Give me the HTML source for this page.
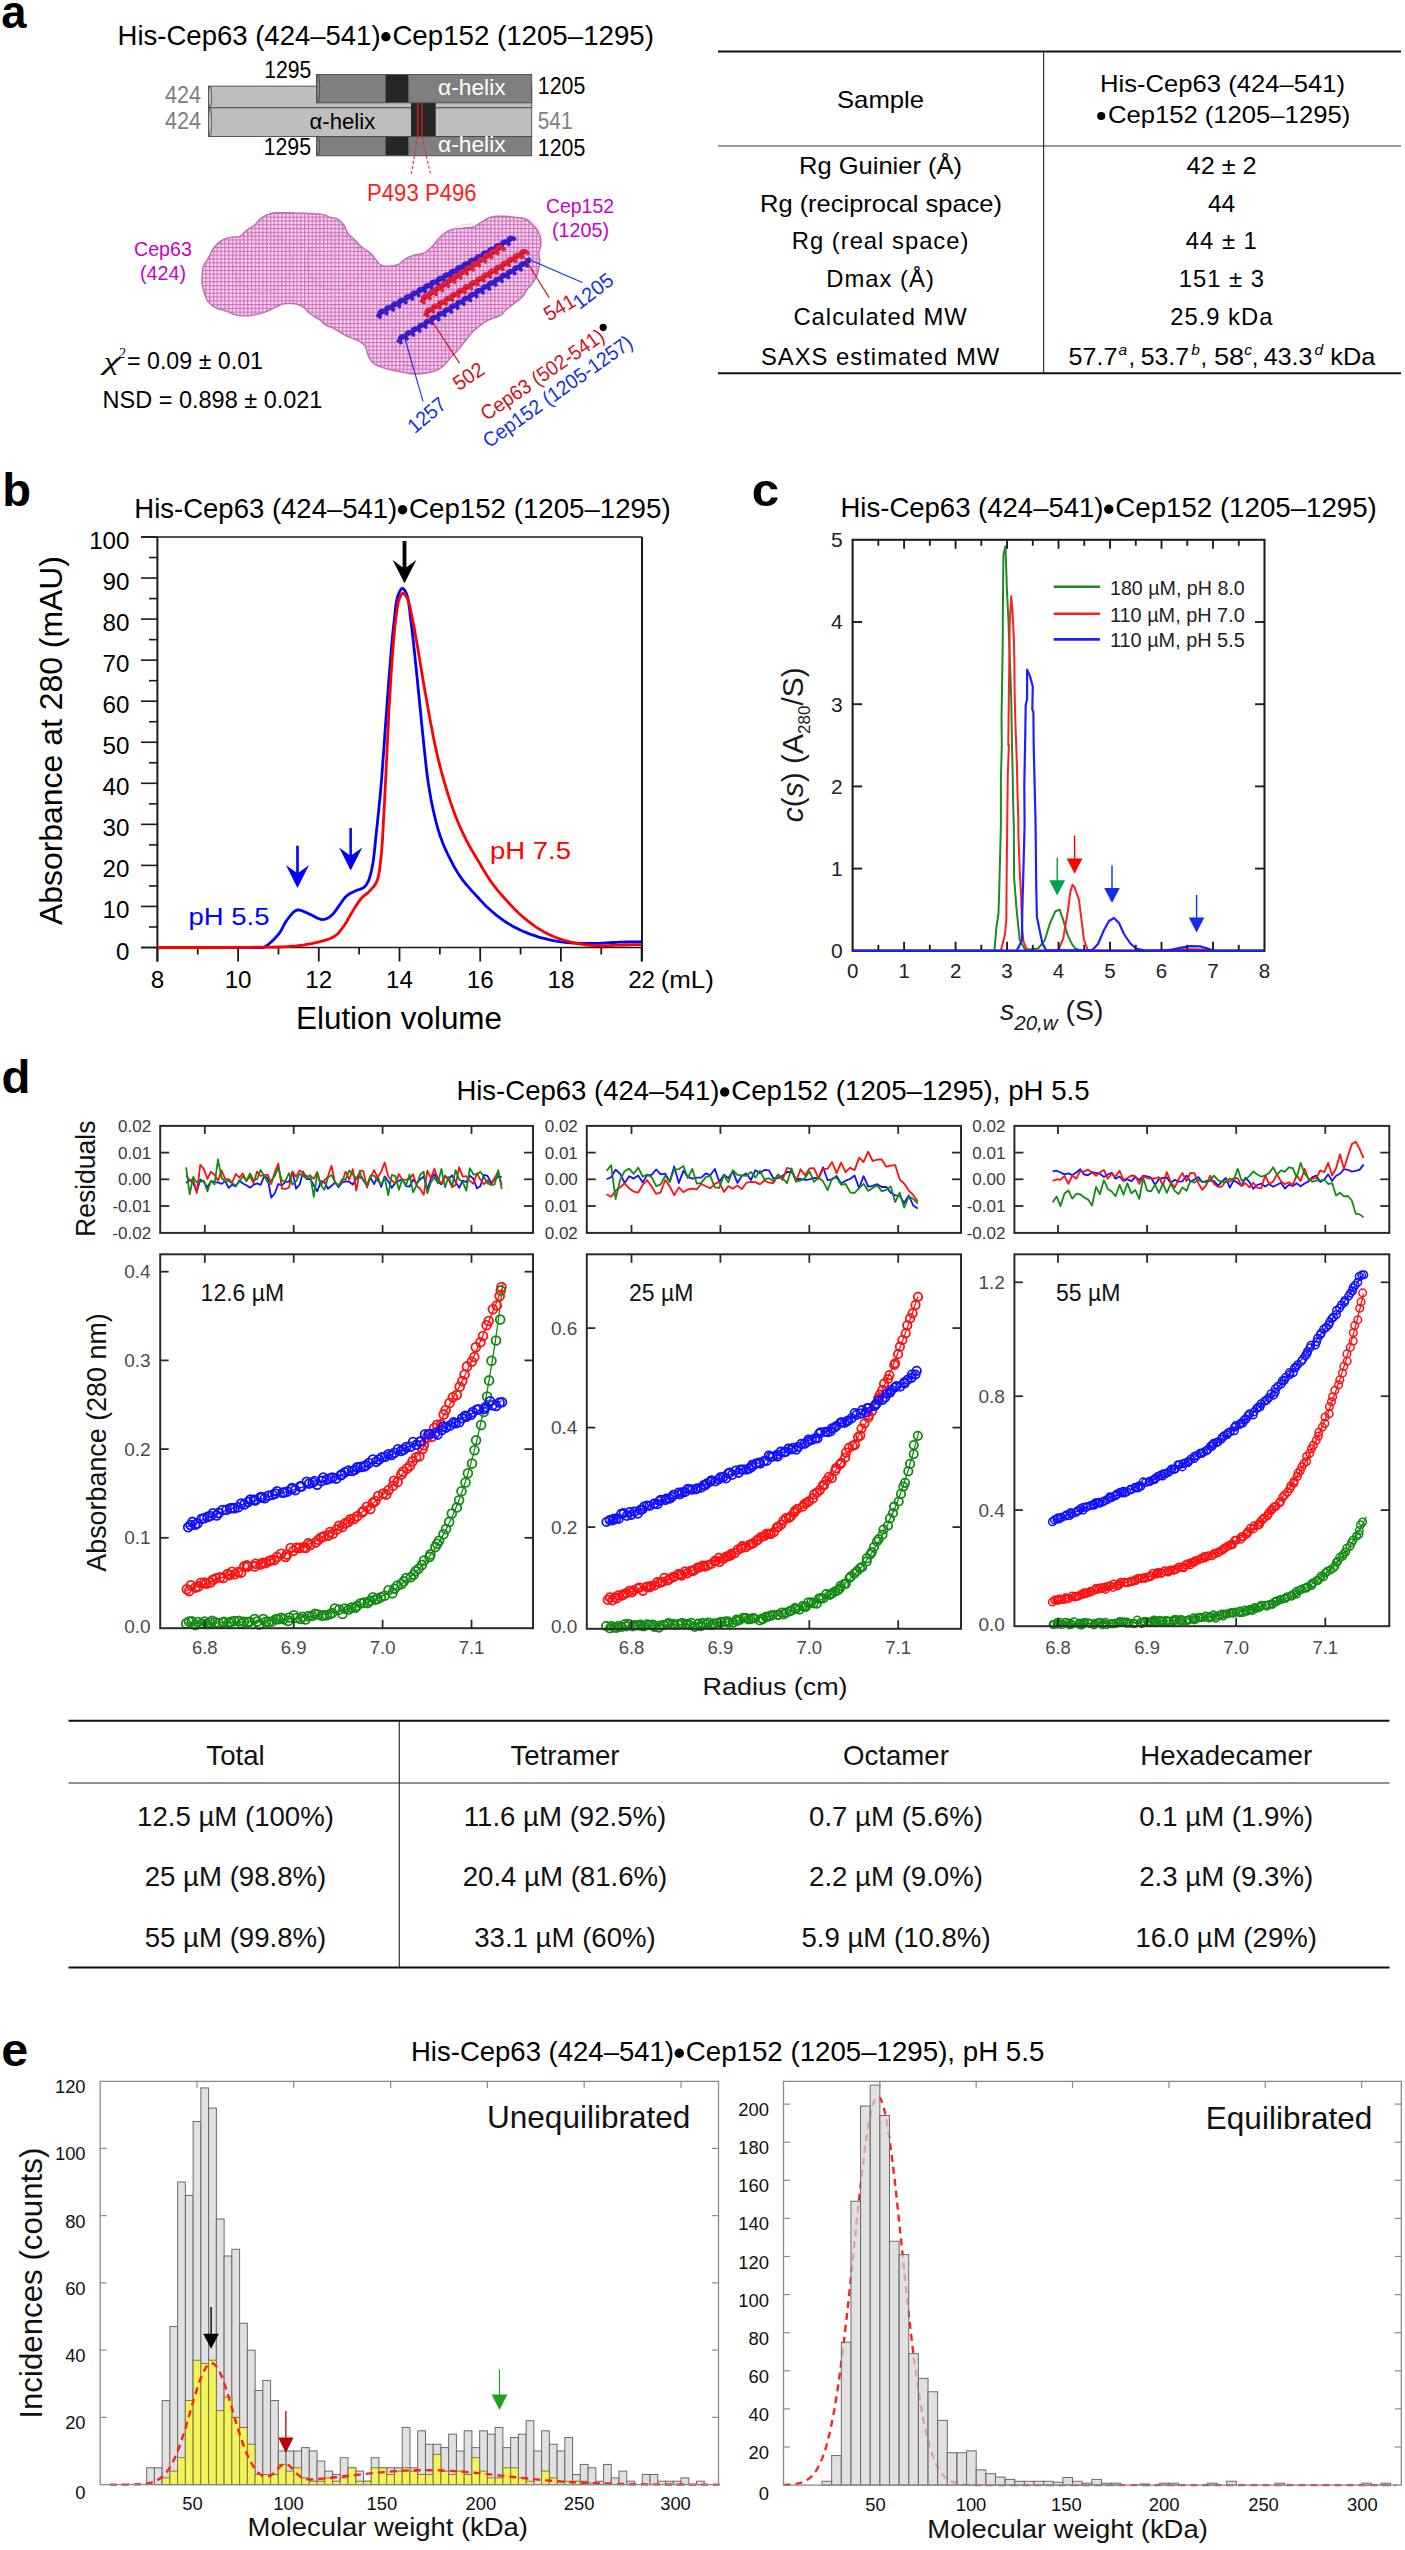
<!DOCTYPE html>
<html><head><meta charset="utf-8"><title>Figure</title>
<style>html,body{margin:0;padding:0;background:#fff;} svg{display:block;} text{font-family:"Liberation Sans",sans-serif;}</style>
</head><body>
<svg width="1405" height="2550" viewBox="0 0 1405 2550">
<rect width="1405" height="2550" fill="#fff"/>
<text x="1.30" y="27.90" font-size="47" font-weight="bold"  textLength="25.2" lengthAdjust="spacingAndGlyphs">a</text>
<text x="117.60" y="44.50" font-size="27.2" textLength="263" lengthAdjust="spacingAndGlyphs">His-Cep63 (424–541)</text>
<circle cx="385.90" cy="36.70" r="4.7" fill="#000" stroke="none" stroke-width="1" />
<text x="392.40" y="44.50" font-size="27.2" textLength="261.5" lengthAdjust="spacingAndGlyphs">Cep152 (1205–1295)</text>
<rect x="208.50" y="86.10" width="323.20" height="21.70" fill="#bebebe" stroke="#4a4a4a" stroke-width="0.9" />
<ellipse cx="210.10" cy="96.95" rx="1.6" ry="10.85" fill="#bebebe" stroke="#4a4a4a" stroke-width="0.8"/>
<rect x="208.50" y="107.80" width="323.20" height="28.70" fill="#bebebe" stroke="#4a4a4a" stroke-width="0.9" />
<ellipse cx="210.10" cy="122.15" rx="1.6" ry="14.35" fill="#bebebe" stroke="#4a4a4a" stroke-width="0.8"/>
<rect x="411.00" y="103.00" width="24.70" height="33.50" fill="#262626" />
<line x1="417.80" y1="103.00" x2="417.80" y2="136.50" stroke="#ff2020" stroke-width="1.1" />
<line x1="422.00" y1="103.00" x2="422.00" y2="136.50" stroke="#ff2020" stroke-width="1.1" />
<rect x="316.50" y="136.50" width="215.20" height="19.30" fill="#7f7f7f" stroke="#4a4a4a" stroke-width="0.9" />
<ellipse cx="318.10" cy="146.15" rx="1.6" ry="9.65" fill="#7f7f7f" stroke="#4a4a4a" stroke-width="0.8"/>
<rect x="385.60" y="137.00" width="22.80" height="18.30" fill="#262626" />
<rect x="316.50" y="74.50" width="215.20" height="28.30" fill="#7f7f7f" stroke="#4a4a4a" stroke-width="0.9" />
<ellipse cx="318.10" cy="88.65" rx="1.6" ry="14.15" fill="#7f7f7f" stroke="#4a4a4a" stroke-width="0.8"/>
<rect x="385.60" y="75.00" width="22.80" height="27.30" fill="#262626" />
<text x="438.00" y="95.00" font-size="22.5" fill="#fff"  textLength="67.6" lengthAdjust="spacingAndGlyphs">α-helix</text>
<text x="438.00" y="151.80" font-size="22.5" fill="#fff"  textLength="67.6" lengthAdjust="spacingAndGlyphs">α-helix</text>
<text x="309.50" y="128.50" font-size="22.5"  textLength="65.7" lengthAdjust="spacingAndGlyphs">α-helix</text>
<line x1="417.80" y1="136.50" x2="411.20" y2="174.60" stroke="#ff2020" stroke-width="1.1" stroke-dasharray="3,2"/>
<line x1="422.00" y1="136.50" x2="430.60" y2="174.60" stroke="#ff2020" stroke-width="1.1" stroke-dasharray="3,2"/>
<text x="264.20" y="77.80" font-size="23.2"  textLength="47.0" lengthAdjust="spacingAndGlyphs">1295</text>
<text x="263.70" y="154.60" font-size="23.2"  textLength="47.3" lengthAdjust="spacingAndGlyphs">1295</text>
<text x="537.80" y="94.30" font-size="23.2"  textLength="47.5" lengthAdjust="spacingAndGlyphs">1205</text>
<text x="537.80" y="156.00" font-size="23.2"  textLength="47.5" lengthAdjust="spacingAndGlyphs">1205</text>
<text x="165.00" y="103.00" font-size="23.2" fill="#808080"  textLength="36.0" lengthAdjust="spacingAndGlyphs">424</text>
<text x="165.00" y="128.70" font-size="23.2" fill="#808080"  textLength="36.0" lengthAdjust="spacingAndGlyphs">424</text>
<text x="537.80" y="129.00" font-size="23.2" fill="#808080"  textLength="34.7" lengthAdjust="spacingAndGlyphs">541</text>
<text x="367.00" y="200.80" font-size="23.2" fill="#ff2020"  textLength="109.6" lengthAdjust="spacingAndGlyphs">P493 P496</text>
<line x1="718.00" y1="51.50" x2="1401.00" y2="51.50" stroke="#111" stroke-width="2.0" />
<line x1="718.00" y1="146.00" x2="1401.00" y2="146.00" stroke="#333" stroke-width="1.2" />
<line x1="718.00" y1="373.30" x2="1401.00" y2="373.30" stroke="#111" stroke-width="2.0" />
<line x1="1043.60" y1="51.50" x2="1043.60" y2="373.30" stroke="#333" stroke-width="1.2" />
<text x="837.00" y="107.50" font-size="23.8"  textLength="87.0" lengthAdjust="spacingAndGlyphs">Sample</text>
<text x="1100.00" y="92.00" font-size="23.8"  textLength="245.0" lengthAdjust="spacingAndGlyphs">His-Cep63 (424–541)</text>
<circle cx="1101.20" cy="116.00" r="4.1" fill="#000" stroke="none" stroke-width="1" />
<text x="1107.90" y="123.00" font-size="23.8"  textLength="242.3" lengthAdjust="spacingAndGlyphs">Cep152 (1205–1295)</text>
<text x="799.00" y="174.20" font-size="23.8"  textLength="163.0" lengthAdjust="spacingAndGlyphs">Rg Guinier (Å)</text>
<text x="1186.60" y="174.20" font-size="23.8"  textLength="70.0" lengthAdjust="spacingAndGlyphs">42 ± 2</text>
<text x="760.00" y="211.80" font-size="23.8"  textLength="242.0" lengthAdjust="spacingAndGlyphs">Rg (reciprocal space)</text>
<text x="1207.90" y="211.80" font-size="23.8"  textLength="27.4" lengthAdjust="spacingAndGlyphs">44</text>
<text x="880.60" y="249.40" font-size="23.8" text-anchor="middle" letter-spacing="1.0">Rg (real space)</text>
<text x="1221.80" y="249.40" font-size="23.8" text-anchor="middle" letter-spacing="1.0">44 ± 1</text>
<text x="880.60" y="287.00" font-size="23.8" text-anchor="middle" letter-spacing="1.0">Dmax (Å)</text>
<text x="1221.80" y="287.00" font-size="23.8" text-anchor="middle" letter-spacing="1.0">151 ± 3</text>
<text x="880.60" y="325.00" font-size="23.8" text-anchor="middle" letter-spacing="1.0">Calculated MW</text>
<text x="1221.80" y="325.00" font-size="23.8" text-anchor="middle" letter-spacing="1.0">25.9 kDa</text>
<text x="880.60" y="364.80" font-size="23.8" text-anchor="middle" letter-spacing="1.0">SAXS estimated MW</text>
<text x="1068.40" y="364.60" font-size="23.8"  textLength="49.0" lengthAdjust="spacingAndGlyphs">57.7</text>
<text x="1128.50" y="364.60" font-size="23.8">,</text>
<text x="1140.70" y="364.60" font-size="23.8"  textLength="48.3" lengthAdjust="spacingAndGlyphs">53.7</text>
<text x="1200.50" y="364.60" font-size="23.8">,</text>
<text x="1214.00" y="364.60" font-size="23.8"  textLength="30.2" lengthAdjust="spacingAndGlyphs">58</text>
<text x="1251.80" y="364.60" font-size="23.8">,</text>
<text x="1263.80" y="364.60" font-size="23.8"  textLength="48.5" lengthAdjust="spacingAndGlyphs">43.3</text>
<text x="1330.30" y="364.60" font-size="23.8"  textLength="44.9" lengthAdjust="spacingAndGlyphs">kDa</text>
<text x="1118.50" y="355.00" font-size="15.5" font-style="italic">a</text>
<text x="1191.20" y="355.00" font-size="15.5" font-style="italic">b</text>
<text x="1244.20" y="355.00" font-size="15.5" font-style="italic">c</text>
<text x="1314.50" y="355.00" font-size="15.5" font-style="italic">d</text>
<defs>
<pattern id="mesh" patternUnits="userSpaceOnUse" width="3.8" height="3.8">
<rect width="3.8" height="3.8" fill="#f8dcf2"/>
<path d="M0,0.7 H3.8 M0.7,0 V3.8" stroke="#d070be" stroke-width="1.2"/>
</pattern>
<radialGradient id="blobshade" cx="0.5" cy="0.5" r="0.6">
<stop offset="0.6" stop-color="#b04aa0" stop-opacity="0"/>
<stop offset="1" stop-color="#b04aa0" stop-opacity="0.25"/>
</radialGradient>
</defs>
<path d="M202.0,276.8 L202.2,274.2 L202.4,271.5 L202.7,268.9 L203.3,266.5 L204.2,264.5 L205.3,262.6 L206.6,260.8 L207.8,258.8 L209.3,256.0 L210.7,253.0 L212.4,250.0 L214.2,247.3 L216.2,245.0 L218.4,242.9 L220.7,241.1 L223.2,239.6 L225.7,238.6 L228.4,237.9 L231.0,237.4 L233.5,237.0 L235.2,236.9 L236.8,236.9 L238.4,236.8 L239.9,236.4 L241.6,235.3 L243.1,233.8 L244.7,232.1 L246.3,230.6 L248.2,229.3 L250.1,228.1 L252.1,226.9 L254.0,225.5 L255.9,223.7 L257.7,221.6 L259.6,219.6 L261.7,217.8 L264.0,216.4 L266.5,215.1 L269.2,214.1 L271.9,213.3 L274.9,212.8 L278.0,212.7 L281.3,212.7 L284.7,212.7 L289.2,212.7 L294.1,212.9 L299.1,213.1 L304.0,213.3 L309.0,213.5 L314.2,213.7 L319.1,214.0 L323.2,214.6 L325.2,215.2 L326.8,215.9 L328.3,216.6 L330.0,217.2 L331.9,217.6 L333.9,218.0 L335.9,218.4 L337.7,219.1 L339.5,220.3 L341.2,221.9 L342.7,223.7 L344.1,225.5 L345.2,227.4 L346.0,229.4 L346.8,231.3 L347.9,233.2 L349.3,234.9 L351.0,236.5 L352.7,238.0 L354.4,239.6 L356.3,241.5 L358.1,243.5 L360.1,245.5 L362.1,247.3 L364.3,249.0 L366.7,250.5 L369.0,252.1 L371.0,253.7 L372.5,255.3 L373.7,256.9 L374.9,258.5 L376.2,260.1 L377.4,261.6 L378.5,263.0 L379.8,264.3 L381.3,265.3 L383.6,265.9 L386.2,266.2 L389.0,266.1 L391.5,265.9 L393.5,265.7 L395.5,265.3 L397.4,264.8 L399.2,264.0 L400.9,262.9 L402.4,261.5 L403.9,260.1 L405.6,258.8 L407.7,257.7 L410.0,256.7 L412.3,255.8 L414.6,255.0 L416.9,254.5 L419.2,254.2 L421.4,253.8 L423.6,253.1 L425.6,252.0 L427.6,250.6 L429.5,249.0 L431.3,247.3 L433.3,245.2 L435.2,242.8 L437.1,240.4 L439.0,238.3 L440.6,236.7 L442.1,235.2 L443.7,233.8 L445.4,232.6 L447.2,231.6 L449.1,230.7 L451.0,230.0 L453.1,229.4 L455.5,228.9 L458.1,228.6 L460.7,228.4 L463.3,228.1 L466.1,227.8 L469.0,227.6 L471.9,227.3 L474.5,226.6 L476.6,225.5 L478.6,224.1 L480.5,222.6 L482.5,221.3 L484.6,220.1 L486.6,218.9 L488.8,217.9 L491.0,217.1 L493.4,216.6 L495.9,216.3 L498.5,216.2 L501.2,216.2 L504.3,216.3 L507.6,216.5 L510.8,216.8 L514.0,217.1 L516.9,217.4 L519.8,217.6 L522.6,218.0 L525.1,218.8 L527.0,219.8 L528.8,221.1 L530.4,222.5 L532.0,223.9 L533.4,225.3 L534.8,226.7 L536.0,228.2 L537.1,229.9 L538.2,231.9 L539.2,234.0 L539.9,236.2 L540.5,238.4 L540.8,240.6 L540.8,242.8 L540.7,245.0 L540.5,247.0 L540.1,248.5 L539.6,250.0 L539.1,251.4 L538.8,252.9 L538.9,254.6 L539.2,256.3 L539.5,258.0 L539.7,259.8 L539.7,261.9 L539.5,264.0 L539.2,266.2 L538.8,268.3 L538.3,270.5 L537.8,272.7 L537.1,274.9 L536.3,276.9 L535.4,278.7 L534.3,280.4 L533.2,282.1 L532.0,283.7 L530.8,285.2 L529.5,286.7 L528.1,288.2 L526.9,289.7 L525.8,291.4 L524.9,293.1 L523.9,294.8 L522.6,296.5 L520.3,298.7 L517.6,300.9 L514.8,303.0 L512.3,304.9 L510.6,306.3 L508.9,307.5 L507.4,308.7 L505.9,310.0 L504.6,311.3 L503.5,312.6 L502.3,313.9 L500.8,315.1 L498.0,316.5 L494.5,317.8 L491.0,319.0 L487.9,320.3 L485.8,321.5 L483.9,322.7 L482.1,324.0 L480.3,325.4 L478.3,326.9 L476.3,328.5 L474.4,330.1 L472.6,331.8 L471.2,333.4 L469.9,335.0 L468.7,336.6 L467.4,338.2 L466.1,339.8 L464.8,341.4 L463.6,343.0 L462.3,344.6 L461.0,346.2 L459.8,347.8 L458.5,349.4 L457.2,351.0 L455.7,352.6 L454.0,354.2 L452.4,355.7 L450.8,357.4 L449.2,359.3 L447.7,361.3 L446.1,363.3 L444.4,365.1 L442.6,366.6 L440.7,368.0 L438.7,369.2 L436.7,370.3 L434.6,371.1 L432.4,371.8 L430.1,372.3 L427.7,372.8 L424.7,373.3 L421.5,373.8 L418.2,374.1 L414.9,374.1 L411.2,373.8 L407.3,373.1 L403.4,372.3 L399.5,371.5 L395.3,370.7 L390.9,369.8 L386.7,368.9 L382.8,367.7 L379.9,366.6 L377.2,365.5 L374.7,364.2 L372.6,362.6 L371.1,360.9 L369.9,359.0 L368.9,357.0 L368.0,355.0 L367.2,352.8 L366.7,350.4 L366.0,348.0 L365.0,346.0 L363.6,344.4 L361.9,343.0 L360.0,341.7 L358.0,340.5 L355.4,339.3 L352.5,338.3 L349.6,337.2 L346.6,336.0 L343.2,334.1 L339.6,331.9 L336.1,329.8 L333.0,328.0 L331.0,327.2 L329.2,326.5 L327.4,325.9 L325.8,325.1 L324.4,324.1 L323.2,322.9 L322.0,321.6 L320.6,320.4 L318.2,318.8 L315.6,317.3 L312.8,315.7 L310.4,314.0 L308.7,312.4 L307.1,310.7 L305.6,309.0 L304.0,307.6 L302.5,306.6 L301.0,305.7 L299.4,305.0 L297.6,304.4 L294.6,303.8 L291.2,303.5 L287.8,303.5 L284.7,303.7 L282.7,304.1 L280.8,304.7 L279.0,305.5 L277.1,306.3 L274.7,307.5 L272.2,308.8 L269.6,310.2 L266.8,311.4 L263.5,312.6 L260.0,313.7 L256.3,314.6 L252.7,315.3 L248.8,315.7 L244.8,315.9 L240.9,315.7 L237.3,315.3 L234.6,314.6 L232.0,313.6 L229.6,312.4 L227.0,311.4 L224.1,310.5 L221.1,309.7 L218.2,308.8 L215.5,307.6 L213.3,306.3 L211.2,304.7 L209.4,303.1 L207.8,301.2 L206.5,299.1 L205.6,296.9 L204.7,294.5 L204.0,292.2 L203.3,289.9 L202.8,287.5 L202.3,285.2 L202.0,283.0 L201.9,281.4 L201.9,279.8 L202.0,278.3 L202.0,276.8 Z" fill="url(#mesh)" stroke="#c06cb2" stroke-width="1.4" />
<circle cx="262" cy="262" r="30" fill="none" stroke="#c065b4" stroke-width="1" opacity="0.3"/>
<circle cx="335" cy="262" r="28" fill="none" stroke="#c065b4" stroke-width="1" opacity="0.3"/>
<circle cx="470" cy="260" r="36" fill="none" stroke="#c065b4" stroke-width="1" opacity="0.3"/>
<circle cx="520" cy="240" r="22" fill="none" stroke="#c065b4" stroke-width="1" opacity="0.3"/>
<circle cx="420" cy="340" r="28" fill="none" stroke="#c065b4" stroke-width="1" opacity="0.3"/>
<line x1="377.30" y1="315.90" x2="512.80" y2="239.10" stroke="#2a14a0" stroke-width="2.4" stroke-linecap="round"/>
<polyline points="378.7,315.1 379.3,315.6 379.8,316.2 380.1,316.6 380.3,317.0 380.3,317.3 380.2,317.3 380.0,317.2 379.8,316.9 379.5,316.4 379.3,315.7 379.1,314.9 379.1,314.1 379.2,313.2 379.4,312.4 379.8,311.7 380.4,311.1 381.0,310.7 381.8,310.5 382.6,310.4 383.5,310.6 384.3,310.9 385.0,311.4 385.6,311.9 386.1,312.4 386.5,312.9 386.7,313.3 386.7,313.6 386.6,313.7 386.5,313.6 386.2,313.3 386.0,312.8 385.8,312.2 385.6,311.4 385.5,310.6 385.6,309.7 385.8,308.9 386.2,308.2 386.7,307.5 387.4,307.1 388.1,306.8 388.9,306.8 389.7,306.9 390.6,307.2 391.3,307.6 392.0,308.1 392.5,308.7 392.9,309.2 393.1,309.6 393.2,309.9 393.1,310.0 392.9,310.0 392.7,309.7 392.5,309.3 392.2,308.7 392.1,307.9 392.0,307.1 392.0,306.3 392.2,305.4 392.5,304.6 393.0,304.0 393.7,303.5 394.4,303.2 395.2,303.1 396.0,303.2 396.8,303.5 397.6,303.9 398.3,304.4 398.8,304.9 399.2,305.4 399.5,305.9 399.6,306.2 399.6,306.4 399.4,306.4 399.2,306.2 399.0,305.7 398.7,305.2 398.5,304.4 398.4,303.6 398.4,302.8 398.6,301.9 398.9,301.1 399.4,300.5 400.0,300.0 400.7,299.6 401.5,299.5 402.3,299.5 403.1,299.8 403.9,300.2 404.6,300.6 405.2,301.2 405.6,301.7 405.9,302.2 406.0,302.5 406.0,302.7 405.9,302.7 405.7,302.6 405.4,302.2 405.2,301.6 405.0,300.9 404.9,300.1 404.9,299.3 405.0,298.4 405.3,297.6 405.7,296.9 406.3,296.4 407.0,296.0 407.8,295.8 408.6,295.9 409.4,296.1 410.2,296.4 410.9,296.9 411.5,297.4 412.0,298.0 412.3,298.4 412.5,298.8 412.5,299.0 412.4,299.1 412.2,299.0 411.9,298.6 411.7,298.1 411.5,297.4 411.3,296.6 411.3,295.8 411.4,294.9 411.6,294.1 412.1,293.4 412.6,292.8 413.3,292.4 414.0,292.2 414.9,292.2 415.7,292.4 416.5,292.7 417.2,293.2 417.9,293.7 418.3,294.2 418.7,294.7 418.9,295.1 418.9,295.4 418.8,295.5 418.6,295.4 418.4,295.1 418.2,294.6 417.9,293.9 417.8,293.2 417.7,292.3 417.8,291.4 418.0,290.6 418.4,289.9 418.9,289.3 419.6,288.8 420.3,288.6 421.2,288.5 422.0,288.7 422.8,289.0 423.5,289.4 424.2,289.9 424.7,290.5 425.1,291.0 425.3,291.4 425.4,291.7 425.3,291.8 425.1,291.7 424.9,291.5 424.6,291.0 424.4,290.4 424.2,289.7 424.2,288.8 424.2,288.0 424.4,287.1 424.8,286.4 425.3,285.7 425.9,285.3 426.6,285.0 427.4,284.9 428.3,285.0 429.1,285.3 429.8,285.7 430.5,286.2 431.1,286.7 431.5,287.2 431.7,287.7 431.8,288.0 431.7,288.1 431.6,288.1 431.4,287.9 431.1,287.5 430.9,286.9 430.7,286.2 430.6,285.3 430.6,284.5 430.8,283.6 431.1,282.8 431.6,282.2 432.2,281.7 432.9,281.4 433.7,281.2 434.5,281.3 435.4,281.6 436.1,281.9 436.8,282.4 437.4,283.0 437.8,283.5 438.1,283.9 438.2,284.3 438.2,284.5 438.1,284.5 437.9,284.3 437.6,283.9 437.4,283.4 437.2,282.7 437.1,281.8 437.1,281.0 437.2,280.1 437.5,279.3 437.9,278.6 438.5,278.1 439.2,277.8 440.0,277.6 440.8,277.6 441.7,277.8 442.4,278.2 443.1,278.7 443.7,279.2 444.2,279.7 444.5,280.2 444.6,280.6 444.7,280.8 444.5,280.9 444.3,280.7 444.1,280.4 443.9,279.8 443.6,279.1 443.5,278.4 443.5,277.5 443.6,276.6 443.9,275.8 444.3,275.1 444.8,274.6 445.5,274.2 446.3,274.0 447.1,274.0 447.9,274.1 448.7,274.5 449.5,274.9 450.1,275.5 450.6,276.0 450.9,276.5 451.1,276.9 451.1,277.1 451.0,277.2 450.8,277.1 450.6,276.8 450.3,276.3 450.1,275.6 450.0,274.9 449.9,274.0 450.0,273.2 450.2,272.3 450.6,271.6 451.2,271.0 451.8,270.6 452.6,270.3 453.4,270.3 454.2,270.5 455.0,270.8 455.8,271.2 456.4,271.7 456.9,272.2 457.3,272.7 457.5,273.2 457.5,273.4 457.5,273.6 457.3,273.5 457.1,273.2 456.8,272.7 456.6,272.1 456.4,271.4 456.3,270.5 456.4,269.7 456.6,268.8 457.0,268.1 457.5,267.4 458.1,267.0 458.9,266.7 459.7,266.6 460.5,266.8 461.3,267.0 462.1,267.5 462.7,268.0 463.3,268.5 463.7,269.0 463.9,269.4 464.0,269.8 463.9,269.9 463.8,269.9 463.6,269.6 463.3,269.2 463.1,268.6 462.9,267.9 462.8,267.0 462.8,266.2 463.0,265.3 463.3,264.6 463.8,263.9 464.4,263.4 465.2,263.1 466.0,263.0 466.8,263.1 467.6,263.3 468.4,263.7 469.1,264.2 469.6,264.7 470.0,265.3 470.3,265.7 470.4,266.1 470.4,266.2 470.3,266.2 470.0,266.0 469.8,265.6 469.5,265.1 469.3,264.4 469.2,263.5 469.2,262.7 469.4,261.8 469.7,261.0 470.2,260.4 470.7,259.8 471.5,259.5 472.2,259.4 473.1,259.4 473.9,259.6 474.7,260.0 475.4,260.5 476.0,261.0 476.4,261.5 476.7,262.0 476.8,262.4 476.8,262.6 476.7,262.6 476.5,262.4 476.3,262.1 476.0,261.5 475.8,260.9 475.7,260.1 475.7,259.2 475.8,258.3 476.1,257.5 476.5,256.8 477.1,256.3 477.7,255.9 478.5,255.7 479.3,255.7 480.2,255.9 481.0,256.3 481.7,256.7 482.3,257.2 482.8,257.8 483.1,258.3 483.3,258.7 483.3,258.9 483.2,259.0 483.0,258.8 482.8,258.5 482.5,258.0 482.3,257.3 482.1,256.6 482.1,255.7 482.2,254.9 482.4,254.0 482.8,253.3 483.4,252.7 484.0,252.3 484.8,252.1 485.6,252.1 486.5,252.2 487.3,252.5 488.0,253.0 488.6,253.5 489.1,254.0 489.5,254.5 489.7,254.9 489.7,255.2 489.7,255.3 489.5,255.2 489.2,254.9 489.0,254.5 488.8,253.8 488.6,253.1 488.5,252.2 488.6,251.4 488.8,250.5 489.2,249.8 489.7,249.2 490.4,248.7 491.1,248.5 491.9,248.4 492.7,248.5 493.6,248.8 494.3,249.2 495.0,249.8 495.5,250.3 495.9,250.8 496.1,251.2 496.2,251.5 496.1,251.7 496.0,251.6 495.7,251.4 495.5,250.9 495.2,250.3 495.1,249.6 495.0,248.7 495.0,247.9 495.2,247.0 495.5,246.3 496.0,245.6 496.7,245.1 497.4,244.8 498.2,244.7 499.0,244.8 499.8,245.1 500.6,245.5 501.3,246.0 501.8,246.5 502.2,247.1 502.5,247.5 502.6,247.8 502.6,248.0 502.4,248.0 502.2,247.8 502.0,247.4 501.7,246.8 501.5,246.1 501.4,245.3 501.4,244.4 501.6,243.5 501.9,242.8 502.4,242.1 503.0,241.6 503.7,241.2 504.5,241.1 505.3,241.2 506.1,241.4 506.9,241.8 507.6,242.3 508.2,242.8 508.6,243.3 508.9,243.8 509.0,244.1 509.0,244.3 508.9,244.4 508.7,244.2 508.4,243.8 508.2,243.3 508.0,242.6 507.9,241.8 507.9,240.9 508.0,240.1 508.3,239.2 508.7,238.6 509.3,238.0 510.0,237.6 510.8,237.5 511.6,237.5 512.4,237.7 513.2,238.0 513.9,238.5 514.5,239.0" fill="none" stroke="#3a1ed2" stroke-width="3.6" stroke-linejoin="round" stroke-linecap="round"/>
<polyline points="378.7,315.1 379.3,315.6 379.8,316.2 380.1,316.6 380.3,317.0 380.3,317.3 380.2,317.3 380.0,317.2 379.8,316.9 379.5,316.4 379.3,315.7 379.1,314.9 379.1,314.1 379.2,313.2 379.4,312.4 379.8,311.7 380.4,311.1 381.0,310.7 381.8,310.5 382.6,310.4 383.5,310.6 384.3,310.9 385.0,311.4 385.6,311.9 386.1,312.4 386.5,312.9 386.7,313.3 386.7,313.6 386.6,313.7 386.5,313.6 386.2,313.3 386.0,312.8 385.8,312.2 385.6,311.4 385.5,310.6 385.6,309.7 385.8,308.9 386.2,308.2 386.7,307.5 387.4,307.1 388.1,306.8 388.9,306.8 389.7,306.9 390.6,307.2 391.3,307.6 392.0,308.1 392.5,308.7 392.9,309.2 393.1,309.6 393.2,309.9 393.1,310.0 392.9,310.0 392.7,309.7 392.5,309.3 392.2,308.7 392.1,307.9 392.0,307.1 392.0,306.3 392.2,305.4 392.5,304.6 393.0,304.0 393.7,303.5 394.4,303.2 395.2,303.1 396.0,303.2 396.8,303.5 397.6,303.9 398.3,304.4 398.8,304.9 399.2,305.4 399.5,305.9 399.6,306.2 399.6,306.4 399.4,306.4 399.2,306.2 399.0,305.7 398.7,305.2 398.5,304.4 398.4,303.6 398.4,302.8 398.6,301.9 398.9,301.1 399.4,300.5 400.0,300.0 400.7,299.6 401.5,299.5 402.3,299.5 403.1,299.8 403.9,300.2 404.6,300.6 405.2,301.2 405.6,301.7 405.9,302.2 406.0,302.5 406.0,302.7 405.9,302.7 405.7,302.6 405.4,302.2 405.2,301.6 405.0,300.9 404.9,300.1 404.9,299.3 405.0,298.4 405.3,297.6 405.7,296.9 406.3,296.4 407.0,296.0 407.8,295.8 408.6,295.9 409.4,296.1 410.2,296.4 410.9,296.9 411.5,297.4 412.0,298.0 412.3,298.4 412.5,298.8 412.5,299.0 412.4,299.1 412.2,299.0 411.9,298.6 411.7,298.1 411.5,297.4 411.3,296.6 411.3,295.8 411.4,294.9 411.6,294.1 412.1,293.4 412.6,292.8 413.3,292.4 414.0,292.2 414.9,292.2 415.7,292.4 416.5,292.7 417.2,293.2 417.9,293.7 418.3,294.2 418.7,294.7 418.9,295.1 418.9,295.4 418.8,295.5 418.6,295.4 418.4,295.1 418.2,294.6 417.9,293.9 417.8,293.2 417.7,292.3 417.8,291.4 418.0,290.6 418.4,289.9 418.9,289.3 419.6,288.8 420.3,288.6 421.2,288.5 422.0,288.7 422.8,289.0 423.5,289.4 424.2,289.9 424.7,290.5 425.1,291.0 425.3,291.4 425.4,291.7 425.3,291.8 425.1,291.7 424.9,291.5 424.6,291.0 424.4,290.4 424.2,289.7 424.2,288.8 424.2,288.0 424.4,287.1 424.8,286.4 425.3,285.7 425.9,285.3 426.6,285.0 427.4,284.9 428.3,285.0 429.1,285.3 429.8,285.7 430.5,286.2 431.1,286.7 431.5,287.2 431.7,287.7 431.8,288.0 431.7,288.1 431.6,288.1 431.4,287.9 431.1,287.5 430.9,286.9 430.7,286.2 430.6,285.3 430.6,284.5 430.8,283.6 431.1,282.8 431.6,282.2 432.2,281.7 432.9,281.4 433.7,281.2 434.5,281.3 435.4,281.6 436.1,281.9 436.8,282.4 437.4,283.0 437.8,283.5 438.1,283.9 438.2,284.3 438.2,284.5 438.1,284.5 437.9,284.3 437.6,283.9 437.4,283.4 437.2,282.7 437.1,281.8 437.1,281.0 437.2,280.1 437.5,279.3 437.9,278.6 438.5,278.1 439.2,277.8 440.0,277.6 440.8,277.6 441.7,277.8 442.4,278.2 443.1,278.7 443.7,279.2 444.2,279.7 444.5,280.2 444.6,280.6 444.7,280.8 444.5,280.9 444.3,280.7 444.1,280.4 443.9,279.8 443.6,279.1 443.5,278.4 443.5,277.5 443.6,276.6 443.9,275.8 444.3,275.1 444.8,274.6 445.5,274.2 446.3,274.0 447.1,274.0 447.9,274.1 448.7,274.5 449.5,274.9 450.1,275.5 450.6,276.0 450.9,276.5 451.1,276.9 451.1,277.1 451.0,277.2 450.8,277.1 450.6,276.8 450.3,276.3 450.1,275.6 450.0,274.9 449.9,274.0 450.0,273.2 450.2,272.3 450.6,271.6 451.2,271.0 451.8,270.6 452.6,270.3 453.4,270.3 454.2,270.5 455.0,270.8 455.8,271.2 456.4,271.7 456.9,272.2 457.3,272.7 457.5,273.2 457.5,273.4 457.5,273.6 457.3,273.5 457.1,273.2 456.8,272.7 456.6,272.1 456.4,271.4 456.3,270.5 456.4,269.7 456.6,268.8 457.0,268.1 457.5,267.4 458.1,267.0 458.9,266.7 459.7,266.6 460.5,266.8 461.3,267.0 462.1,267.5 462.7,268.0 463.3,268.5 463.7,269.0 463.9,269.4 464.0,269.8 463.9,269.9 463.8,269.9 463.6,269.6 463.3,269.2 463.1,268.6 462.9,267.9 462.8,267.0 462.8,266.2 463.0,265.3 463.3,264.6 463.8,263.9 464.4,263.4 465.2,263.1 466.0,263.0 466.8,263.1 467.6,263.3 468.4,263.7 469.1,264.2 469.6,264.7 470.0,265.3 470.3,265.7 470.4,266.1 470.4,266.2 470.3,266.2 470.0,266.0 469.8,265.6 469.5,265.1 469.3,264.4 469.2,263.5 469.2,262.7 469.4,261.8 469.7,261.0 470.2,260.4 470.7,259.8 471.5,259.5 472.2,259.4 473.1,259.4 473.9,259.6 474.7,260.0 475.4,260.5 476.0,261.0 476.4,261.5 476.7,262.0 476.8,262.4 476.8,262.6 476.7,262.6 476.5,262.4 476.3,262.1 476.0,261.5 475.8,260.9 475.7,260.1 475.7,259.2 475.8,258.3 476.1,257.5 476.5,256.8 477.1,256.3 477.7,255.9 478.5,255.7 479.3,255.7 480.2,255.9 481.0,256.3 481.7,256.7 482.3,257.2 482.8,257.8 483.1,258.3 483.3,258.7 483.3,258.9 483.2,259.0 483.0,258.8 482.8,258.5 482.5,258.0 482.3,257.3 482.1,256.6 482.1,255.7 482.2,254.9 482.4,254.0 482.8,253.3 483.4,252.7 484.0,252.3 484.8,252.1 485.6,252.1 486.5,252.2 487.3,252.5 488.0,253.0 488.6,253.5 489.1,254.0 489.5,254.5 489.7,254.9 489.7,255.2 489.7,255.3 489.5,255.2 489.2,254.9 489.0,254.5 488.8,253.8 488.6,253.1 488.5,252.2 488.6,251.4 488.8,250.5 489.2,249.8 489.7,249.2 490.4,248.7 491.1,248.5 491.9,248.4 492.7,248.5 493.6,248.8 494.3,249.2 495.0,249.8 495.5,250.3 495.9,250.8 496.1,251.2 496.2,251.5 496.1,251.7 496.0,251.6 495.7,251.4 495.5,250.9 495.2,250.3 495.1,249.6 495.0,248.7 495.0,247.9 495.2,247.0 495.5,246.3 496.0,245.6 496.7,245.1 497.4,244.8 498.2,244.7 499.0,244.8 499.8,245.1 500.6,245.5 501.3,246.0 501.8,246.5 502.2,247.1 502.5,247.5 502.6,247.8 502.6,248.0 502.4,248.0 502.2,247.8 502.0,247.4 501.7,246.8 501.5,246.1 501.4,245.3 501.4,244.4 501.6,243.5 501.9,242.8 502.4,242.1 503.0,241.6 503.7,241.2 504.5,241.1 505.3,241.2 506.1,241.4 506.9,241.8 507.6,242.3 508.2,242.8 508.6,243.3 508.9,243.8 509.0,244.1 509.0,244.3 508.9,244.4 508.7,244.2 508.4,243.8 508.2,243.3 508.0,242.6 507.9,241.8 507.9,240.9 508.0,240.1 508.3,239.2 508.7,238.6 509.3,238.0 510.0,237.6 510.8,237.5 511.6,237.5 512.4,237.7 513.2,238.0 513.9,238.5 514.5,239.0" fill="none" stroke="#2a14a0" stroke-width="1.0" stroke-linejoin="round" stroke-dasharray="2.5,4.9" opacity="0.6"/>
<line x1="420.80" y1="301.40" x2="503.10" y2="246.90" stroke="#b01028" stroke-width="2.4" stroke-linecap="round"/>
<polyline points="422.1,300.5 422.8,301.0 423.3,301.5 423.6,302.0 423.8,302.3 423.9,302.6 423.8,302.6 423.6,302.5 423.3,302.2 423.0,301.7 422.8,301.1 422.6,300.3 422.5,299.5 422.5,298.6 422.7,297.8 423.0,297.0 423.5,296.4 424.2,295.9 424.9,295.7 425.7,295.6 426.6,295.7 427.4,296.0 428.2,296.3 428.8,296.8 429.4,297.3 429.7,297.8 430.0,298.2 430.0,298.4 430.0,298.6 429.8,298.5 429.5,298.2 429.3,297.8 429.0,297.1 428.8,296.4 428.6,295.6 428.7,294.7 428.8,293.8 429.1,293.1 429.6,292.4 430.2,291.9 430.9,291.6 431.7,291.5 432.6,291.6 433.4,291.8 434.2,292.2 434.9,292.6 435.4,293.1 435.9,293.6 436.1,294.0 436.2,294.3 436.2,294.5 436.0,294.4 435.8,294.2 435.5,293.8 435.2,293.2 435.0,292.5 434.8,291.6 434.8,290.8 434.9,289.9 435.2,289.1 435.7,288.4 436.3,287.9 437.0,287.6 437.8,287.4 438.6,287.5 439.4,287.7 440.2,288.0 440.9,288.5 441.5,289.0 442.0,289.4 442.2,289.9 442.4,290.2 442.4,290.4 442.2,290.4 442.0,290.2 441.7,289.8 441.4,289.2 441.2,288.5 441.0,287.7 441.0,286.8 441.1,286.0 441.3,285.2 441.7,284.5 442.3,283.9 443.0,283.5 443.8,283.4 444.6,283.4 445.4,283.5 446.3,283.9 447.0,284.3 447.6,284.8 448.1,285.3 448.4,285.7 448.5,286.1 448.5,286.3 448.4,286.3 448.2,286.1 447.9,285.8 447.6,285.2 447.4,284.6 447.2,283.8 447.1,282.9 447.2,282.1 447.4,281.2 447.8,280.5 448.4,279.9 449.0,279.5 449.8,279.3 450.6,279.3 451.5,279.4 452.3,279.7 453.0,280.1 453.7,280.6 454.2,281.1 454.5,281.5 454.7,281.9 454.7,282.1 454.6,282.2 454.4,282.1 454.2,281.8 453.9,281.3 453.6,280.6 453.4,279.9 453.3,279.0 453.4,278.1 453.6,277.3 453.9,276.6 454.4,275.9 455.1,275.5 455.8,275.2 456.6,275.2 457.5,275.3 458.3,275.5 459.1,275.9 459.7,276.4 460.2,276.9 460.6,277.4 460.8,277.8 460.9,278.0 460.8,278.1 460.6,278.0 460.4,277.8 460.1,277.3 459.8,276.7 459.6,275.9 459.5,275.1 459.5,274.2 459.7,273.4 460.0,272.6 460.5,272.0 461.1,271.5 461.8,271.2 462.6,271.1 463.5,271.2 464.3,271.4 465.1,271.8 465.8,272.2 466.3,272.7 466.7,273.2 467.0,273.6 467.1,273.9 467.0,274.0 466.8,274.0 466.6,273.7 466.3,273.3 466.0,272.7 465.8,272.0 465.7,271.2 465.7,270.3 465.8,269.4 466.1,268.7 466.5,268.0 467.1,267.5 467.9,267.1 468.7,267.0 469.5,267.0 470.3,267.3 471.1,267.6 471.8,268.1 472.4,268.5 472.8,269.0 473.1,269.5 473.2,269.8 473.2,269.9 473.1,269.9 472.8,269.7 472.5,269.3 472.3,268.8 472.0,268.0 471.9,267.2 471.8,266.4 471.9,265.5 472.2,264.7 472.6,264.0 473.2,263.5 473.9,263.1 474.7,262.9 475.5,262.9 476.3,263.1 477.1,263.4 477.9,263.9 478.5,264.4 478.9,264.9 479.2,265.3 479.4,265.6 479.4,265.8 479.3,265.9 479.0,265.7 478.8,265.3 478.5,264.8 478.2,264.1 478.1,263.3 478.0,262.5 478.1,261.6 478.3,260.8 478.7,260.1 479.2,259.5 479.9,259.1 480.7,258.9 481.5,258.8 482.3,259.0 483.2,259.3 483.9,259.7 484.5,260.2 485.0,260.7 485.4,261.1 485.5,261.5 485.6,261.7 485.5,261.8 485.3,261.6 485.0,261.3 484.7,260.8 484.4,260.2 484.2,259.4 484.2,258.5 484.2,257.7 484.4,256.8 484.8,256.1 485.3,255.5 485.9,255.0 486.7,254.8 487.5,254.7 488.4,254.9 489.2,255.1 489.9,255.5 490.6,256.0 491.1,256.5 491.5,257.0 491.7,257.4 491.7,257.6 491.7,257.7 491.5,257.6 491.2,257.3 490.9,256.8 490.7,256.2 490.4,255.5 490.3,254.6 490.4,253.7 490.5,252.9 490.9,252.1 491.4,251.5 492.0,251.0 492.7,250.7 493.5,250.6 494.4,250.7 495.2,251.0 496.0,251.4 496.6,251.8 497.2,252.3 497.6,252.8 497.8,253.2 497.9,253.5 497.9,253.6 497.7,253.6 497.4,253.3 497.1,252.9 496.9,252.3 496.7,251.5 496.5,250.7 496.5,249.8 496.7,249.0 497.0,248.2 497.4,247.5 498.0,247.0 498.7,246.7 499.5,246.6 500.4,246.6 501.2,246.8 502.0,247.2 502.7,247.6 503.3,248.1 503.7,248.6 504.0,249.0 504.1,249.4 504.0,249.5 503.9,249.5 503.7,249.3" fill="none" stroke="#e32038" stroke-width="3.6" stroke-linejoin="round" stroke-linecap="round"/>
<polyline points="422.1,300.5 422.8,301.0 423.3,301.5 423.6,302.0 423.8,302.3 423.9,302.6 423.8,302.6 423.6,302.5 423.3,302.2 423.0,301.7 422.8,301.1 422.6,300.3 422.5,299.5 422.5,298.6 422.7,297.8 423.0,297.0 423.5,296.4 424.2,295.9 424.9,295.7 425.7,295.6 426.6,295.7 427.4,296.0 428.2,296.3 428.8,296.8 429.4,297.3 429.7,297.8 430.0,298.2 430.0,298.4 430.0,298.6 429.8,298.5 429.5,298.2 429.3,297.8 429.0,297.1 428.8,296.4 428.6,295.6 428.7,294.7 428.8,293.8 429.1,293.1 429.6,292.4 430.2,291.9 430.9,291.6 431.7,291.5 432.6,291.6 433.4,291.8 434.2,292.2 434.9,292.6 435.4,293.1 435.9,293.6 436.1,294.0 436.2,294.3 436.2,294.5 436.0,294.4 435.8,294.2 435.5,293.8 435.2,293.2 435.0,292.5 434.8,291.6 434.8,290.8 434.9,289.9 435.2,289.1 435.7,288.4 436.3,287.9 437.0,287.6 437.8,287.4 438.6,287.5 439.4,287.7 440.2,288.0 440.9,288.5 441.5,289.0 442.0,289.4 442.2,289.9 442.4,290.2 442.4,290.4 442.2,290.4 442.0,290.2 441.7,289.8 441.4,289.2 441.2,288.5 441.0,287.7 441.0,286.8 441.1,286.0 441.3,285.2 441.7,284.5 442.3,283.9 443.0,283.5 443.8,283.4 444.6,283.4 445.4,283.5 446.3,283.9 447.0,284.3 447.6,284.8 448.1,285.3 448.4,285.7 448.5,286.1 448.5,286.3 448.4,286.3 448.2,286.1 447.9,285.8 447.6,285.2 447.4,284.6 447.2,283.8 447.1,282.9 447.2,282.1 447.4,281.2 447.8,280.5 448.4,279.9 449.0,279.5 449.8,279.3 450.6,279.3 451.5,279.4 452.3,279.7 453.0,280.1 453.7,280.6 454.2,281.1 454.5,281.5 454.7,281.9 454.7,282.1 454.6,282.2 454.4,282.1 454.2,281.8 453.9,281.3 453.6,280.6 453.4,279.9 453.3,279.0 453.4,278.1 453.6,277.3 453.9,276.6 454.4,275.9 455.1,275.5 455.8,275.2 456.6,275.2 457.5,275.3 458.3,275.5 459.1,275.9 459.7,276.4 460.2,276.9 460.6,277.4 460.8,277.8 460.9,278.0 460.8,278.1 460.6,278.0 460.4,277.8 460.1,277.3 459.8,276.7 459.6,275.9 459.5,275.1 459.5,274.2 459.7,273.4 460.0,272.6 460.5,272.0 461.1,271.5 461.8,271.2 462.6,271.1 463.5,271.2 464.3,271.4 465.1,271.8 465.8,272.2 466.3,272.7 466.7,273.2 467.0,273.6 467.1,273.9 467.0,274.0 466.8,274.0 466.6,273.7 466.3,273.3 466.0,272.7 465.8,272.0 465.7,271.2 465.7,270.3 465.8,269.4 466.1,268.7 466.5,268.0 467.1,267.5 467.9,267.1 468.7,267.0 469.5,267.0 470.3,267.3 471.1,267.6 471.8,268.1 472.4,268.5 472.8,269.0 473.1,269.5 473.2,269.8 473.2,269.9 473.1,269.9 472.8,269.7 472.5,269.3 472.3,268.8 472.0,268.0 471.9,267.2 471.8,266.4 471.9,265.5 472.2,264.7 472.6,264.0 473.2,263.5 473.9,263.1 474.7,262.9 475.5,262.9 476.3,263.1 477.1,263.4 477.9,263.9 478.5,264.4 478.9,264.9 479.2,265.3 479.4,265.6 479.4,265.8 479.3,265.9 479.0,265.7 478.8,265.3 478.5,264.8 478.2,264.1 478.1,263.3 478.0,262.5 478.1,261.6 478.3,260.8 478.7,260.1 479.2,259.5 479.9,259.1 480.7,258.9 481.5,258.8 482.3,259.0 483.2,259.3 483.9,259.7 484.5,260.2 485.0,260.7 485.4,261.1 485.5,261.5 485.6,261.7 485.5,261.8 485.3,261.6 485.0,261.3 484.7,260.8 484.4,260.2 484.2,259.4 484.2,258.5 484.2,257.7 484.4,256.8 484.8,256.1 485.3,255.5 485.9,255.0 486.7,254.8 487.5,254.7 488.4,254.9 489.2,255.1 489.9,255.5 490.6,256.0 491.1,256.5 491.5,257.0 491.7,257.4 491.7,257.6 491.7,257.7 491.5,257.6 491.2,257.3 490.9,256.8 490.7,256.2 490.4,255.5 490.3,254.6 490.4,253.7 490.5,252.9 490.9,252.1 491.4,251.5 492.0,251.0 492.7,250.7 493.5,250.6 494.4,250.7 495.2,251.0 496.0,251.4 496.6,251.8 497.2,252.3 497.6,252.8 497.8,253.2 497.9,253.5 497.9,253.6 497.7,253.6 497.4,253.3 497.1,252.9 496.9,252.3 496.7,251.5 496.5,250.7 496.5,249.8 496.7,249.0 497.0,248.2 497.4,247.5 498.0,247.0 498.7,246.7 499.5,246.6 500.4,246.6 501.2,246.8 502.0,247.2 502.7,247.6 503.3,248.1 503.7,248.6 504.0,249.0 504.1,249.4 504.0,249.5 503.9,249.5 503.7,249.3" fill="none" stroke="#b01028" stroke-width="1.0" stroke-linejoin="round" stroke-dasharray="2.5,4.9" opacity="0.6"/>
<line x1="397.80" y1="341.30" x2="529.70" y2="261.50" stroke="#2a14a0" stroke-width="2.4" stroke-linecap="round"/>
<polyline points="399.2,340.5 399.8,341.0 400.3,341.5 400.6,342.0 400.8,342.4 400.8,342.6 400.7,342.7 400.5,342.5 400.3,342.2 400.0,341.7 399.8,341.1 399.6,340.3 399.5,339.4 399.6,338.6 399.8,337.7 400.2,337.0 400.7,336.4 401.4,336.0 402.2,335.7 403.0,335.7 403.8,335.8 404.6,336.1 405.4,336.6 406.0,337.1 406.5,337.6 406.9,338.1 407.1,338.5 407.2,338.7 407.1,338.8 406.9,338.7 406.7,338.5 406.4,338.0 406.1,337.4 406.0,336.6 405.9,335.8 405.9,334.9 406.1,334.1 406.5,333.3 407.0,332.7 407.6,332.2 408.4,331.9 409.2,331.9 410.0,332.0 410.8,332.2 411.6,332.6 412.2,333.1 412.8,333.7 413.2,334.1 413.4,334.6 413.5,334.9 413.4,335.0 413.3,334.9 413.0,334.7 412.8,334.3 412.5,333.7 412.3,332.9 412.2,332.1 412.2,331.2 412.4,330.4 412.7,329.6 413.2,328.9 413.8,328.5 414.5,328.1 415.3,328.0 416.2,328.1 417.0,328.4 417.8,328.7 418.5,329.2 419.0,329.7 419.4,330.2 419.7,330.7 419.8,331.0 419.8,331.2 419.6,331.1 419.4,330.9 419.1,330.5 418.9,329.9 418.7,329.2 418.6,328.4 418.6,327.5 418.7,326.7 419.0,325.9 419.4,325.2 420.0,324.7 420.7,324.4 421.5,324.2 422.4,324.2 423.2,324.5 424.0,324.8 424.7,325.3 425.3,325.8 425.7,326.3 426.0,326.8 426.1,327.1 426.1,327.3 426.0,327.3 425.8,327.1 425.5,326.8 425.3,326.2 425.0,325.5 424.9,324.7 424.9,323.9 425.0,323.0 425.3,322.2 425.7,321.5 426.3,320.9 426.9,320.6 427.7,320.4 428.6,320.4 429.4,320.6 430.2,320.9 430.9,321.4 431.5,321.9 432.0,322.4 432.3,322.9 432.5,323.2 432.5,323.5 432.4,323.5 432.2,323.4 431.9,323.0 431.6,322.5 431.4,321.8 431.3,321.0 431.2,320.2 431.3,319.3 431.5,318.5 431.9,317.8 432.5,317.2 433.1,316.8 433.9,316.6 434.7,316.5 435.6,316.7 436.4,317.0 437.1,317.5 437.7,318.0 438.2,318.5 438.6,319.0 438.8,319.3 438.8,319.6 438.7,319.7 438.5,319.6 438.3,319.3 438.0,318.8 437.8,318.1 437.6,317.4 437.5,316.5 437.6,315.6 437.8,314.8 438.2,314.1 438.7,313.5 439.4,313.0 440.1,312.8 440.9,312.7 441.8,312.8 442.6,313.1 443.3,313.5 444.0,314.0 444.5,314.6 444.9,315.1 445.1,315.5 445.1,315.7 445.1,315.8 444.9,315.8 444.7,315.5 444.4,315.0 444.1,314.4 444.0,313.7 443.9,312.8 443.9,312.0 444.1,311.1 444.4,310.4 444.9,309.7 445.6,309.3 446.3,309.0 447.1,308.9 447.9,309.0 448.8,309.2 449.5,309.6 450.2,310.1 450.7,310.6 451.1,311.1 451.4,311.6 451.5,311.9 451.4,312.0 451.3,312.0 451.0,311.7 450.8,311.3 450.5,310.7 450.3,310.0 450.2,309.2 450.2,308.3 450.4,307.4 450.7,306.7 451.2,306.0 451.8,305.5 452.5,305.2 453.3,305.0 454.1,305.1 455.0,305.3 455.7,305.7 456.4,306.2 457.0,306.7 457.4,307.2 457.7,307.7 457.8,308.0 457.8,308.2 457.6,308.2 457.4,308.0 457.2,307.6 456.9,307.0 456.7,306.3 456.6,305.5 456.5,304.6 456.7,303.8 457.0,303.0 457.4,302.3 458.0,301.7 458.7,301.4 459.5,301.2 460.3,301.3 461.1,301.5 461.9,301.8 462.6,302.3 463.2,302.8 463.7,303.3 464.0,303.8 464.1,304.1 464.1,304.3 464.0,304.3 463.8,304.2 463.5,303.8 463.3,303.3 463.0,302.6 462.9,301.8 462.9,300.9 463.0,300.1 463.2,299.3 463.6,298.6 464.2,298.0 464.9,297.6 465.7,297.4 466.5,297.4 467.3,297.6 468.1,297.9 468.9,298.4 469.5,298.9 469.9,299.4 470.3,299.9 470.4,300.2 470.5,300.5 470.4,300.5 470.2,300.4 469.9,300.1 469.6,299.6 469.4,298.9 469.2,298.1 469.2,297.3 469.3,296.4 469.5,295.6 469.9,294.8 470.4,294.2 471.1,293.8 471.9,293.6 472.7,293.6 473.5,293.7 474.3,294.0 475.1,294.4 475.7,294.9 476.2,295.5 476.6,296.0 476.8,296.3 476.8,296.6 476.7,296.7 476.5,296.6 476.3,296.3 476.0,295.8 475.8,295.2 475.6,294.4 475.5,293.6 475.6,292.7 475.8,291.9 476.1,291.1 476.7,290.5 477.3,290.1 478.0,289.8 478.9,289.7 479.7,289.8 480.5,290.1 481.3,290.5 481.9,291.0 482.5,291.5 482.8,292.0 483.1,292.5 483.1,292.7 483.1,292.9 482.9,292.8 482.7,292.5 482.4,292.1 482.1,291.5 482.0,290.7 481.9,289.9 481.9,289.0 482.1,288.2 482.4,287.4 482.9,286.8 483.5,286.3 484.2,286.0 485.0,285.9 485.9,286.0 486.7,286.2 487.5,286.6 488.2,287.1 488.7,287.6 489.1,288.1 489.4,288.6 489.5,288.9 489.4,289.0 489.3,289.0 489.0,288.8 488.8,288.4 488.5,287.8 488.3,287.0 488.2,286.2 488.2,285.4 488.4,284.5 488.7,283.7 489.1,283.0 489.7,282.5 490.4,282.2 491.2,282.1 492.1,282.1 492.9,282.3 493.7,282.7 494.4,283.2 494.9,283.7 495.4,284.2 495.7,284.7 495.8,285.0 495.8,285.2 495.6,285.2 495.4,285.0 495.2,284.6 494.9,284.1 494.7,283.3 494.5,282.5 494.5,281.7 494.6,280.8 494.9,280.0 495.4,279.3 495.9,278.8 496.6,278.4 497.4,278.2 498.2,278.3 499.1,278.5 499.9,278.8 500.6,279.3 501.2,279.8 501.6,280.3 502.0,280.8 502.1,281.1 502.1,281.3 502.0,281.4 501.8,281.2 501.5,280.9 501.3,280.3 501.0,279.6 500.9,278.9 500.9,278.0 500.9,277.1 501.2,276.3 501.6,275.6 502.2,275.0 502.8,274.6 503.6,274.4 504.4,274.4 505.3,274.6 506.1,274.9 506.8,275.3 507.4,275.9 507.9,276.4 508.2,276.8 508.4,277.2 508.5,277.5 508.4,277.5 508.2,277.4 507.9,277.1 507.6,276.6 507.4,275.9 507.2,275.2 507.2,274.3 507.3,273.5 507.5,272.6 507.9,271.9 508.4,271.3 509.0,270.9 509.8,270.6 510.6,270.6 511.4,270.7 512.3,271.0 513.0,271.4 513.7,271.9 514.2,272.5 514.5,272.9 514.7,273.3 514.8,273.6 514.7,273.7 514.5,273.6 514.3,273.3 514.0,272.9 513.8,272.2 513.6,271.5 513.5,270.6 513.6,269.8 513.8,268.9 514.1,268.2 514.6,267.6 515.2,267.1 516.0,266.8 516.8,266.7 517.6,266.8 518.5,267.1 519.2,267.5 519.9,268.0 520.4,268.5 520.8,269.0 521.0,269.4 521.1,269.7 521.1,269.9 520.9,269.8 520.7,269.6 520.4,269.1 520.2,268.5 520.0,267.8 519.9,267.0 519.9,266.1 520.0,265.3 520.4,264.5 520.8,263.8 521.5,263.3 522.2,263.0 523.0,262.9 523.8,263.0 524.6,263.2 525.4,263.6 526.1,264.1 526.7,264.6 527.1,265.1 527.3,265.6 527.4,265.9 527.4,266.0 527.3,266.0 527.0,265.8 526.8,265.4 526.5,264.8 526.3,264.1 526.2,263.3 526.2,262.4 526.3,261.6 526.6,260.8 527.1,260.1 527.7,259.6 528.4,259.2 529.2,259.1" fill="none" stroke="#3a1ed2" stroke-width="3.6" stroke-linejoin="round" stroke-linecap="round"/>
<polyline points="399.2,340.5 399.8,341.0 400.3,341.5 400.6,342.0 400.8,342.4 400.8,342.6 400.7,342.7 400.5,342.5 400.3,342.2 400.0,341.7 399.8,341.1 399.6,340.3 399.5,339.4 399.6,338.6 399.8,337.7 400.2,337.0 400.7,336.4 401.4,336.0 402.2,335.7 403.0,335.7 403.8,335.8 404.6,336.1 405.4,336.6 406.0,337.1 406.5,337.6 406.9,338.1 407.1,338.5 407.2,338.7 407.1,338.8 406.9,338.7 406.7,338.5 406.4,338.0 406.1,337.4 406.0,336.6 405.9,335.8 405.9,334.9 406.1,334.1 406.5,333.3 407.0,332.7 407.6,332.2 408.4,331.9 409.2,331.9 410.0,332.0 410.8,332.2 411.6,332.6 412.2,333.1 412.8,333.7 413.2,334.1 413.4,334.6 413.5,334.9 413.4,335.0 413.3,334.9 413.0,334.7 412.8,334.3 412.5,333.7 412.3,332.9 412.2,332.1 412.2,331.2 412.4,330.4 412.7,329.6 413.2,328.9 413.8,328.5 414.5,328.1 415.3,328.0 416.2,328.1 417.0,328.4 417.8,328.7 418.5,329.2 419.0,329.7 419.4,330.2 419.7,330.7 419.8,331.0 419.8,331.2 419.6,331.1 419.4,330.9 419.1,330.5 418.9,329.9 418.7,329.2 418.6,328.4 418.6,327.5 418.7,326.7 419.0,325.9 419.4,325.2 420.0,324.7 420.7,324.4 421.5,324.2 422.4,324.2 423.2,324.5 424.0,324.8 424.7,325.3 425.3,325.8 425.7,326.3 426.0,326.8 426.1,327.1 426.1,327.3 426.0,327.3 425.8,327.1 425.5,326.8 425.3,326.2 425.0,325.5 424.9,324.7 424.9,323.9 425.0,323.0 425.3,322.2 425.7,321.5 426.3,320.9 426.9,320.6 427.7,320.4 428.6,320.4 429.4,320.6 430.2,320.9 430.9,321.4 431.5,321.9 432.0,322.4 432.3,322.9 432.5,323.2 432.5,323.5 432.4,323.5 432.2,323.4 431.9,323.0 431.6,322.5 431.4,321.8 431.3,321.0 431.2,320.2 431.3,319.3 431.5,318.5 431.9,317.8 432.5,317.2 433.1,316.8 433.9,316.6 434.7,316.5 435.6,316.7 436.4,317.0 437.1,317.5 437.7,318.0 438.2,318.5 438.6,319.0 438.8,319.3 438.8,319.6 438.7,319.7 438.5,319.6 438.3,319.3 438.0,318.8 437.8,318.1 437.6,317.4 437.5,316.5 437.6,315.6 437.8,314.8 438.2,314.1 438.7,313.5 439.4,313.0 440.1,312.8 440.9,312.7 441.8,312.8 442.6,313.1 443.3,313.5 444.0,314.0 444.5,314.6 444.9,315.1 445.1,315.5 445.1,315.7 445.1,315.8 444.9,315.8 444.7,315.5 444.4,315.0 444.1,314.4 444.0,313.7 443.9,312.8 443.9,312.0 444.1,311.1 444.4,310.4 444.9,309.7 445.6,309.3 446.3,309.0 447.1,308.9 447.9,309.0 448.8,309.2 449.5,309.6 450.2,310.1 450.7,310.6 451.1,311.1 451.4,311.6 451.5,311.9 451.4,312.0 451.3,312.0 451.0,311.7 450.8,311.3 450.5,310.7 450.3,310.0 450.2,309.2 450.2,308.3 450.4,307.4 450.7,306.7 451.2,306.0 451.8,305.5 452.5,305.2 453.3,305.0 454.1,305.1 455.0,305.3 455.7,305.7 456.4,306.2 457.0,306.7 457.4,307.2 457.7,307.7 457.8,308.0 457.8,308.2 457.6,308.2 457.4,308.0 457.2,307.6 456.9,307.0 456.7,306.3 456.6,305.5 456.5,304.6 456.7,303.8 457.0,303.0 457.4,302.3 458.0,301.7 458.7,301.4 459.5,301.2 460.3,301.3 461.1,301.5 461.9,301.8 462.6,302.3 463.2,302.8 463.7,303.3 464.0,303.8 464.1,304.1 464.1,304.3 464.0,304.3 463.8,304.2 463.5,303.8 463.3,303.3 463.0,302.6 462.9,301.8 462.9,300.9 463.0,300.1 463.2,299.3 463.6,298.6 464.2,298.0 464.9,297.6 465.7,297.4 466.5,297.4 467.3,297.6 468.1,297.9 468.9,298.4 469.5,298.9 469.9,299.4 470.3,299.9 470.4,300.2 470.5,300.5 470.4,300.5 470.2,300.4 469.9,300.1 469.6,299.6 469.4,298.9 469.2,298.1 469.2,297.3 469.3,296.4 469.5,295.6 469.9,294.8 470.4,294.2 471.1,293.8 471.9,293.6 472.7,293.6 473.5,293.7 474.3,294.0 475.1,294.4 475.7,294.9 476.2,295.5 476.6,296.0 476.8,296.3 476.8,296.6 476.7,296.7 476.5,296.6 476.3,296.3 476.0,295.8 475.8,295.2 475.6,294.4 475.5,293.6 475.6,292.7 475.8,291.9 476.1,291.1 476.7,290.5 477.3,290.1 478.0,289.8 478.9,289.7 479.7,289.8 480.5,290.1 481.3,290.5 481.9,291.0 482.5,291.5 482.8,292.0 483.1,292.5 483.1,292.7 483.1,292.9 482.9,292.8 482.7,292.5 482.4,292.1 482.1,291.5 482.0,290.7 481.9,289.9 481.9,289.0 482.1,288.2 482.4,287.4 482.9,286.8 483.5,286.3 484.2,286.0 485.0,285.9 485.9,286.0 486.7,286.2 487.5,286.6 488.2,287.1 488.7,287.6 489.1,288.1 489.4,288.6 489.5,288.9 489.4,289.0 489.3,289.0 489.0,288.8 488.8,288.4 488.5,287.8 488.3,287.0 488.2,286.2 488.2,285.4 488.4,284.5 488.7,283.7 489.1,283.0 489.7,282.5 490.4,282.2 491.2,282.1 492.1,282.1 492.9,282.3 493.7,282.7 494.4,283.2 494.9,283.7 495.4,284.2 495.7,284.7 495.8,285.0 495.8,285.2 495.6,285.2 495.4,285.0 495.2,284.6 494.9,284.1 494.7,283.3 494.5,282.5 494.5,281.7 494.6,280.8 494.9,280.0 495.4,279.3 495.9,278.8 496.6,278.4 497.4,278.2 498.2,278.3 499.1,278.5 499.9,278.8 500.6,279.3 501.2,279.8 501.6,280.3 502.0,280.8 502.1,281.1 502.1,281.3 502.0,281.4 501.8,281.2 501.5,280.9 501.3,280.3 501.0,279.6 500.9,278.9 500.9,278.0 500.9,277.1 501.2,276.3 501.6,275.6 502.2,275.0 502.8,274.6 503.6,274.4 504.4,274.4 505.3,274.6 506.1,274.9 506.8,275.3 507.4,275.9 507.9,276.4 508.2,276.8 508.4,277.2 508.5,277.5 508.4,277.5 508.2,277.4 507.9,277.1 507.6,276.6 507.4,275.9 507.2,275.2 507.2,274.3 507.3,273.5 507.5,272.6 507.9,271.9 508.4,271.3 509.0,270.9 509.8,270.6 510.6,270.6 511.4,270.7 512.3,271.0 513.0,271.4 513.7,271.9 514.2,272.5 514.5,272.9 514.7,273.3 514.8,273.6 514.7,273.7 514.5,273.6 514.3,273.3 514.0,272.9 513.8,272.2 513.6,271.5 513.5,270.6 513.6,269.8 513.8,268.9 514.1,268.2 514.6,267.6 515.2,267.1 516.0,266.8 516.8,266.7 517.6,266.8 518.5,267.1 519.2,267.5 519.9,268.0 520.4,268.5 520.8,269.0 521.0,269.4 521.1,269.7 521.1,269.9 520.9,269.8 520.7,269.6 520.4,269.1 520.2,268.5 520.0,267.8 519.9,267.0 519.9,266.1 520.0,265.3 520.4,264.5 520.8,263.8 521.5,263.3 522.2,263.0 523.0,262.9 523.8,263.0 524.6,263.2 525.4,263.6 526.1,264.1 526.7,264.6 527.1,265.1 527.3,265.6 527.4,265.9 527.4,266.0 527.3,266.0 527.0,265.8 526.8,265.4 526.5,264.8 526.3,264.1 526.2,263.3 526.2,262.4 526.3,261.6 526.6,260.8 527.1,260.1 527.7,259.6 528.4,259.2 529.2,259.1" fill="none" stroke="#2a14a0" stroke-width="1.0" stroke-linejoin="round" stroke-dasharray="2.5,4.9" opacity="0.6"/>
<line x1="424.40" y1="314.70" x2="526.10" y2="251.80" stroke="#b01028" stroke-width="2.4" stroke-linecap="round"/>
<polyline points="425.8,313.9 426.4,314.4 426.9,314.9 427.2,315.3 427.4,315.7 427.4,316.0 427.3,316.0 427.1,315.9 426.9,315.6 426.6,315.1 426.4,314.4 426.2,313.7 426.1,312.8 426.2,311.9 426.4,311.1 426.8,310.4 427.3,309.8 428.0,309.3 428.7,309.1 429.5,309.0 430.4,309.2 431.2,309.5 431.9,309.9 432.6,310.4 433.1,310.9 433.5,311.4 433.7,311.8 433.7,312.0 433.7,312.1 433.5,312.0 433.2,311.8 432.9,311.3 432.7,310.7 432.5,309.9 432.4,309.1 432.5,308.2 432.7,307.3 433.0,306.6 433.5,306.0 434.2,305.5 434.9,305.2 435.7,305.1 436.5,305.3 437.4,305.5 438.1,305.9 438.8,306.4 439.3,306.9 439.7,307.4 439.9,307.8 440.0,308.1 440.0,308.2 439.8,308.2 439.6,307.9 439.3,307.5 439.0,306.9 438.8,306.1 438.7,305.3 438.7,304.4 438.9,303.6 439.2,302.8 439.7,302.2 440.3,301.7 441.1,301.4 441.9,301.3 442.7,301.3 443.5,301.6 444.3,302.0 445.0,302.4 445.6,303.0 446.0,303.5 446.2,303.9 446.3,304.2 446.3,304.3 446.1,304.3 445.9,304.1 445.6,303.7 445.4,303.1 445.1,302.4 445.0,301.5 445.0,300.7 445.2,299.8 445.5,299.0 445.9,298.4 446.5,297.8 447.2,297.5 448.0,297.4 448.9,297.4 449.7,297.6 450.5,298.0 451.2,298.5 451.8,299.0 452.2,299.5 452.5,299.9 452.6,300.3 452.6,300.4 452.4,300.4 452.2,300.2 452.0,299.9 451.7,299.3 451.5,298.6 451.3,297.8 451.3,296.9 451.4,296.0 451.7,295.3 452.1,294.6 452.7,294.0 453.4,293.7 454.2,293.5 455.0,293.5 455.9,293.7 456.7,294.1 457.4,294.5 458.0,295.0 458.4,295.5 458.7,296.0 458.9,296.3 458.9,296.5 458.8,296.6 458.6,296.4 458.3,296.0 458.0,295.5 457.8,294.8 457.6,294.0 457.6,293.1 457.7,292.3 458.0,291.5 458.4,290.8 458.9,290.2 459.6,289.8 460.4,289.6 461.2,289.6 462.0,289.8 462.8,290.1 463.6,290.5 464.2,291.0 464.7,291.6 465.0,292.0 465.2,292.4 465.2,292.6 465.1,292.7 464.9,292.5 464.6,292.2 464.4,291.7 464.1,291.0 463.9,290.2 463.9,289.4 464.0,288.5 464.2,287.7 464.6,287.0 465.1,286.4 465.8,286.0 466.5,285.7 467.4,285.7 468.2,285.8 469.0,286.1 469.8,286.6 470.4,287.1 470.9,287.6 471.3,288.1 471.4,288.4 471.5,288.7 471.4,288.8 471.2,288.7 471.0,288.4 470.7,287.9 470.4,287.2 470.3,286.5 470.2,285.6 470.2,284.8 470.4,283.9 470.8,283.2 471.3,282.6 472.0,282.1 472.7,281.9 473.5,281.8 474.4,281.9 475.2,282.2 475.9,282.6 476.6,283.1 477.1,283.6 477.5,284.1 477.7,284.5 477.8,284.8 477.7,284.9 477.5,284.8 477.3,284.5 477.0,284.1 476.8,283.5 476.6,282.7 476.5,281.9 476.5,281.0 476.7,280.2 477.0,279.4 477.5,278.8 478.2,278.3 478.9,278.0 479.7,277.9 480.5,278.0 481.4,278.3 482.1,278.6 482.8,279.1 483.3,279.6 483.7,280.1 484.0,280.6 484.1,280.9 484.0,281.0 483.9,280.9 483.6,280.7 483.4,280.3 483.1,279.7 482.9,278.9 482.8,278.1 482.8,277.2 482.9,276.4 483.3,275.6 483.7,275.0 484.3,274.5 485.1,274.1 485.9,274.0 486.7,274.1 487.5,274.3 488.3,274.7 489.0,275.2 489.6,275.7 490.0,276.2 490.3,276.6 490.4,276.9 490.3,277.1 490.2,277.1 490.0,276.9 489.7,276.5 489.4,275.9 489.2,275.2 489.1,274.4 489.1,273.5 489.2,272.6 489.5,271.8 489.9,271.2 490.5,270.6 491.2,270.3 492.0,270.1 492.9,270.2 493.7,270.4 494.5,270.7 495.2,271.2 495.8,271.7 496.2,272.2 496.5,272.7 496.7,273.0 496.6,273.2 496.5,273.2 496.3,273.0 496.0,272.6 495.8,272.1 495.5,271.4 495.4,270.6 495.4,269.7 495.5,268.9 495.7,268.1 496.2,267.4 496.7,266.8 497.4,266.4 498.2,266.2 499.0,266.2 499.9,266.4 500.7,266.8 501.4,267.2 502.0,267.7 502.5,268.2 502.8,268.7 502.9,269.1 502.9,269.3 502.8,269.3 502.6,269.2 502.4,268.8 502.1,268.3 501.9,267.6 501.7,266.8 501.7,266.0 501.7,265.1 502.0,264.3 502.4,263.6 502.9,263.0 503.6,262.6 504.4,262.4 505.2,262.3 506.0,262.5 506.8,262.8 507.6,263.3 508.2,263.8 508.7,264.3 509.0,264.7 509.2,265.1 509.2,265.4 509.2,265.4 509.0,265.3 508.7,265.0 508.4,264.5 508.2,263.8 508.0,263.1 507.9,262.2 508.0,261.3 508.2,260.5 508.6,259.8 509.1,259.2 509.8,258.7 510.5,258.5 511.4,258.4 512.2,258.6 513.0,258.9 513.8,259.3 514.4,259.8 514.9,260.3 515.3,260.8 515.5,261.2 515.5,261.4 515.5,261.5 515.3,261.4 515.0,261.2 514.8,260.7 514.5,260.1 514.3,259.3 514.2,258.5 514.3,257.6 514.5,256.7 514.8,256.0 515.3,255.4 516.0,254.9 516.7,254.6 517.5,254.5 518.4,254.7 519.2,254.9 519.9,255.3 520.6,255.8 521.1,256.3 521.5,256.8 521.8,257.2 521.8,257.5 521.8,257.6 521.6,257.6 521.4,257.3 521.1,256.9 520.8,256.3 520.6,255.5 520.5,254.7 520.6,253.8 520.7,253.0 521.1,252.2 521.5,251.6 522.2,251.1 522.9,250.8 523.7,250.7 524.5,250.7 525.3,251.0 526.1,251.4 526.8,251.8 527.4,252.4 527.8,252.9 528.0,253.3" fill="none" stroke="#e32038" stroke-width="3.6" stroke-linejoin="round" stroke-linecap="round"/>
<polyline points="425.8,313.9 426.4,314.4 426.9,314.9 427.2,315.3 427.4,315.7 427.4,316.0 427.3,316.0 427.1,315.9 426.9,315.6 426.6,315.1 426.4,314.4 426.2,313.7 426.1,312.8 426.2,311.9 426.4,311.1 426.8,310.4 427.3,309.8 428.0,309.3 428.7,309.1 429.5,309.0 430.4,309.2 431.2,309.5 431.9,309.9 432.6,310.4 433.1,310.9 433.5,311.4 433.7,311.8 433.7,312.0 433.7,312.1 433.5,312.0 433.2,311.8 432.9,311.3 432.7,310.7 432.5,309.9 432.4,309.1 432.5,308.2 432.7,307.3 433.0,306.6 433.5,306.0 434.2,305.5 434.9,305.2 435.7,305.1 436.5,305.3 437.4,305.5 438.1,305.9 438.8,306.4 439.3,306.9 439.7,307.4 439.9,307.8 440.0,308.1 440.0,308.2 439.8,308.2 439.6,307.9 439.3,307.5 439.0,306.9 438.8,306.1 438.7,305.3 438.7,304.4 438.9,303.6 439.2,302.8 439.7,302.2 440.3,301.7 441.1,301.4 441.9,301.3 442.7,301.3 443.5,301.6 444.3,302.0 445.0,302.4 445.6,303.0 446.0,303.5 446.2,303.9 446.3,304.2 446.3,304.3 446.1,304.3 445.9,304.1 445.6,303.7 445.4,303.1 445.1,302.4 445.0,301.5 445.0,300.7 445.2,299.8 445.5,299.0 445.9,298.4 446.5,297.8 447.2,297.5 448.0,297.4 448.9,297.4 449.7,297.6 450.5,298.0 451.2,298.5 451.8,299.0 452.2,299.5 452.5,299.9 452.6,300.3 452.6,300.4 452.4,300.4 452.2,300.2 452.0,299.9 451.7,299.3 451.5,298.6 451.3,297.8 451.3,296.9 451.4,296.0 451.7,295.3 452.1,294.6 452.7,294.0 453.4,293.7 454.2,293.5 455.0,293.5 455.9,293.7 456.7,294.1 457.4,294.5 458.0,295.0 458.4,295.5 458.7,296.0 458.9,296.3 458.9,296.5 458.8,296.6 458.6,296.4 458.3,296.0 458.0,295.5 457.8,294.8 457.6,294.0 457.6,293.1 457.7,292.3 458.0,291.5 458.4,290.8 458.9,290.2 459.6,289.8 460.4,289.6 461.2,289.6 462.0,289.8 462.8,290.1 463.6,290.5 464.2,291.0 464.7,291.6 465.0,292.0 465.2,292.4 465.2,292.6 465.1,292.7 464.9,292.5 464.6,292.2 464.4,291.7 464.1,291.0 463.9,290.2 463.9,289.4 464.0,288.5 464.2,287.7 464.6,287.0 465.1,286.4 465.8,286.0 466.5,285.7 467.4,285.7 468.2,285.8 469.0,286.1 469.8,286.6 470.4,287.1 470.9,287.6 471.3,288.1 471.4,288.4 471.5,288.7 471.4,288.8 471.2,288.7 471.0,288.4 470.7,287.9 470.4,287.2 470.3,286.5 470.2,285.6 470.2,284.8 470.4,283.9 470.8,283.2 471.3,282.6 472.0,282.1 472.7,281.9 473.5,281.8 474.4,281.9 475.2,282.2 475.9,282.6 476.6,283.1 477.1,283.6 477.5,284.1 477.7,284.5 477.8,284.8 477.7,284.9 477.5,284.8 477.3,284.5 477.0,284.1 476.8,283.5 476.6,282.7 476.5,281.9 476.5,281.0 476.7,280.2 477.0,279.4 477.5,278.8 478.2,278.3 478.9,278.0 479.7,277.9 480.5,278.0 481.4,278.3 482.1,278.6 482.8,279.1 483.3,279.6 483.7,280.1 484.0,280.6 484.1,280.9 484.0,281.0 483.9,280.9 483.6,280.7 483.4,280.3 483.1,279.7 482.9,278.9 482.8,278.1 482.8,277.2 482.9,276.4 483.3,275.6 483.7,275.0 484.3,274.5 485.1,274.1 485.9,274.0 486.7,274.1 487.5,274.3 488.3,274.7 489.0,275.2 489.6,275.7 490.0,276.2 490.3,276.6 490.4,276.9 490.3,277.1 490.2,277.1 490.0,276.9 489.7,276.5 489.4,275.9 489.2,275.2 489.1,274.4 489.1,273.5 489.2,272.6 489.5,271.8 489.9,271.2 490.5,270.6 491.2,270.3 492.0,270.1 492.9,270.2 493.7,270.4 494.5,270.7 495.2,271.2 495.8,271.7 496.2,272.2 496.5,272.7 496.7,273.0 496.6,273.2 496.5,273.2 496.3,273.0 496.0,272.6 495.8,272.1 495.5,271.4 495.4,270.6 495.4,269.7 495.5,268.9 495.7,268.1 496.2,267.4 496.7,266.8 497.4,266.4 498.2,266.2 499.0,266.2 499.9,266.4 500.7,266.8 501.4,267.2 502.0,267.7 502.5,268.2 502.8,268.7 502.9,269.1 502.9,269.3 502.8,269.3 502.6,269.2 502.4,268.8 502.1,268.3 501.9,267.6 501.7,266.8 501.7,266.0 501.7,265.1 502.0,264.3 502.4,263.6 502.9,263.0 503.6,262.6 504.4,262.4 505.2,262.3 506.0,262.5 506.8,262.8 507.6,263.3 508.2,263.8 508.7,264.3 509.0,264.7 509.2,265.1 509.2,265.4 509.2,265.4 509.0,265.3 508.7,265.0 508.4,264.5 508.2,263.8 508.0,263.1 507.9,262.2 508.0,261.3 508.2,260.5 508.6,259.8 509.1,259.2 509.8,258.7 510.5,258.5 511.4,258.4 512.2,258.6 513.0,258.9 513.8,259.3 514.4,259.8 514.9,260.3 515.3,260.8 515.5,261.2 515.5,261.4 515.5,261.5 515.3,261.4 515.0,261.2 514.8,260.7 514.5,260.1 514.3,259.3 514.2,258.5 514.3,257.6 514.5,256.7 514.8,256.0 515.3,255.4 516.0,254.9 516.7,254.6 517.5,254.5 518.4,254.7 519.2,254.9 519.9,255.3 520.6,255.8 521.1,256.3 521.5,256.8 521.8,257.2 521.8,257.5 521.8,257.6 521.6,257.6 521.4,257.3 521.1,256.9 520.8,256.3 520.6,255.5 520.5,254.7 520.6,253.8 520.7,253.0 521.1,252.2 521.5,251.6 522.2,251.1 522.9,250.8 523.7,250.7 524.5,250.7 525.3,251.0 526.1,251.4 526.8,251.8 527.4,252.4 527.8,252.9 528.0,253.3" fill="none" stroke="#b01028" stroke-width="1.0" stroke-linejoin="round" stroke-dasharray="2.5,4.9" opacity="0.6"/>
<text x="134.00" y="256.40" font-size="19.8" fill="#c800c8"  textLength="57.8" lengthAdjust="spacingAndGlyphs">Cep63</text>
<text x="140.00" y="279.90" font-size="19.8" fill="#c800c8"  textLength="46.0" lengthAdjust="spacingAndGlyphs">(424)</text>
<text x="546.00" y="213.00" font-size="19.8" fill="#c800c8"  textLength="68.0" lengthAdjust="spacingAndGlyphs">Cep152</text>
<text x="552.00" y="237.00" font-size="19.8" fill="#c800c8"  textLength="57.0" lengthAdjust="spacingAndGlyphs">(1205)</text>
<line x1="403.60" y1="334.00" x2="423.10" y2="401.70" stroke="#1430e8" stroke-width="1.1" />
<line x1="426.70" y1="312.70" x2="459.60" y2="363.40" stroke="#d0101c" stroke-width="1.1" />
<line x1="522.00" y1="254.00" x2="549.10" y2="297.60" stroke="#d0101c" stroke-width="1.1" />
<line x1="528.00" y1="259.00" x2="582.40" y2="282.50" stroke="#1430e8" stroke-width="1.1" />
<text x="426.70" y="422.05" font-size="20.5" text-anchor="middle" fill="#1430e8" textLength="43" lengthAdjust="spacingAndGlyphs" transform="rotate(-40 426.70 415.00)">1257</text>
<text x="468.50" y="383.25" font-size="20.5" text-anchor="middle" fill="#d0101c" textLength="33" lengthAdjust="spacingAndGlyphs" transform="rotate(-33.7 468.50 376.20)">502</text>
<text x="559.60" y="314.55" font-size="20.5" text-anchor="middle" fill="#d0101c" textLength="33" lengthAdjust="spacingAndGlyphs" transform="rotate(-30 559.60 307.50)">541</text>
<text x="593.00" y="298.05" font-size="20.5" text-anchor="middle" fill="#1430e8" textLength="45" lengthAdjust="spacingAndGlyphs" transform="rotate(-37.5 593.00 291.00)">1205</text>
<text x="542.30" y="381.65" font-size="20.5" text-anchor="middle" fill="#d0101c" textLength="145" lengthAdjust="spacingAndGlyphs" transform="rotate(-34.4 542.30 374.60)">Cep63 (502-541)</text>
<text x="557.50" y="398.45" font-size="20.5" text-anchor="middle" fill="#1430e8" textLength="178" lengthAdjust="spacingAndGlyphs" transform="rotate(-35.3 557.50 391.40)">Cep152 (1205-1257)</text>
<circle cx="603.20" cy="327.30" r="3.6" fill="#000" stroke="none" stroke-width="1" />
<text x="103.30" y="369.50" font-size="26" font-style="italic" style="font-family:Liberation Serif"  textLength="16.5" lengthAdjust="spacingAndGlyphs">χ</text>
<text x="118.60" y="357.50" font-size="14" font-style="italic" style="font-family:Liberation Serif">2</text>
<text x="127.00" y="368.70" font-size="23.5"  textLength="136.0" lengthAdjust="spacingAndGlyphs">= 0.09 ± 0.01</text>
<text x="102.60" y="408.00" font-size="23.5"  textLength="219.8" lengthAdjust="spacingAndGlyphs">NSD = 0.898 ± 0.021</text>
<text x="2.20" y="505.90" font-size="47" font-weight="bold"  textLength="28.8" lengthAdjust="spacingAndGlyphs">b</text>
<text x="134.30" y="517.60" font-size="27.2" textLength="263" lengthAdjust="spacingAndGlyphs">His-Cep63 (424–541)</text>
<circle cx="402.60" cy="509.80" r="4.7" fill="#000" stroke="none" stroke-width="1" />
<text x="409.10" y="517.60" font-size="27.2" textLength="261.5" lengthAdjust="spacingAndGlyphs">Cep152 (1205–1295)</text>
<line x1="157.40" y1="537.00" x2="157.40" y2="961.50" stroke="#1a1a1a" stroke-width="2" />
<line x1="141.00" y1="537.00" x2="642.00" y2="537.00" stroke="#1a1a1a" stroke-width="1.6" />
<line x1="642.00" y1="537.00" x2="642.00" y2="961.50" stroke="#1a1a1a" stroke-width="2" />
<line x1="141.00" y1="947.50" x2="642.00" y2="947.50" stroke="#1a1a1a" stroke-width="1.6" />
<line x1="141.00" y1="947.50" x2="157.40" y2="947.50" stroke="#1a1a1a" stroke-width="1.6" />
<text x="129.50" y="959.50" font-size="24.2" text-anchor="end">0</text>
<line x1="149.00" y1="926.98" x2="157.40" y2="926.98" stroke="#1a1a1a" stroke-width="1.6" />
<line x1="141.00" y1="906.45" x2="157.40" y2="906.45" stroke="#1a1a1a" stroke-width="1.6" />
<text x="129.50" y="918.45" font-size="24.2" text-anchor="end">10</text>
<line x1="149.00" y1="885.92" x2="157.40" y2="885.92" stroke="#1a1a1a" stroke-width="1.6" />
<line x1="141.00" y1="865.40" x2="157.40" y2="865.40" stroke="#1a1a1a" stroke-width="1.6" />
<text x="129.50" y="877.40" font-size="24.2" text-anchor="end">20</text>
<line x1="149.00" y1="844.88" x2="157.40" y2="844.88" stroke="#1a1a1a" stroke-width="1.6" />
<line x1="141.00" y1="824.35" x2="157.40" y2="824.35" stroke="#1a1a1a" stroke-width="1.6" />
<text x="129.50" y="836.35" font-size="24.2" text-anchor="end">30</text>
<line x1="149.00" y1="803.83" x2="157.40" y2="803.83" stroke="#1a1a1a" stroke-width="1.6" />
<line x1="141.00" y1="783.30" x2="157.40" y2="783.30" stroke="#1a1a1a" stroke-width="1.6" />
<text x="129.50" y="795.30" font-size="24.2" text-anchor="end">40</text>
<line x1="149.00" y1="762.77" x2="157.40" y2="762.77" stroke="#1a1a1a" stroke-width="1.6" />
<line x1="141.00" y1="742.25" x2="157.40" y2="742.25" stroke="#1a1a1a" stroke-width="1.6" />
<text x="129.50" y="754.25" font-size="24.2" text-anchor="end">50</text>
<line x1="149.00" y1="721.72" x2="157.40" y2="721.72" stroke="#1a1a1a" stroke-width="1.6" />
<line x1="141.00" y1="701.20" x2="157.40" y2="701.20" stroke="#1a1a1a" stroke-width="1.6" />
<text x="129.50" y="713.20" font-size="24.2" text-anchor="end">60</text>
<line x1="149.00" y1="680.67" x2="157.40" y2="680.67" stroke="#1a1a1a" stroke-width="1.6" />
<line x1="141.00" y1="660.15" x2="157.40" y2="660.15" stroke="#1a1a1a" stroke-width="1.6" />
<text x="129.50" y="672.15" font-size="24.2" text-anchor="end">70</text>
<line x1="149.00" y1="639.62" x2="157.40" y2="639.62" stroke="#1a1a1a" stroke-width="1.6" />
<line x1="141.00" y1="619.10" x2="157.40" y2="619.10" stroke="#1a1a1a" stroke-width="1.6" />
<text x="129.50" y="631.10" font-size="24.2" text-anchor="end">80</text>
<line x1="149.00" y1="598.58" x2="157.40" y2="598.58" stroke="#1a1a1a" stroke-width="1.6" />
<line x1="141.00" y1="578.05" x2="157.40" y2="578.05" stroke="#1a1a1a" stroke-width="1.6" />
<text x="129.50" y="590.05" font-size="24.2" text-anchor="end">90</text>
<line x1="149.00" y1="557.52" x2="157.40" y2="557.52" stroke="#1a1a1a" stroke-width="1.6" />
<line x1="141.00" y1="537.00" x2="157.40" y2="537.00" stroke="#1a1a1a" stroke-width="1.6" />
<text x="129.50" y="549.00" font-size="24.2" text-anchor="end">100</text>
<line x1="157.40" y1="947.50" x2="157.40" y2="961.50" stroke="#1a1a1a" stroke-width="1.8" />
<line x1="197.75" y1="947.50" x2="197.75" y2="954.50" stroke="#1a1a1a" stroke-width="1.8" />
<line x1="238.10" y1="947.50" x2="238.10" y2="961.50" stroke="#1a1a1a" stroke-width="1.8" />
<line x1="278.45" y1="947.50" x2="278.45" y2="954.50" stroke="#1a1a1a" stroke-width="1.8" />
<line x1="318.80" y1="947.50" x2="318.80" y2="961.50" stroke="#1a1a1a" stroke-width="1.8" />
<line x1="359.15" y1="947.50" x2="359.15" y2="954.50" stroke="#1a1a1a" stroke-width="1.8" />
<line x1="399.50" y1="947.50" x2="399.50" y2="961.50" stroke="#1a1a1a" stroke-width="1.8" />
<line x1="439.85" y1="947.50" x2="439.85" y2="954.50" stroke="#1a1a1a" stroke-width="1.8" />
<line x1="480.20" y1="947.50" x2="480.20" y2="961.50" stroke="#1a1a1a" stroke-width="1.8" />
<line x1="520.55" y1="947.50" x2="520.55" y2="954.50" stroke="#1a1a1a" stroke-width="1.8" />
<line x1="560.90" y1="947.50" x2="560.90" y2="961.50" stroke="#1a1a1a" stroke-width="1.8" />
<line x1="601.25" y1="947.50" x2="601.25" y2="954.50" stroke="#1a1a1a" stroke-width="1.8" />
<line x1="641.60" y1="947.50" x2="641.60" y2="961.50" stroke="#1a1a1a" stroke-width="1.8" />
<text x="157.40" y="988.00" font-size="24.2" text-anchor="middle">8</text>
<text x="238.10" y="988.00" font-size="24.2" text-anchor="middle">10</text>
<text x="318.80" y="988.00" font-size="24.2" text-anchor="middle">12</text>
<text x="399.50" y="988.00" font-size="24.2" text-anchor="middle">14</text>
<text x="480.20" y="988.00" font-size="24.2" text-anchor="middle">16</text>
<text x="560.90" y="988.00" font-size="24.2" text-anchor="middle">18</text>
<text x="641.60" y="988.00" font-size="24.2" text-anchor="middle">22</text>
<text x="660.70" y="988.00" font-size="24.6"  textLength="53.2" lengthAdjust="spacingAndGlyphs">(mL)</text>
<text x="296.00" y="1029.00" font-size="31"  textLength="206.0" lengthAdjust="spacingAndGlyphs">Elution volume</text>
<text x="62.30" y="925.00" font-size="31.5" transform="rotate(-90 62.30 925.00)"  textLength="369.0" lengthAdjust="spacingAndGlyphs">Absorbance at 280 (mAU)</text>
<polyline points="157.4,947.5 170.8,947.5 185.4,947.6 200.5,947.6 215.3,947.7 229.2,947.7 241.4,947.7 251.2,947.6 258.0,947.5 259.1,947.5 260.0,947.5 260.8,947.6 261.5,947.6 262.1,947.6 262.7,947.6 263.4,947.4 264.2,947.1 265.8,946.3 267.6,945.0 269.5,943.5 271.4,941.8 273.3,940.0 275.2,938.0 276.9,936.1 278.5,934.3 279.8,932.6 280.9,930.8 281.9,928.9 282.9,927.1 283.8,925.2 284.8,923.4 285.9,921.6 287.0,920.0 288.1,918.5 289.3,917.0 290.5,915.4 291.8,914.0 293.0,912.6 294.3,911.5 295.7,910.6 297.0,910.1 298.2,909.9 299.3,910.0 300.5,910.3 301.7,910.7 303.0,911.2 304.3,911.8 305.6,912.4 306.9,912.9 308.7,913.7 310.7,914.6 312.8,915.7 314.8,916.8 316.9,917.9 318.9,918.7 320.8,919.3 322.6,919.5 323.8,919.4 324.9,919.2 325.9,918.9 327.0,918.5 328.0,918.0 329.0,917.3 330.0,916.6 331.1,915.8 333.0,914.0 334.9,911.7 336.9,908.9 339.0,905.9 341.0,903.0 343.0,900.1 344.9,897.7 346.8,895.8 347.9,894.9 349.0,894.2 350.0,893.5 351.1,893.0 352.1,892.5 353.2,892.0 354.2,891.5 355.3,891.0 356.4,890.5 357.5,890.1 358.7,889.7 359.8,889.3 361.0,888.9 362.0,888.4 363.0,887.9 363.9,887.3 364.6,886.7 365.2,886.1 365.7,885.5 366.3,884.8 366.7,884.1 367.2,883.3 367.6,882.5 368.1,881.6 368.8,880.1 369.4,878.4 369.9,876.6 370.5,874.7 371.0,872.7 371.5,870.5 371.9,868.3 372.4,865.9 373.1,862.1 373.7,857.8 374.2,853.3 374.7,848.6 375.2,843.7 375.7,838.7 376.2,833.8 376.7,828.9 377.3,823.8 377.8,818.6 378.4,813.4 378.9,808.1 379.4,802.8 380.0,797.4 380.5,791.9 381.0,786.2 381.6,779.5 382.1,772.6 382.6,765.5 383.1,758.3 383.7,751.0 384.2,743.7 384.7,736.5 385.2,729.3 385.7,722.1 386.3,714.9 386.8,707.7 387.3,700.5 387.9,693.3 388.4,686.2 388.9,679.2 389.5,672.3 390.0,666.0 390.5,659.6 391.0,653.3 391.5,647.1 392.1,641.0 392.6,635.1 393.2,629.4 393.8,624.0 394.3,619.9 394.7,615.9 395.1,611.9 395.5,608.0 396.0,604.4 396.6,601.0 397.2,598.1 398.0,595.5 398.5,594.2 399.0,593.0 399.5,591.8 400.0,590.7 400.6,589.8 401.2,589.1 401.7,588.6 402.3,588.4 402.8,588.5 403.4,588.9 404.0,589.4 404.5,590.2 405.1,591.0 405.6,592.0 406.1,593.0 406.6,594.1 407.4,596.4 408.1,599.3 408.6,602.5 409.1,606.0 409.6,609.7 410.0,613.6 410.4,617.4 410.9,621.1 411.5,625.4 412.0,629.9 412.5,634.4 413.1,639.1 413.6,643.8 414.1,648.5 414.6,653.3 415.1,658.1 415.6,663.3 416.2,668.6 416.7,673.9 417.3,679.3 417.8,684.7 418.3,690.1 418.9,695.4 419.4,700.8 419.9,706.2 420.5,711.5 421.0,716.9 421.5,722.3 422.1,727.7 422.6,733.0 423.2,738.3 423.7,743.5 424.2,748.3 424.7,753.0 425.2,757.7 425.7,762.4 426.2,767.0 426.7,771.5 427.3,776.0 427.9,780.5 428.5,784.6 429.2,788.6 429.8,792.6 430.5,796.5 431.2,800.4 432.0,804.3 432.8,808.1 433.6,811.8 434.4,815.2 435.2,818.5 436.0,821.8 436.9,825.1 437.8,828.3 438.7,831.4 439.7,834.5 440.7,837.5 441.7,840.1 442.6,842.7 443.7,845.2 444.7,847.7 445.8,850.1 446.9,852.5 448.1,855.0 449.3,857.4 450.6,859.9 451.9,862.4 453.2,865.0 454.6,867.5 456.0,869.9 457.5,872.4 459.0,874.9 460.7,877.3 462.6,879.9 464.6,882.5 466.8,885.1 469.0,887.6 471.2,890.2 473.5,892.6 475.7,895.0 477.8,897.3 479.6,899.2 481.3,901.1 483.0,902.9 484.7,904.7 486.4,906.4 488.2,908.1 490.1,909.8 492.0,911.5 494.3,913.4 496.6,915.3 499.0,917.1 501.5,919.0 504.0,920.8 506.6,922.5 509.3,924.1 511.9,925.7 514.6,927.2 517.3,928.6 520.1,929.9 522.9,931.2 525.8,932.4 528.7,933.6 531.7,934.7 534.7,935.7 538.1,936.8 541.5,937.8 545.1,938.7 548.7,939.6 552.3,940.4 556.0,941.1 559.6,941.7 563.2,942.2 566.7,942.6 570.3,942.9 573.8,943.1 577.4,943.3 580.9,943.4 584.5,943.4 588.0,943.4 591.6,943.4 595.2,943.4 598.8,943.3 602.5,943.1 606.1,942.9 609.7,942.7 613.3,942.5 616.7,942.3 620.1,942.2 622.9,942.1 625.7,942.0 628.3,942.0 631.0,941.9 633.6,941.9 636.2,941.8 638.8,941.8 641.5,941.7" fill="none" stroke="#0000ff" stroke-width="2.8" stroke-linejoin="round" />
<polyline points="157.4,947.5 169.2,947.5 181.4,947.5 193.7,947.5 205.9,947.5 217.9,947.5 229.3,947.5 240.1,947.4 250.0,947.3 256.2,947.2 262.0,947.2 267.6,947.2 272.9,947.1 278.1,947.0 283.0,946.9 287.9,946.6 292.7,946.2 296.6,945.8 300.5,945.3 304.3,944.8 308.0,944.2 311.5,943.6 314.9,942.9 318.2,942.2 321.2,941.4 323.3,940.8 325.3,940.2 327.2,939.6 329.0,939.0 330.7,938.3 332.3,937.5 333.9,936.7 335.4,935.7 336.7,934.7 337.9,933.6 339.0,932.4 340.0,931.1 341.0,929.8 342.0,928.5 343.0,927.1 344.0,925.7 345.1,924.1 346.2,922.4 347.3,920.6 348.3,918.7 349.3,916.9 350.4,915.1 351.4,913.3 352.5,911.5 353.5,909.8 354.6,908.1 355.6,906.5 356.6,904.8 357.7,903.2 358.8,901.6 359.9,900.1 361.0,898.7 362.0,897.6 363.1,896.6 364.2,895.7 365.3,894.8 366.4,893.9 367.5,893.0 368.6,892.0 369.6,891.0 370.6,889.9 371.6,888.9 372.5,887.9 373.5,886.8 374.4,885.6 375.2,884.4 376.0,883.1 376.7,881.6 377.6,879.2 378.3,876.6 378.9,873.8 379.4,870.7 379.8,867.5 380.2,864.2 380.6,860.8 381.0,857.4 381.5,852.7 381.9,847.7 382.3,842.6 382.6,837.2 382.9,831.7 383.2,826.1 383.5,820.4 383.8,814.7 384.2,808.0 384.6,801.1 384.9,794.0 385.3,786.8 385.6,779.5 386.0,772.2 386.3,765.0 386.7,757.8 387.0,750.7 387.4,743.5 387.7,736.3 388.1,729.1 388.4,722.0 388.7,714.8 389.1,707.8 389.5,700.8 389.9,694.2 390.3,687.6 390.7,681.0 391.1,674.5 391.5,668.1 392.0,661.7 392.4,655.6 392.9,649.6 393.3,644.6 393.7,639.5 394.2,634.5 394.6,629.6 395.1,624.9 395.6,620.5 396.1,616.3 396.6,612.6 396.9,610.4 397.2,608.4 397.5,606.4 397.8,604.5 398.2,602.8 398.6,601.2 399.0,599.7 399.5,598.3 399.9,597.4 400.2,596.6 400.7,595.7 401.1,594.9 401.5,594.3 402.0,593.7 402.4,593.3 402.9,593.2 403.4,593.3 403.9,593.6 404.5,594.1 405.1,594.8 405.6,595.6 406.2,596.5 406.7,597.4 407.2,598.3 408.0,600.1 408.7,602.2 409.4,604.6 410.0,607.1 410.6,609.8 411.1,612.6 411.7,615.5 412.3,618.3 413.0,621.9 413.8,625.6 414.5,629.5 415.2,633.4 415.9,637.4 416.6,641.5 417.3,645.6 418.0,649.6 418.7,653.8 419.4,658.0 420.1,662.2 420.8,666.4 421.5,670.7 422.2,675.0 422.9,679.3 423.7,683.7 424.5,688.6 425.4,693.5 426.3,698.6 427.2,703.7 428.1,708.7 429.0,713.8 429.9,718.7 430.8,723.6 431.7,728.0 432.5,732.4 433.3,736.7 434.2,741.0 435.1,745.2 436.0,749.4 436.9,753.6 437.9,757.8 438.9,761.8 439.9,765.8 440.9,769.8 442.0,773.8 443.1,777.7 444.2,781.6 445.3,785.4 446.4,789.1 447.4,792.4 448.4,795.7 449.5,798.9 450.5,802.1 451.6,805.3 452.7,808.4 453.8,811.5 455.0,814.7 456.3,817.9 457.6,821.2 459.0,824.5 460.5,827.8 461.9,831.0 463.4,834.2 464.9,837.3 466.4,840.3 467.8,842.9 469.1,845.5 470.5,848.0 471.9,850.4 473.4,852.9 474.8,855.3 476.3,857.8 477.8,860.3 479.5,863.1 481.2,866.0 482.9,868.9 484.7,871.8 486.5,874.7 488.3,877.6 490.1,880.4 492.0,883.0 493.7,885.3 495.4,887.5 497.1,889.7 498.9,891.8 500.7,893.9 502.5,896.0 504.3,898.0 506.2,900.1 508.2,902.3 510.2,904.5 512.3,906.7 514.4,908.9 516.6,911.0 518.8,913.2 521.0,915.2 523.3,917.2 525.6,919.2 528.1,921.1 530.5,923.0 533.0,924.8 535.5,926.6 538.1,928.3 540.6,929.9 543.2,931.4 545.6,932.7 548.0,934.0 550.4,935.1 552.9,936.2 555.3,937.2 557.9,938.2 560.5,939.1 563.2,940.0 566.5,940.9 569.9,941.8 573.4,942.6 577.0,943.4 580.7,944.0 584.3,944.6 588.0,945.0 591.6,945.4 595.2,945.6 598.8,945.7 602.4,945.7 606.1,945.6 609.7,945.5 613.3,945.3 616.7,945.2 620.1,945.1 622.9,945.0 625.7,945.0 628.3,944.9 631.0,944.8 633.6,944.7 636.2,944.7 638.8,944.6 641.5,944.5" fill="none" stroke="#ff0000" stroke-width="2.8" stroke-linejoin="round" />
<polygon points="402.6,541.0 406.4,541.0 406.4,567.3 416.4,559.9 404.5,583.2 392.6,559.9 402.6,567.3" fill="#000" stroke="none" stroke-width="1" />
<polygon points="296.2,845.7 298.8,845.7 298.8,872.6 309.1,865.1 297.5,888.1 285.9,865.1 296.2,872.6" fill="#0000ff" stroke="none" stroke-width="1" />
<polygon points="349.4,828.0 351.9,828.0 351.9,854.9 362.3,847.4 350.7,870.4 339.1,847.4 349.4,854.9" fill="#0000ff" stroke="none" stroke-width="1" />
<text x="188.50" y="925.00" font-size="24.5" fill="#0000ff"  textLength="81.0" lengthAdjust="spacingAndGlyphs">pH 5.5</text>
<text x="490.00" y="858.70" font-size="24.5" fill="#ff0000"  textLength="81.0" lengthAdjust="spacingAndGlyphs">pH 7.5</text>
<text x="751.80" y="506.00" font-size="47" font-weight="bold"  textLength="27.4" lengthAdjust="spacingAndGlyphs">c</text>
<text x="840.50" y="517.00" font-size="27.2" textLength="263" lengthAdjust="spacingAndGlyphs">His-Cep63 (424–541)</text>
<circle cx="1108.80" cy="509.20" r="4.7" fill="#000" stroke="none" stroke-width="1" />
<text x="1115.30" y="517.00" font-size="27.2" textLength="261.5" lengthAdjust="spacingAndGlyphs">Cep152 (1205–1295)</text>
<polyline points="852.6,950.8 994.0,950.8 994.6,948.9 996.4,927.5 998.5,913.3 999.2,890.5 1000.9,825.0 1000.9,779.0 1001.8,745.0 1001.5,719.0 1002.4,665.0 1002.7,644.6 1002.9,604.7 1003.4,555.0 1005.4,546.5 1006.1,565.0 1006.9,589.8 1008.4,619.7 1008.9,634.6 1011.2,696.0 1011.8,733.0 1012.0,745.0 1012.6,770.0 1013.2,805.0 1013.8,825.0 1014.1,877.7 1016.3,906.2 1018.4,927.5 1019.8,940.3 1024.8,948.9 1030.0,949.5 1038.0,948.5 1044.8,940.3 1049.7,924.0 1055.4,911.2 1059.7,909.7 1063.3,920.4 1067.5,934.6 1071.8,943.9 1075.0,948.2 1080.0,950.5 1264.5,950.8" fill="none" stroke="#1f8a1f" stroke-width="2.0" stroke-linejoin="round" />
<polyline points="852.6,950.8 1000.5,950.8 1001.3,948.9 1004.9,934.6 1006.3,920.4 1006.7,872.7 1007.2,825.0 1007.8,775.0 1008.9,745.0 1008.3,745.1 1008.6,718.0 1009.2,670.0 1009.7,624.6 1011.2,596.3 1012.7,614.7 1013.9,639.6 1014.4,664.5 1014.6,690.0 1015.2,716.0 1016.0,740.0 1016.9,765.0 1017.5,793.0 1018.3,818.0 1018.4,835.0 1019.8,872.7 1021.3,899.0 1021.6,913.3 1022.2,930.0 1023.4,941.0 1027.0,950.3 1040.0,951.0 1058.0,950.5 1059.0,948.9 1063.3,938.2 1067.5,913.3 1070.4,891.9 1072.5,884.8 1074.5,887.0 1079.0,900.0 1084.0,940.0 1088.0,950.5 1150.0,951.0 1170.0,949.8 1190.0,949.2 1205.0,949.6 1215.0,951.0 1264.5,950.8" fill="none" stroke="#ff1f1f" stroke-width="2.0" stroke-linejoin="round" />
<polyline points="852.6,950.8 1016.5,950.8 1017.7,948.9 1022.0,940.3 1022.3,909.7 1023.4,870.6 1024.6,825.0 1024.3,785.0 1025.1,745.0 1025.7,705.0 1027.1,699.0 1027.1,669.6 1030.0,676.4 1032.8,686.6 1032.3,709.4 1033.4,711.7 1033.7,745.0 1034.5,780.0 1035.4,815.0 1035.7,835.0 1036.2,884.8 1036.9,916.8 1039.8,931.1 1042.6,943.9 1046.2,950.3 1092.0,950.3 1098.0,944.0 1104.0,930.0 1109.0,921.0 1114.0,918.0 1119.0,923.0 1124.0,934.0 1130.0,943.0 1136.0,948.5 1145.0,950.5 1168.0,950.5 1180.0,947.8 1190.0,946.2 1200.0,946.4 1207.0,948.2 1213.0,950.5 1264.5,950.8" fill="none" stroke="#1f1fff" stroke-width="2.2" stroke-linejoin="round" />
<rect x="852.60" y="539.80" width="411.90" height="411.00" fill="none" stroke="#1e1e1e" stroke-width="2.1" />
<line x1="878.34" y1="539.80" x2="878.34" y2="545.80" stroke="#1e1e1e" stroke-width="1.9" />
<line x1="878.34" y1="950.80" x2="878.34" y2="944.80" stroke="#1e1e1e" stroke-width="1.9" />
<line x1="904.09" y1="539.80" x2="904.09" y2="548.80" stroke="#1e1e1e" stroke-width="1.9" />
<line x1="904.09" y1="950.80" x2="904.09" y2="941.80" stroke="#1e1e1e" stroke-width="1.9" />
<line x1="929.83" y1="539.80" x2="929.83" y2="545.80" stroke="#1e1e1e" stroke-width="1.9" />
<line x1="929.83" y1="950.80" x2="929.83" y2="944.80" stroke="#1e1e1e" stroke-width="1.9" />
<line x1="955.58" y1="539.80" x2="955.58" y2="548.80" stroke="#1e1e1e" stroke-width="1.9" />
<line x1="955.58" y1="950.80" x2="955.58" y2="941.80" stroke="#1e1e1e" stroke-width="1.9" />
<line x1="981.32" y1="539.80" x2="981.32" y2="545.80" stroke="#1e1e1e" stroke-width="1.9" />
<line x1="981.32" y1="950.80" x2="981.32" y2="944.80" stroke="#1e1e1e" stroke-width="1.9" />
<line x1="1007.06" y1="539.80" x2="1007.06" y2="548.80" stroke="#1e1e1e" stroke-width="1.9" />
<line x1="1007.06" y1="950.80" x2="1007.06" y2="941.80" stroke="#1e1e1e" stroke-width="1.9" />
<line x1="1032.81" y1="539.80" x2="1032.81" y2="545.80" stroke="#1e1e1e" stroke-width="1.9" />
<line x1="1032.81" y1="950.80" x2="1032.81" y2="944.80" stroke="#1e1e1e" stroke-width="1.9" />
<line x1="1058.55" y1="539.80" x2="1058.55" y2="548.80" stroke="#1e1e1e" stroke-width="1.9" />
<line x1="1058.55" y1="950.80" x2="1058.55" y2="941.80" stroke="#1e1e1e" stroke-width="1.9" />
<line x1="1084.29" y1="539.80" x2="1084.29" y2="545.80" stroke="#1e1e1e" stroke-width="1.9" />
<line x1="1084.29" y1="950.80" x2="1084.29" y2="944.80" stroke="#1e1e1e" stroke-width="1.9" />
<line x1="1110.04" y1="539.80" x2="1110.04" y2="548.80" stroke="#1e1e1e" stroke-width="1.9" />
<line x1="1110.04" y1="950.80" x2="1110.04" y2="941.80" stroke="#1e1e1e" stroke-width="1.9" />
<line x1="1135.78" y1="539.80" x2="1135.78" y2="545.80" stroke="#1e1e1e" stroke-width="1.9" />
<line x1="1135.78" y1="950.80" x2="1135.78" y2="944.80" stroke="#1e1e1e" stroke-width="1.9" />
<line x1="1161.53" y1="539.80" x2="1161.53" y2="548.80" stroke="#1e1e1e" stroke-width="1.9" />
<line x1="1161.53" y1="950.80" x2="1161.53" y2="941.80" stroke="#1e1e1e" stroke-width="1.9" />
<line x1="1187.27" y1="539.80" x2="1187.27" y2="545.80" stroke="#1e1e1e" stroke-width="1.9" />
<line x1="1187.27" y1="950.80" x2="1187.27" y2="944.80" stroke="#1e1e1e" stroke-width="1.9" />
<line x1="1213.01" y1="539.80" x2="1213.01" y2="548.80" stroke="#1e1e1e" stroke-width="1.9" />
<line x1="1213.01" y1="950.80" x2="1213.01" y2="941.80" stroke="#1e1e1e" stroke-width="1.9" />
<line x1="1238.76" y1="539.80" x2="1238.76" y2="545.80" stroke="#1e1e1e" stroke-width="1.9" />
<line x1="1238.76" y1="950.80" x2="1238.76" y2="944.80" stroke="#1e1e1e" stroke-width="1.9" />
<line x1="852.60" y1="868.60" x2="862.10" y2="868.60" stroke="#1e1e1e" stroke-width="1.9" />
<line x1="1264.50" y1="868.60" x2="1255.00" y2="868.60" stroke="#1e1e1e" stroke-width="1.9" />
<line x1="852.60" y1="786.40" x2="862.10" y2="786.40" stroke="#1e1e1e" stroke-width="1.9" />
<line x1="1264.50" y1="786.40" x2="1255.00" y2="786.40" stroke="#1e1e1e" stroke-width="1.9" />
<line x1="852.60" y1="704.20" x2="862.10" y2="704.20" stroke="#1e1e1e" stroke-width="1.9" />
<line x1="1264.50" y1="704.20" x2="1255.00" y2="704.20" stroke="#1e1e1e" stroke-width="1.9" />
<line x1="852.60" y1="622.00" x2="862.10" y2="622.00" stroke="#1e1e1e" stroke-width="1.9" />
<line x1="1264.50" y1="622.00" x2="1255.00" y2="622.00" stroke="#1e1e1e" stroke-width="1.9" />
<line x1="852.60" y1="950.80" x2="1264.50" y2="950.80" stroke="#1f1fff" stroke-width="2.0" />
<text x="842.60" y="958.20" font-size="21" text-anchor="end" fill="#222">0</text>
<text x="842.60" y="876.00" font-size="21" text-anchor="end" fill="#222">1</text>
<text x="842.60" y="793.80" font-size="21" text-anchor="end" fill="#222">2</text>
<text x="842.60" y="711.60" font-size="21" text-anchor="end" fill="#222">3</text>
<text x="842.60" y="629.40" font-size="21" text-anchor="end" fill="#222">4</text>
<text x="842.60" y="547.20" font-size="21" text-anchor="end" fill="#222">5</text>
<text x="852.60" y="978.30" font-size="20.5" text-anchor="middle" fill="#222">0</text>
<text x="904.09" y="978.30" font-size="20.5" text-anchor="middle" fill="#222">1</text>
<text x="955.58" y="978.30" font-size="20.5" text-anchor="middle" fill="#222">2</text>
<text x="1007.06" y="978.30" font-size="20.5" text-anchor="middle" fill="#222">3</text>
<text x="1058.55" y="978.30" font-size="20.5" text-anchor="middle" fill="#222">4</text>
<text x="1110.04" y="978.30" font-size="20.5" text-anchor="middle" fill="#222">5</text>
<text x="1161.53" y="978.30" font-size="20.5" text-anchor="middle" fill="#222">6</text>
<text x="1213.01" y="978.30" font-size="20.5" text-anchor="middle" fill="#222">7</text>
<text x="1264.50" y="978.30" font-size="20.5" text-anchor="middle" fill="#222">8</text>
<line x1="1053.70" y1="586.80" x2="1100.00" y2="586.80" stroke="#1f8a1f" stroke-width="2.6" />
<text x="1110.00" y="594.80" font-size="20.5" fill="#222"  textLength="134.7" lengthAdjust="spacingAndGlyphs">180 µM, pH 8.0</text>
<line x1="1053.70" y1="613.70" x2="1100.00" y2="613.70" stroke="#ff1f1f" stroke-width="2.6" />
<text x="1110.00" y="621.70" font-size="20.5" fill="#222"  textLength="134.7" lengthAdjust="spacingAndGlyphs">110 µM, pH 7.0</text>
<line x1="1053.70" y1="639.40" x2="1100.00" y2="639.40" stroke="#1f1fff" stroke-width="2.6" />
<text x="1110.00" y="647.40" font-size="20.5" fill="#222"  textLength="134.7" lengthAdjust="spacingAndGlyphs">110 µM, pH 5.5</text>
<polygon points="1056.5,857.8 1057.9,857.8 1057.9,880.2 1065.1,880.2 1057.2,895.5 1049.3,880.2 1056.5,880.2" fill="#00a050" stroke="none" stroke-width="1" />
<polygon points="1073.9,835.6 1075.3,835.6 1075.3,858.5 1082.5,858.5 1074.6,873.8 1066.7,858.5 1073.9,858.5" fill="#ff0000" stroke="none" stroke-width="1" />
<polygon points="1111.3,865.6 1112.7,865.6 1112.7,888.0 1119.8,888.0 1112.0,903.0 1104.2,888.0 1111.3,888.0" fill="#1030e8" stroke="none" stroke-width="1" />
<polygon points="1195.9,895.0 1197.3,895.0 1197.3,917.4 1204.4,917.4 1196.6,932.4 1188.8,917.4 1195.9,917.4" fill="#1030e8" stroke="none" stroke-width="1" />
<text x="1000" y="1020.2" font-size="28.5" fill="#1a1a1a"><tspan font-style="italic">s</tspan><tspan font-size="20.5" font-style="italic" dy="9.5">20,w</tspan><tspan dy="-9.5"> (S)</tspan></text>
<text x="802.6" y="822.2" font-size="30" fill="#1a1a1a" transform="rotate(-90 802.6 822.2)"><tspan font-style="italic">c</tspan>(<tspan font-style="italic">s</tspan>) (A<tspan font-size="17" dy="7">280</tspan><tspan dy="-7">/S)</tspan></text>
<text x="1.40" y="1092.60" font-size="47" font-weight="bold"  textLength="29.0" lengthAdjust="spacingAndGlyphs">d</text>
<text x="456.40" y="1099.80" font-size="27.2" textLength="263" lengthAdjust="spacingAndGlyphs">His-Cep63 (424–541)</text>
<circle cx="724.70" cy="1092.00" r="4.7" fill="#000" stroke="none" stroke-width="1" />
<text x="731.20" y="1099.80" font-size="27.2" textLength="358.5" lengthAdjust="spacingAndGlyphs">Cep152 (1205–1295), pH 5.5</text>
<polyline points="186.1,1623.0 187.7,1623.0 189.3,1623.0 190.9,1623.0 192.5,1623.0 194.1,1623.0 195.6,1623.0 197.2,1623.0 198.8,1623.0 200.4,1623.0 202.0,1623.0 203.6,1623.0 205.2,1623.0 206.7,1622.9 208.3,1622.9 209.9,1622.9 211.5,1622.9 213.1,1622.9 214.7,1622.8 216.3,1622.8 217.8,1622.8 219.4,1622.8 221.0,1622.7 222.6,1622.7 224.2,1622.7 225.8,1622.6 227.4,1622.6 229.0,1622.5 230.5,1622.5 232.1,1622.4 233.7,1622.4 235.3,1622.3 236.9,1622.3 238.5,1622.2 240.1,1622.2 241.6,1622.1 243.2,1622.0 244.8,1622.0 246.4,1621.9 248.0,1621.8 249.6,1621.8 251.2,1621.7 252.7,1621.6 254.3,1621.5 255.9,1621.4 257.5,1621.4 259.1,1621.3 260.7,1621.2 262.3,1621.1 263.8,1621.0 265.4,1620.9 267.0,1620.8 268.6,1620.7 270.2,1620.5 271.8,1620.4 273.4,1620.3 274.9,1620.2 276.5,1620.1 278.1,1619.9 279.7,1619.8 281.3,1619.7 282.9,1619.5 284.5,1619.4 286.0,1619.2 287.6,1619.1 289.2,1618.9 290.8,1618.8 292.4,1618.6 294.0,1618.4 295.6,1618.3 297.1,1618.1 298.7,1617.9 300.3,1617.7 301.9,1617.5 303.5,1617.3 305.1,1617.1 306.7,1616.9 308.2,1616.7 309.8,1616.5 311.4,1616.2 313.0,1616.0 314.6,1615.8 316.2,1615.5 317.8,1615.3 319.3,1615.0 320.9,1614.7 322.5,1614.5 324.1,1614.2 325.7,1613.9 327.3,1613.6 328.9,1613.3 330.4,1613.0 332.0,1612.7 333.6,1612.3 335.2,1612.0 336.8,1611.6 338.4,1611.3 340.0,1610.9 341.5,1610.5 343.1,1610.2 344.7,1609.8 346.3,1609.3 347.9,1608.9 349.5,1608.5 351.1,1608.0 352.7,1607.6 354.2,1607.1 355.8,1606.6 357.4,1606.1 359.0,1605.6 360.6,1605.1 362.2,1604.5 363.8,1604.0 365.3,1603.4 366.9,1602.8 368.5,1602.2 370.1,1601.6 371.7,1600.9 373.3,1600.3 374.9,1599.6 376.4,1598.9 378.0,1598.1 379.6,1597.4 381.2,1596.6 382.8,1595.8 384.4,1595.0 386.0,1594.1 387.5,1593.3 389.1,1592.4 390.7,1591.4 392.3,1590.5 393.9,1589.5 395.5,1588.5 397.1,1587.4 398.6,1586.3 400.2,1585.2 401.8,1584.0 403.4,1582.8 405.0,1581.6 406.6,1580.3 408.2,1579.0 409.7,1577.6 411.3,1576.2 412.9,1574.8 414.5,1573.3 416.1,1571.7 417.7,1570.1 419.3,1568.4 420.8,1566.7 422.4,1564.9 424.0,1563.1 425.6,1561.2 427.2,1559.2 428.8,1557.2 430.4,1555.0 431.9,1552.8 433.5,1550.6 435.1,1548.2 436.7,1545.8 438.3,1543.2 439.9,1540.6 441.5,1537.9 443.0,1535.1 444.6,1532.1 446.2,1529.1 447.8,1525.9 449.4,1522.7 451.0,1519.3 452.6,1515.7 454.1,1512.1 455.7,1508.3 457.3,1504.3 458.9,1500.2 460.5,1495.9 462.1,1491.5 463.7,1486.8 465.3,1482.0 466.8,1477.0 468.4,1471.8 470.0,1466.4 471.6,1460.7 473.2,1454.8 474.8,1448.7 476.4,1442.3 477.9,1435.7 479.5,1428.8 481.1,1421.5 482.7,1414.0 484.3,1406.1 485.9,1397.9 487.5,1389.4 489.0,1380.5 490.6,1371.1 492.2,1361.4 493.8,1351.2 495.4,1340.6 497.0,1329.5 498.6,1317.9 500.1,1305.8 501.7,1293.1 501.7,1293.1 502.1,1290.3 502.4,1287.6 502.7,1284.8 503.1,1281.9" fill="none" stroke="#138a13" stroke-width="1.3" stroke-linejoin="round" />
<g fill="none" stroke="#138a13" stroke-width="1.8"><circle cx="186.1" cy="1623.4" r="4.4"/><circle cx="189.0" cy="1621.5" r="4.4"/><circle cx="191.9" cy="1621.4" r="4.4"/><circle cx="195.4" cy="1625.1" r="4.4"/><circle cx="198.0" cy="1622.0" r="4.4"/><circle cx="201.8" cy="1623.6" r="4.4"/><circle cx="204.6" cy="1621.5" r="4.4"/><circle cx="207.6" cy="1624.0" r="4.4"/><circle cx="209.6" cy="1622.2" r="4.4"/><circle cx="212.2" cy="1620.8" r="4.4"/><circle cx="215.3" cy="1622.4" r="4.4"/><circle cx="218.8" cy="1623.2" r="4.4"/><circle cx="223.0" cy="1622.4" r="4.4"/><circle cx="223.9" cy="1621.8" r="4.4"/><circle cx="229.0" cy="1622.7" r="4.4"/><circle cx="230.9" cy="1621.7" r="4.4"/><circle cx="234.4" cy="1621.1" r="4.4"/><circle cx="239.1" cy="1620.9" r="4.4"/><circle cx="241.3" cy="1623.5" r="4.4"/><circle cx="243.9" cy="1621.8" r="4.4"/><circle cx="247.5" cy="1622.0" r="4.4"/><circle cx="249.5" cy="1621.8" r="4.4"/><circle cx="254.6" cy="1619.1" r="4.4"/><circle cx="257.3" cy="1621.6" r="4.4"/><circle cx="259.2" cy="1624.4" r="4.4"/><circle cx="263.3" cy="1619.1" r="4.4"/><circle cx="265.9" cy="1621.8" r="4.4"/><circle cx="268.7" cy="1621.7" r="4.4"/><circle cx="271.9" cy="1621.5" r="4.4"/><circle cx="276.1" cy="1619.1" r="4.4"/><circle cx="278.2" cy="1619.2" r="4.4"/><circle cx="281.2" cy="1617.8" r="4.4"/><circle cx="283.7" cy="1619.1" r="4.4"/><circle cx="288.0" cy="1621.0" r="4.4"/><circle cx="289.2" cy="1617.5" r="4.4"/><circle cx="293.9" cy="1615.3" r="4.4"/><circle cx="296.1" cy="1618.0" r="4.4"/><circle cx="300.5" cy="1618.9" r="4.4"/><circle cx="302.3" cy="1616.8" r="4.4"/><circle cx="305.4" cy="1619.5" r="4.4"/><circle cx="308.3" cy="1616.1" r="4.4"/><circle cx="312.0" cy="1616.0" r="4.4"/><circle cx="314.7" cy="1613.9" r="4.4"/><circle cx="317.9" cy="1614.5" r="4.4"/><circle cx="321.9" cy="1615.8" r="4.4"/><circle cx="324.0" cy="1615.3" r="4.4"/><circle cx="326.8" cy="1615.3" r="4.4"/><circle cx="330.1" cy="1614.0" r="4.4"/><circle cx="332.2" cy="1613.0" r="4.4"/><circle cx="334.9" cy="1608.5" r="4.4"/><circle cx="339.1" cy="1609.6" r="4.4"/><circle cx="342.5" cy="1613.9" r="4.4"/><circle cx="344.8" cy="1608.6" r="4.4"/><circle cx="348.7" cy="1609.5" r="4.4"/><circle cx="351.4" cy="1607.6" r="4.4"/><circle cx="355.2" cy="1607.8" r="4.4"/><circle cx="356.9" cy="1605.9" r="4.4"/><circle cx="360.8" cy="1603.3" r="4.4"/><circle cx="364.1" cy="1602.6" r="4.4"/><circle cx="367.7" cy="1603.1" r="4.4"/><circle cx="370.0" cy="1600.7" r="4.4"/><circle cx="372.9" cy="1597.2" r="4.4"/><circle cx="375.2" cy="1599.6" r="4.4"/><circle cx="377.5" cy="1598.9" r="4.4"/><circle cx="380.8" cy="1597.3" r="4.4"/><circle cx="384.6" cy="1595.7" r="4.4"/><circle cx="388.5" cy="1590.3" r="4.4"/><circle cx="392.4" cy="1593.3" r="4.4"/><circle cx="394.4" cy="1588.7" r="4.4"/><circle cx="397.4" cy="1585.5" r="4.4"/><circle cx="401.5" cy="1584.1" r="4.4"/><circle cx="403.6" cy="1581.4" r="4.4"/><circle cx="406.2" cy="1578.1" r="4.4"/><circle cx="410.8" cy="1577.3" r="4.4"/><circle cx="413.6" cy="1574.8" r="4.4"/><circle cx="415.4" cy="1571.3" r="4.4"/><circle cx="418.5" cy="1568.7" r="4.4"/><circle cx="421.8" cy="1564.9" r="4.4"/><circle cx="424.0" cy="1560.5" r="4.4"/><circle cx="429.5" cy="1556.9" r="4.4"/><circle cx="430.4" cy="1554.4" r="4.4"/><circle cx="435.4" cy="1547.1" r="4.4"/><circle cx="437.2" cy="1543.7" r="4.4"/><circle cx="439.0" cy="1540.8" r="4.4"/><circle cx="443.5" cy="1534.3" r="4.4"/><circle cx="446.0" cy="1529.1" r="4.4"/><circle cx="449.2" cy="1521.9" r="4.4"/><circle cx="451.8" cy="1513.5" r="4.4"/><circle cx="456.8" cy="1507.4" r="4.4"/><circle cx="459.1" cy="1500.3" r="4.4"/><circle cx="461.5" cy="1491.2" r="4.4"/><circle cx="465.5" cy="1482.4" r="4.4"/><circle cx="467.9" cy="1473.2" r="4.4"/><circle cx="472.0" cy="1463.6" r="4.4"/><circle cx="474.5" cy="1450.2" r="4.4"/><circle cx="476.1" cy="1440.3" r="4.4"/><circle cx="481.1" cy="1425.1" r="4.4"/><circle cx="483.8" cy="1412.1" r="4.4"/><circle cx="487.1" cy="1396.5" r="4.4"/><circle cx="489.1" cy="1380.4" r="4.4"/><circle cx="491.5" cy="1360.7" r="4.4"/><circle cx="496.0" cy="1340.5" r="4.4"/><circle cx="500.2" cy="1319.5" r="4.4"/><circle cx="500.8" cy="1290.4" r="4.4"/></g>
<polyline points="186.1,1590.9 187.7,1590.3 189.3,1589.7 190.9,1589.1 192.5,1588.5 194.1,1588.0 195.6,1587.4 197.2,1586.8 198.8,1586.2 200.4,1585.6 202.0,1585.0 203.6,1584.4 205.2,1583.9 206.7,1583.3 208.3,1582.7 209.9,1582.1 211.5,1581.5 213.1,1581.0 214.7,1580.4 216.3,1579.8 217.8,1579.2 219.4,1578.7 221.0,1578.1 222.6,1577.5 224.2,1576.9 225.8,1576.4 227.4,1575.8 229.0,1575.2 230.5,1574.7 232.1,1574.1 233.7,1573.5 235.3,1572.9 236.9,1572.4 238.5,1571.8 240.1,1571.2 241.6,1570.7 243.2,1570.1 244.8,1569.5 246.4,1568.9 248.0,1568.4 249.6,1567.8 251.2,1567.2 252.7,1566.6 254.3,1566.1 255.9,1565.5 257.5,1564.9 259.1,1564.3 260.7,1563.7 262.3,1563.1 263.8,1562.5 265.4,1562.0 267.0,1561.4 268.6,1560.8 270.2,1560.2 271.8,1559.5 273.4,1558.9 274.9,1558.3 276.5,1557.7 278.1,1557.1 279.7,1556.5 281.3,1555.8 282.9,1555.2 284.5,1554.6 286.0,1553.9 287.6,1553.3 289.2,1552.6 290.8,1551.9 292.4,1551.3 294.0,1550.6 295.6,1549.9 297.1,1549.2 298.7,1548.5 300.3,1547.8 301.9,1547.1 303.5,1546.4 305.1,1545.7 306.7,1544.9 308.2,1544.2 309.8,1543.5 311.4,1542.7 313.0,1541.9 314.6,1541.2 316.2,1540.4 317.8,1539.6 319.3,1538.8 320.9,1537.9 322.5,1537.1 324.1,1536.3 325.7,1535.4 327.3,1534.6 328.9,1533.7 330.4,1532.8 332.0,1531.9 333.6,1531.0 335.2,1530.1 336.8,1529.1 338.4,1528.2 340.0,1527.2 341.5,1526.2 343.1,1525.2 344.7,1524.2 346.3,1523.2 347.9,1522.1 349.5,1521.1 351.1,1520.0 352.7,1518.9 354.2,1517.8 355.8,1516.7 357.4,1515.5 359.0,1514.4 360.6,1513.2 362.2,1512.0 363.8,1510.8 365.3,1509.5 366.9,1508.3 368.5,1507.0 370.1,1505.7 371.7,1504.4 373.3,1503.0 374.9,1501.7 376.4,1500.3 378.0,1498.9 379.6,1497.5 381.2,1496.0 382.8,1494.5 384.4,1493.0 386.0,1491.5 387.5,1489.9 389.1,1488.4 390.7,1486.8 392.3,1485.1 393.9,1483.5 395.5,1481.8 397.1,1480.1 398.6,1478.3 400.2,1476.5 401.8,1474.7 403.4,1472.9 405.0,1471.1 406.6,1469.2 408.2,1467.3 409.7,1465.3 411.3,1463.3 412.9,1461.3 414.5,1459.3 416.1,1457.2 417.7,1455.1 419.3,1452.9 420.8,1450.7 422.4,1448.5 424.0,1446.3 425.6,1444.0 427.2,1441.7 428.8,1439.3 430.4,1436.9 431.9,1434.5 433.5,1432.0 435.1,1429.5 436.7,1427.0 438.3,1424.4 439.9,1421.8 441.5,1419.1 443.0,1416.4 444.6,1413.7 446.2,1410.9 447.8,1408.1 449.4,1405.3 451.0,1402.4 452.6,1399.4 454.1,1396.5 455.7,1393.4 457.3,1390.4 458.9,1387.3 460.5,1384.1 462.1,1381.0 463.7,1377.7 465.3,1374.5 466.8,1371.2 468.4,1367.8 470.0,1364.5 471.6,1361.0 473.2,1357.6 474.8,1354.1 476.4,1350.5 477.9,1346.9 479.5,1343.3 481.1,1339.7 482.7,1336.0 484.3,1332.2 485.9,1328.5 487.5,1324.6 489.0,1320.8 490.6,1316.9 492.2,1313.0 493.8,1309.1 495.4,1305.1 497.0,1301.1 498.6,1297.0 500.1,1292.9 501.7,1288.8" fill="none" stroke="#ff1010" stroke-width="1.3" stroke-linejoin="round" />
<g fill="none" stroke="#ff1010" stroke-width="1.8"><circle cx="186.8" cy="1589.3" r="4.4"/><circle cx="189.2" cy="1591.1" r="4.4"/><circle cx="190.9" cy="1585.2" r="4.4"/><circle cx="195.5" cy="1587.6" r="4.4"/><circle cx="198.2" cy="1586.4" r="4.4"/><circle cx="200.8" cy="1582.8" r="4.4"/><circle cx="204.4" cy="1582.5" r="4.4"/><circle cx="206.3" cy="1583.8" r="4.4"/><circle cx="210.6" cy="1582.5" r="4.4"/><circle cx="212.9" cy="1579.7" r="4.4"/><circle cx="216.0" cy="1578.2" r="4.4"/><circle cx="220.0" cy="1577.3" r="4.4"/><circle cx="223.2" cy="1577.9" r="4.4"/><circle cx="227.6" cy="1574.1" r="4.4"/><circle cx="229.7" cy="1575.1" r="4.4"/><circle cx="232.1" cy="1571.8" r="4.4"/><circle cx="234.8" cy="1574.2" r="4.4"/><circle cx="238.2" cy="1572.0" r="4.4"/><circle cx="241.1" cy="1572.6" r="4.4"/><circle cx="244.3" cy="1566.2" r="4.4"/><circle cx="246.9" cy="1565.4" r="4.4"/><circle cx="247.9" cy="1566.6" r="4.4"/><circle cx="254.6" cy="1566.4" r="4.4"/><circle cx="255.7" cy="1563.7" r="4.4"/><circle cx="260.6" cy="1564.4" r="4.4"/><circle cx="262.8" cy="1562.9" r="4.4"/><circle cx="265.8" cy="1563.1" r="4.4"/><circle cx="269.3" cy="1561.0" r="4.4"/><circle cx="271.1" cy="1560.3" r="4.4"/><circle cx="274.4" cy="1560.1" r="4.4"/><circle cx="277.0" cy="1556.9" r="4.4"/><circle cx="281.1" cy="1553.8" r="4.4"/><circle cx="285.6" cy="1557.0" r="4.4"/><circle cx="286.9" cy="1554.6" r="4.4"/><circle cx="290.6" cy="1548.0" r="4.4"/><circle cx="293.6" cy="1550.8" r="4.4"/><circle cx="296.5" cy="1547.8" r="4.4"/><circle cx="299.3" cy="1547.9" r="4.4"/><circle cx="303.5" cy="1547.4" r="4.4"/><circle cx="305.6" cy="1547.9" r="4.4"/><circle cx="308.2" cy="1543.4" r="4.4"/><circle cx="310.3" cy="1545.0" r="4.4"/><circle cx="315.6" cy="1542.5" r="4.4"/><circle cx="318.4" cy="1539.7" r="4.4"/><circle cx="321.1" cy="1537.5" r="4.4"/><circle cx="323.8" cy="1536.4" r="4.4"/><circle cx="328.3" cy="1535.6" r="4.4"/><circle cx="330.1" cy="1532.0" r="4.4"/><circle cx="332.7" cy="1533.8" r="4.4"/><circle cx="336.7" cy="1529.5" r="4.4"/><circle cx="339.1" cy="1525.8" r="4.4"/><circle cx="342.3" cy="1527.1" r="4.4"/><circle cx="345.1" cy="1523.4" r="4.4"/><circle cx="348.3" cy="1521.9" r="4.4"/><circle cx="350.3" cy="1519.3" r="4.4"/><circle cx="354.0" cy="1518.9" r="4.4"/><circle cx="357.1" cy="1516.2" r="4.4"/><circle cx="362.0" cy="1512.5" r="4.4"/><circle cx="363.4" cy="1511.0" r="4.4"/><circle cx="366.9" cy="1506.7" r="4.4"/><circle cx="370.3" cy="1509.0" r="4.4"/><circle cx="372.8" cy="1502.9" r="4.4"/><circle cx="375.3" cy="1501.1" r="4.4"/><circle cx="378.2" cy="1496.1" r="4.4"/><circle cx="383.3" cy="1493.6" r="4.4"/><circle cx="386.2" cy="1494.6" r="4.4"/><circle cx="388.6" cy="1490.0" r="4.4"/><circle cx="393.0" cy="1485.7" r="4.4"/><circle cx="394.0" cy="1480.7" r="4.4"/><circle cx="397.6" cy="1481.9" r="4.4"/><circle cx="401.4" cy="1474.6" r="4.4"/><circle cx="403.0" cy="1471.8" r="4.4"/><circle cx="407.0" cy="1468.6" r="4.4"/><circle cx="410.0" cy="1465.7" r="4.4"/><circle cx="412.6" cy="1461.3" r="4.4"/><circle cx="416.1" cy="1457.2" r="4.4"/><circle cx="419.4" cy="1456.3" r="4.4"/><circle cx="422.5" cy="1449.1" r="4.4"/><circle cx="423.8" cy="1445.3" r="4.4"/><circle cx="426.6" cy="1437.9" r="4.4"/><circle cx="431.9" cy="1436.7" r="4.4"/><circle cx="434.2" cy="1428.1" r="4.4"/><circle cx="437.1" cy="1424.8" r="4.4"/><circle cx="441.0" cy="1424.4" r="4.4"/><circle cx="443.7" cy="1414.4" r="4.4"/><circle cx="445.6" cy="1410.2" r="4.4"/><circle cx="449.5" cy="1403.0" r="4.4"/><circle cx="452.8" cy="1397.3" r="4.4"/><circle cx="456.7" cy="1395.1" r="4.4"/><circle cx="459.7" cy="1386.7" r="4.4"/><circle cx="462.3" cy="1381.1" r="4.4"/><circle cx="464.6" cy="1374.5" r="4.4"/><circle cx="467.0" cy="1366.4" r="4.4"/><circle cx="471.7" cy="1361.8" r="4.4"/><circle cx="474.3" cy="1357.0" r="4.4"/><circle cx="475.8" cy="1347.3" r="4.4"/><circle cx="480.4" cy="1342.2" r="4.4"/><circle cx="483.0" cy="1336.1" r="4.4"/><circle cx="486.6" cy="1325.2" r="4.4"/><circle cx="488.7" cy="1321.0" r="4.4"/><circle cx="492.9" cy="1309.2" r="4.4"/><circle cx="496.7" cy="1305.5" r="4.4"/><circle cx="499.7" cy="1296.1" r="4.4"/><circle cx="501.5" cy="1287.0" r="4.4"/></g>
<polyline points="186.1,1527.5 187.7,1526.7 189.3,1526.0 190.9,1525.2 192.5,1524.4 194.1,1523.7 195.6,1523.0 197.2,1522.3 198.8,1521.5 200.4,1520.8 202.0,1520.1 203.6,1519.4 205.2,1518.8 206.7,1518.1 208.3,1517.4 209.9,1516.8 211.5,1516.1 213.1,1515.5 214.7,1514.9 216.3,1514.2 217.8,1513.6 219.4,1513.0 221.0,1512.4 222.6,1511.8 224.2,1511.2 225.8,1510.6 227.4,1510.1 229.0,1509.5 230.5,1508.9 232.1,1508.4 233.7,1507.8 235.3,1507.3 236.9,1506.7 238.5,1506.2 240.1,1505.7 241.6,1505.2 243.2,1504.6 244.8,1504.1 246.4,1503.6 248.0,1503.1 249.6,1502.6 251.2,1502.1 252.7,1501.6 254.3,1501.1 255.9,1500.7 257.5,1500.2 259.1,1499.7 260.7,1499.2 262.3,1498.8 263.8,1498.3 265.4,1497.8 267.0,1497.4 268.6,1496.9 270.2,1496.4 271.8,1496.0 273.4,1495.5 274.9,1495.0 276.5,1494.6 278.1,1494.1 279.7,1493.7 281.3,1493.2 282.9,1492.8 284.5,1492.3 286.0,1491.9 287.6,1491.4 289.2,1491.0 290.8,1490.5 292.4,1490.0 294.0,1489.6 295.6,1489.1 297.1,1488.7 298.7,1488.2 300.3,1487.7 301.9,1487.3 303.5,1486.8 305.1,1486.4 306.7,1485.9 308.2,1485.4 309.8,1484.9 311.4,1484.5 313.0,1484.0 314.6,1483.5 316.2,1483.0 317.8,1482.5 319.3,1482.0 320.9,1481.5 322.5,1481.1 324.1,1480.6 325.7,1480.0 327.3,1479.5 328.9,1479.0 330.4,1478.5 332.0,1478.0 333.6,1477.5 335.2,1476.9 336.8,1476.4 338.4,1475.9 340.0,1475.3 341.5,1474.8 343.1,1474.2 344.7,1473.7 346.3,1473.1 347.9,1472.5 349.5,1472.0 351.1,1471.4 352.7,1470.8 354.2,1470.2 355.8,1469.6 357.4,1469.0 359.0,1468.4 360.6,1467.8 362.2,1467.2 363.8,1466.6 365.3,1465.9 366.9,1465.3 368.5,1464.7 370.1,1464.0 371.7,1463.4 373.3,1462.7 374.9,1462.1 376.4,1461.4 378.0,1460.7 379.6,1460.0 381.2,1459.4 382.8,1458.7 384.4,1458.0 386.0,1457.3 387.5,1456.6 389.1,1455.8 390.7,1455.1 392.3,1454.4 393.9,1453.7 395.5,1452.9 397.1,1452.2 398.6,1451.4 400.2,1450.7 401.8,1449.9 403.4,1449.2 405.0,1448.4 406.6,1447.6 408.2,1446.8 409.7,1446.1 411.3,1445.3 412.9,1444.5 414.5,1443.7 416.1,1442.9 417.7,1442.1 419.3,1441.3 420.8,1440.5 422.4,1439.6 424.0,1438.8 425.6,1438.0 427.2,1437.2 428.8,1436.3 430.4,1435.5 431.9,1434.7 433.5,1433.8 435.1,1433.0 436.7,1432.2 438.3,1431.3 439.9,1430.5 441.5,1429.6 443.0,1428.8 444.6,1427.9 446.2,1427.1 447.8,1426.3 449.4,1425.4 451.0,1424.6 452.6,1423.7 454.1,1422.9 455.7,1422.1 457.3,1421.2 458.9,1420.4 460.5,1419.6 462.1,1418.7 463.7,1417.9 465.3,1417.1 466.8,1416.3 468.4,1415.5 470.0,1414.7 471.6,1413.9 473.2,1413.1 474.8,1412.4 476.4,1411.6 477.9,1410.8 479.5,1410.1 481.1,1409.3 482.7,1408.6 484.3,1407.9 485.9,1407.2 487.5,1406.5 489.0,1405.8 490.6,1405.1 492.2,1404.5 493.8,1403.9 495.4,1403.2 497.0,1402.6 498.6,1402.0 500.1,1401.5 501.7,1400.9" fill="none" stroke="#1010ff" stroke-width="1.3" stroke-linejoin="round" />
<g fill="none" stroke="#1010ff" stroke-width="1.8"><circle cx="188.2" cy="1527.2" r="4.4"/><circle cx="190.5" cy="1525.0" r="4.4"/><circle cx="192.4" cy="1521.9" r="4.4"/><circle cx="195.0" cy="1524.7" r="4.4"/><circle cx="197.4" cy="1523.4" r="4.4"/><circle cx="201.7" cy="1518.7" r="4.4"/><circle cx="204.1" cy="1518.3" r="4.4"/><circle cx="207.5" cy="1516.9" r="4.4"/><circle cx="210.0" cy="1516.0" r="4.4"/><circle cx="212.9" cy="1513.2" r="4.4"/><circle cx="216.7" cy="1515.4" r="4.4"/><circle cx="218.6" cy="1512.9" r="4.4"/><circle cx="222.4" cy="1510.1" r="4.4"/><circle cx="226.6" cy="1509.7" r="4.4"/><circle cx="230.2" cy="1508.2" r="4.4"/><circle cx="232.4" cy="1508.0" r="4.4"/><circle cx="234.6" cy="1508.3" r="4.4"/><circle cx="238.1" cy="1507.3" r="4.4"/><circle cx="241.2" cy="1503.5" r="4.4"/><circle cx="244.3" cy="1504.4" r="4.4"/><circle cx="248.2" cy="1501.9" r="4.4"/><circle cx="250.4" cy="1499.6" r="4.4"/><circle cx="254.1" cy="1499.7" r="4.4"/><circle cx="255.2" cy="1500.4" r="4.4"/><circle cx="260.6" cy="1497.1" r="4.4"/><circle cx="261.9" cy="1497.4" r="4.4"/><circle cx="264.9" cy="1498.3" r="4.4"/><circle cx="268.2" cy="1495.7" r="4.4"/><circle cx="272.4" cy="1494.7" r="4.4"/><circle cx="275.3" cy="1493.5" r="4.4"/><circle cx="277.1" cy="1491.2" r="4.4"/><circle cx="282.6" cy="1492.8" r="4.4"/><circle cx="284.4" cy="1492.3" r="4.4"/><circle cx="287.4" cy="1491.6" r="4.4"/><circle cx="291.8" cy="1489.0" r="4.4"/><circle cx="292.1" cy="1488.1" r="4.4"/><circle cx="295.4" cy="1490.1" r="4.4"/><circle cx="300.2" cy="1486.4" r="4.4"/><circle cx="301.5" cy="1486.5" r="4.4"/><circle cx="306.7" cy="1481.7" r="4.4"/><circle cx="309.1" cy="1483.6" r="4.4"/><circle cx="312.6" cy="1482.6" r="4.4"/><circle cx="314.6" cy="1481.0" r="4.4"/><circle cx="317.1" cy="1484.7" r="4.4"/><circle cx="321.6" cy="1480.9" r="4.4"/><circle cx="323.3" cy="1477.6" r="4.4"/><circle cx="326.8" cy="1479.6" r="4.4"/><circle cx="330.1" cy="1478.5" r="4.4"/><circle cx="332.3" cy="1477.5" r="4.4"/><circle cx="336.2" cy="1478.6" r="4.4"/><circle cx="340.8" cy="1475.3" r="4.4"/><circle cx="341.8" cy="1474.4" r="4.4"/><circle cx="345.0" cy="1472.2" r="4.4"/><circle cx="348.5" cy="1470.6" r="4.4"/><circle cx="352.1" cy="1471.0" r="4.4"/><circle cx="354.9" cy="1469.8" r="4.4"/><circle cx="357.1" cy="1467.4" r="4.4"/><circle cx="360.6" cy="1466.9" r="4.4"/><circle cx="364.0" cy="1466.5" r="4.4"/><circle cx="365.8" cy="1465.4" r="4.4"/><circle cx="368.9" cy="1463.1" r="4.4"/><circle cx="372.8" cy="1459.5" r="4.4"/><circle cx="376.2" cy="1461.8" r="4.4"/><circle cx="379.0" cy="1459.6" r="4.4"/><circle cx="381.9" cy="1457.3" r="4.4"/><circle cx="385.1" cy="1456.7" r="4.4"/><circle cx="388.4" cy="1454.3" r="4.4"/><circle cx="391.6" cy="1455.0" r="4.4"/><circle cx="394.4" cy="1452.7" r="4.4"/><circle cx="398.0" cy="1449.3" r="4.4"/><circle cx="401.0" cy="1450.9" r="4.4"/><circle cx="403.9" cy="1449.6" r="4.4"/><circle cx="406.2" cy="1447.1" r="4.4"/><circle cx="410.3" cy="1446.7" r="4.4"/><circle cx="413.0" cy="1442.1" r="4.4"/><circle cx="416.4" cy="1444.8" r="4.4"/><circle cx="419.8" cy="1441.8" r="4.4"/><circle cx="420.8" cy="1441.3" r="4.4"/><circle cx="425.0" cy="1434.2" r="4.4"/><circle cx="428.5" cy="1434.3" r="4.4"/><circle cx="430.2" cy="1434.0" r="4.4"/><circle cx="435.3" cy="1432.8" r="4.4"/><circle cx="437.6" cy="1434.6" r="4.4"/><circle cx="441.7" cy="1430.0" r="4.4"/><circle cx="443.3" cy="1426.5" r="4.4"/><circle cx="446.0" cy="1427.6" r="4.4"/><circle cx="450.0" cy="1425.5" r="4.4"/><circle cx="453.5" cy="1422.4" r="4.4"/><circle cx="455.7" cy="1423.2" r="4.4"/><circle cx="459.3" cy="1422.2" r="4.4"/><circle cx="462.2" cy="1418.3" r="4.4"/><circle cx="465.2" cy="1415.7" r="4.4"/><circle cx="466.7" cy="1416.6" r="4.4"/><circle cx="471.0" cy="1414.7" r="4.4"/><circle cx="472.8" cy="1412.1" r="4.4"/><circle cx="476.7" cy="1409.8" r="4.4"/><circle cx="478.5" cy="1409.2" r="4.4"/><circle cx="484.1" cy="1408.9" r="4.4"/><circle cx="485.9" cy="1406.9" r="4.4"/><circle cx="490.1" cy="1401.2" r="4.4"/><circle cx="492.4" cy="1405.2" r="4.4"/><circle cx="496.1" cy="1405.9" r="4.4"/><circle cx="499.6" cy="1402.5" r="4.4"/><circle cx="502.0" cy="1402.2" r="4.4"/></g>
<rect x="160.20" y="1254.30" width="372.80" height="373.90" fill="none" stroke="#2a2a2a" stroke-width="2.0" />
<text x="150.70" y="1633.10" font-size="19" text-anchor="end" fill="#4a4a4a">0.0</text>
<line x1="160.20" y1="1537.80" x2="168.70" y2="1537.80" stroke="#2a2a2a" stroke-width="1.8" />
<line x1="533.00" y1="1537.80" x2="524.50" y2="1537.80" stroke="#2a2a2a" stroke-width="1.8" />
<text x="150.70" y="1544.40" font-size="19" text-anchor="end" fill="#4a4a4a">0.1</text>
<line x1="160.20" y1="1449.10" x2="168.70" y2="1449.10" stroke="#2a2a2a" stroke-width="1.8" />
<line x1="533.00" y1="1449.10" x2="524.50" y2="1449.10" stroke="#2a2a2a" stroke-width="1.8" />
<text x="150.70" y="1455.70" font-size="19" text-anchor="end" fill="#4a4a4a">0.2</text>
<line x1="160.20" y1="1360.40" x2="168.70" y2="1360.40" stroke="#2a2a2a" stroke-width="1.8" />
<line x1="533.00" y1="1360.40" x2="524.50" y2="1360.40" stroke="#2a2a2a" stroke-width="1.8" />
<text x="150.70" y="1367.00" font-size="19" text-anchor="end" fill="#4a4a4a">0.3</text>
<line x1="160.20" y1="1271.70" x2="168.70" y2="1271.70" stroke="#2a2a2a" stroke-width="1.8" />
<line x1="533.00" y1="1271.70" x2="524.50" y2="1271.70" stroke="#2a2a2a" stroke-width="1.8" />
<text x="150.70" y="1278.30" font-size="19" text-anchor="end" fill="#4a4a4a">0.4</text>
<line x1="204.80" y1="1254.30" x2="204.80" y2="1262.80" stroke="#2a2a2a" stroke-width="1.8" />
<line x1="204.80" y1="1628.20" x2="204.80" y2="1619.70" stroke="#2a2a2a" stroke-width="1.8" />
<text x="204.80" y="1654.30" font-size="18.5" text-anchor="middle" fill="#4a4a4a">6.8</text>
<line x1="293.70" y1="1254.30" x2="293.70" y2="1262.80" stroke="#2a2a2a" stroke-width="1.8" />
<line x1="293.70" y1="1628.20" x2="293.70" y2="1619.70" stroke="#2a2a2a" stroke-width="1.8" />
<text x="293.70" y="1654.30" font-size="18.5" text-anchor="middle" fill="#4a4a4a">6.9</text>
<line x1="382.60" y1="1254.30" x2="382.60" y2="1262.80" stroke="#2a2a2a" stroke-width="1.8" />
<line x1="382.60" y1="1628.20" x2="382.60" y2="1619.70" stroke="#2a2a2a" stroke-width="1.8" />
<text x="382.60" y="1654.30" font-size="18.5" text-anchor="middle" fill="#4a4a4a">7.0</text>
<line x1="471.50" y1="1254.30" x2="471.50" y2="1262.80" stroke="#2a2a2a" stroke-width="1.8" />
<line x1="471.50" y1="1628.20" x2="471.50" y2="1619.70" stroke="#2a2a2a" stroke-width="1.8" />
<text x="471.50" y="1654.30" font-size="18.5" text-anchor="middle" fill="#4a4a4a">7.1</text>
<text x="200.60" y="1300.50" font-size="23" fill="#111">12.6 µM</text>
<rect x="160.20" y="1125.90" width="372.80" height="107.00" fill="none" stroke="#2a2a2a" stroke-width="2.0" />
<line x1="160.20" y1="1206.00" x2="169.20" y2="1206.00" stroke="#2a2a2a" stroke-width="1.8" />
<line x1="533.00" y1="1206.00" x2="524.00" y2="1206.00" stroke="#2a2a2a" stroke-width="1.8" />
<line x1="160.20" y1="1179.30" x2="169.20" y2="1179.30" stroke="#2a2a2a" stroke-width="1.8" />
<line x1="533.00" y1="1179.30" x2="524.00" y2="1179.30" stroke="#2a2a2a" stroke-width="1.8" />
<line x1="160.20" y1="1152.60" x2="169.20" y2="1152.60" stroke="#2a2a2a" stroke-width="1.8" />
<line x1="533.00" y1="1152.60" x2="524.00" y2="1152.60" stroke="#2a2a2a" stroke-width="1.8" />
<line x1="204.80" y1="1125.90" x2="204.80" y2="1133.90" stroke="#2a2a2a" stroke-width="1.8" />
<line x1="204.80" y1="1232.90" x2="204.80" y2="1224.90" stroke="#2a2a2a" stroke-width="1.8" />
<line x1="293.70" y1="1125.90" x2="293.70" y2="1133.90" stroke="#2a2a2a" stroke-width="1.8" />
<line x1="293.70" y1="1232.90" x2="293.70" y2="1224.90" stroke="#2a2a2a" stroke-width="1.8" />
<line x1="382.60" y1="1125.90" x2="382.60" y2="1133.90" stroke="#2a2a2a" stroke-width="1.8" />
<line x1="382.60" y1="1232.90" x2="382.60" y2="1224.90" stroke="#2a2a2a" stroke-width="1.8" />
<line x1="471.50" y1="1125.90" x2="471.50" y2="1133.90" stroke="#2a2a2a" stroke-width="1.8" />
<line x1="471.50" y1="1232.90" x2="471.50" y2="1224.90" stroke="#2a2a2a" stroke-width="1.8" />
<polyline points="606.6,1626.1 608.2,1626.1 609.7,1626.1 611.3,1626.1 612.9,1626.0 614.4,1626.0 616.0,1626.0 617.6,1626.0 619.1,1626.0 620.7,1626.0 622.2,1625.9 623.8,1625.9 625.4,1625.9 626.9,1625.9 628.5,1625.9 630.1,1625.8 631.6,1625.8 633.2,1625.8 634.8,1625.8 636.3,1625.7 637.9,1625.7 639.4,1625.7 641.0,1625.6 642.6,1625.6 644.1,1625.6 645.7,1625.5 647.3,1625.5 648.8,1625.5 650.4,1625.4 652.0,1625.4 653.5,1625.4 655.1,1625.3 656.6,1625.3 658.2,1625.3 659.8,1625.2 661.3,1625.2 662.9,1625.1 664.5,1625.1 666.0,1625.0 667.6,1625.0 669.2,1624.9 670.7,1624.9 672.3,1624.8 673.8,1624.8 675.4,1624.7 677.0,1624.7 678.5,1624.6 680.1,1624.6 681.7,1624.5 683.2,1624.4 684.8,1624.4 686.3,1624.3 687.9,1624.2 689.5,1624.2 691.0,1624.1 692.6,1624.0 694.2,1624.0 695.7,1623.9 697.3,1623.8 698.9,1623.7 700.4,1623.6 702.0,1623.6 703.5,1623.5 705.1,1623.4 706.7,1623.3 708.2,1623.2 709.8,1623.1 711.4,1623.0 712.9,1622.9 714.5,1622.8 716.1,1622.7 717.6,1622.5 719.2,1622.4 720.7,1622.3 722.3,1622.2 723.9,1622.1 725.4,1621.9 727.0,1621.8 728.6,1621.7 730.1,1621.5 731.7,1621.4 733.3,1621.2 734.8,1621.1 736.4,1620.9 737.9,1620.8 739.5,1620.6 741.1,1620.4 742.6,1620.2 744.2,1620.1 745.8,1619.9 747.3,1619.7 748.9,1619.5 750.5,1619.3 752.0,1619.1 753.6,1618.9 755.1,1618.6 756.7,1618.4 758.3,1618.2 759.8,1617.9 761.4,1617.7 763.0,1617.4 764.5,1617.2 766.1,1616.9 767.7,1616.6 769.2,1616.3 770.8,1616.0 772.3,1615.7 773.9,1615.4 775.5,1615.1 777.0,1614.7 778.6,1614.4 780.2,1614.0 781.7,1613.7 783.3,1613.3 784.9,1612.9 786.4,1612.5 788.0,1612.1 789.5,1611.7 791.1,1611.2 792.7,1610.8 794.2,1610.3 795.8,1609.8 797.4,1609.3 798.9,1608.8 800.5,1608.3 802.1,1607.8 803.6,1607.2 805.2,1606.6 806.7,1606.0 808.3,1605.4 809.9,1604.8 811.4,1604.1 813.0,1603.4 814.6,1602.7 816.1,1602.0 817.7,1601.3 819.3,1600.5 820.8,1599.7 822.4,1598.9 823.9,1598.0 825.5,1597.1 827.1,1596.2 828.6,1595.3 830.2,1594.3 831.8,1593.3 833.3,1592.3 834.9,1591.3 836.5,1590.2 838.0,1589.0 839.6,1587.9 841.1,1586.6 842.7,1585.4 844.3,1584.1 845.8,1582.8 847.4,1581.4 849.0,1580.0 850.5,1578.5 852.1,1577.0 853.7,1575.4 855.2,1573.8 856.8,1572.1 858.3,1570.3 859.9,1568.5 861.5,1566.7 863.0,1564.8 864.6,1562.8 866.2,1560.7 867.7,1558.6 869.3,1556.4 870.9,1554.1 872.4,1551.8 874.0,1549.4 875.5,1546.9 877.1,1544.3 878.7,1541.6 880.2,1538.8 881.8,1536.0 883.4,1533.0 884.9,1530.0 886.5,1526.8 888.1,1523.5 889.6,1520.1 891.2,1516.6 892.7,1513.0 894.3,1509.3 895.9,1505.4 897.4,1501.4 899.0,1497.3 900.6,1493.1 902.1,1488.7 903.7,1484.1 905.2,1479.4 906.8,1474.5 908.4,1469.5 909.9,1464.3 911.5,1459.0 913.1,1453.4 914.6,1447.7 916.2,1441.8 917.8,1435.7 917.8,1435.7 918.0,1434.8 918.2,1433.9 918.4,1433.0 918.6,1432.1" fill="none" stroke="#138a13" stroke-width="1.3" stroke-linejoin="round" />
<g fill="none" stroke="#138a13" stroke-width="1.8"><circle cx="606.2" cy="1626.1" r="4.2"/><circle cx="609.9" cy="1628.4" r="4.2"/><circle cx="611.5" cy="1626.0" r="4.2"/><circle cx="614.4" cy="1627.6" r="4.2"/><circle cx="616.7" cy="1627.8" r="4.2"/><circle cx="618.5" cy="1625.8" r="4.2"/><circle cx="621.6" cy="1626.9" r="4.2"/><circle cx="625.2" cy="1624.1" r="4.2"/><circle cx="626.1" cy="1626.3" r="4.2"/><circle cx="628.8" cy="1624.0" r="4.2"/><circle cx="632.7" cy="1626.4" r="4.2"/><circle cx="634.8" cy="1625.2" r="4.2"/><circle cx="637.8" cy="1625.4" r="4.2"/><circle cx="640.4" cy="1624.6" r="4.2"/><circle cx="641.3" cy="1625.9" r="4.2"/><circle cx="644.0" cy="1626.4" r="4.2"/><circle cx="647.3" cy="1624.4" r="4.2"/><circle cx="649.7" cy="1625.0" r="4.2"/><circle cx="652.9" cy="1624.7" r="4.2"/><circle cx="654.3" cy="1626.8" r="4.2"/><circle cx="659.0" cy="1627.7" r="4.2"/><circle cx="659.8" cy="1625.5" r="4.2"/><circle cx="663.5" cy="1625.0" r="4.2"/><circle cx="664.0" cy="1625.2" r="4.2"/><circle cx="667.7" cy="1624.0" r="4.2"/><circle cx="668.5" cy="1623.2" r="4.2"/><circle cx="672.9" cy="1623.9" r="4.2"/><circle cx="674.8" cy="1625.0" r="4.2"/><circle cx="677.9" cy="1624.3" r="4.2"/><circle cx="680.4" cy="1623.5" r="4.2"/><circle cx="682.2" cy="1623.2" r="4.2"/><circle cx="685.9" cy="1624.3" r="4.2"/><circle cx="687.0" cy="1623.8" r="4.2"/><circle cx="689.9" cy="1625.0" r="4.2"/><circle cx="691.3" cy="1622.8" r="4.2"/><circle cx="694.8" cy="1627.0" r="4.2"/><circle cx="698.4" cy="1623.7" r="4.2"/><circle cx="700.8" cy="1626.1" r="4.2"/><circle cx="702.5" cy="1623.1" r="4.2"/><circle cx="706.2" cy="1624.0" r="4.2"/><circle cx="708.3" cy="1622.6" r="4.2"/><circle cx="711.9" cy="1625.1" r="4.2"/><circle cx="713.3" cy="1623.7" r="4.2"/><circle cx="713.8" cy="1623.5" r="4.2"/><circle cx="717.8" cy="1623.0" r="4.2"/><circle cx="721.0" cy="1621.9" r="4.2"/><circle cx="721.6" cy="1622.6" r="4.2"/><circle cx="724.9" cy="1621.5" r="4.2"/><circle cx="727.5" cy="1621.3" r="4.2"/><circle cx="728.7" cy="1622.9" r="4.2"/><circle cx="733.3" cy="1622.6" r="4.2"/><circle cx="737.2" cy="1621.0" r="4.2"/><circle cx="736.7" cy="1619.7" r="4.2"/><circle cx="739.7" cy="1619.9" r="4.2"/><circle cx="743.3" cy="1617.8" r="4.2"/><circle cx="746.0" cy="1618.1" r="4.2"/><circle cx="748.5" cy="1619.4" r="4.2"/><circle cx="750.5" cy="1619.1" r="4.2"/><circle cx="752.9" cy="1618.2" r="4.2"/><circle cx="754.5" cy="1618.5" r="4.2"/><circle cx="759.9" cy="1620.5" r="4.2"/><circle cx="762.0" cy="1618.6" r="4.2"/><circle cx="762.9" cy="1619.1" r="4.2"/><circle cx="765.9" cy="1616.8" r="4.2"/><circle cx="768.3" cy="1616.6" r="4.2"/><circle cx="770.7" cy="1615.9" r="4.2"/><circle cx="772.7" cy="1615.0" r="4.2"/><circle cx="777.9" cy="1614.9" r="4.2"/><circle cx="778.4" cy="1615.0" r="4.2"/><circle cx="781.7" cy="1612.5" r="4.2"/><circle cx="783.5" cy="1614.3" r="4.2"/><circle cx="786.4" cy="1612.7" r="4.2"/><circle cx="790.0" cy="1611.1" r="4.2"/><circle cx="791.3" cy="1610.6" r="4.2"/><circle cx="795.0" cy="1608.1" r="4.2"/><circle cx="795.8" cy="1609.0" r="4.2"/><circle cx="799.4" cy="1609.6" r="4.2"/><circle cx="802.5" cy="1606.1" r="4.2"/><circle cx="804.5" cy="1606.7" r="4.2"/><circle cx="805.9" cy="1606.8" r="4.2"/><circle cx="808.2" cy="1602.6" r="4.2"/><circle cx="811.2" cy="1602.3" r="4.2"/><circle cx="813.5" cy="1603.4" r="4.2"/><circle cx="816.8" cy="1603.7" r="4.2"/><circle cx="818.9" cy="1598.7" r="4.2"/><circle cx="821.0" cy="1598.2" r="4.2"/><circle cx="823.2" cy="1598.4" r="4.2"/><circle cx="826.2" cy="1594.1" r="4.2"/><circle cx="829.8" cy="1594.8" r="4.2"/><circle cx="832.0" cy="1593.5" r="4.2"/><circle cx="834.8" cy="1591.7" r="4.2"/><circle cx="837.8" cy="1590.4" r="4.2"/><circle cx="839.7" cy="1588.5" r="4.2"/><circle cx="840.7" cy="1585.9" r="4.2"/><circle cx="844.2" cy="1584.2" r="4.2"/><circle cx="845.8" cy="1583.8" r="4.2"/><circle cx="849.5" cy="1578.0" r="4.2"/><circle cx="850.6" cy="1576.7" r="4.2"/><circle cx="854.4" cy="1573.6" r="4.2"/><circle cx="857.1" cy="1571.0" r="4.2"/><circle cx="860.0" cy="1568.1" r="4.2"/><circle cx="862.1" cy="1567.1" r="4.2"/><circle cx="866.7" cy="1561.5" r="4.2"/><circle cx="866.8" cy="1558.4" r="4.2"/><circle cx="870.3" cy="1554.5" r="4.2"/><circle cx="871.8" cy="1552.1" r="4.2"/><circle cx="874.0" cy="1547.0" r="4.2"/><circle cx="876.9" cy="1541.5" r="4.2"/><circle cx="878.7" cy="1539.1" r="4.2"/><circle cx="882.5" cy="1534.7" r="4.2"/><circle cx="883.5" cy="1529.5" r="4.2"/><circle cx="888.0" cy="1525.6" r="4.2"/><circle cx="889.9" cy="1518.4" r="4.2"/><circle cx="893.0" cy="1513.0" r="4.2"/><circle cx="894.1" cy="1506.7" r="4.2"/><circle cx="898.7" cy="1501.5" r="4.2"/><circle cx="901.0" cy="1493.9" r="4.2"/><circle cx="903.3" cy="1486.6" r="4.2"/><circle cx="905.0" cy="1482.8" r="4.2"/><circle cx="908.3" cy="1471.3" r="4.2"/><circle cx="910.1" cy="1463.9" r="4.2"/><circle cx="913.7" cy="1454.1" r="4.2"/><circle cx="913.8" cy="1445.1" r="4.2"/><circle cx="917.8" cy="1435.8" r="4.2"/></g>
<polyline points="606.6,1599.5 608.2,1599.0 609.7,1598.5 611.3,1598.0 612.9,1597.5 614.4,1597.0 616.0,1596.5 617.6,1596.0 619.1,1595.5 620.7,1595.0 622.2,1594.5 623.8,1594.0 625.4,1593.5 626.9,1593.0 628.5,1592.5 630.1,1592.0 631.6,1591.5 633.2,1591.0 634.8,1590.5 636.3,1590.0 637.9,1589.4 639.4,1588.9 641.0,1588.4 642.6,1587.9 644.1,1587.4 645.7,1586.8 647.3,1586.3 648.8,1585.8 650.4,1585.3 652.0,1584.7 653.5,1584.2 655.1,1583.7 656.6,1583.2 658.2,1582.6 659.8,1582.1 661.3,1581.6 662.9,1581.0 664.5,1580.5 666.0,1579.9 667.6,1579.4 669.2,1578.8 670.7,1578.3 672.3,1577.7 673.8,1577.2 675.4,1576.6 677.0,1576.1 678.5,1575.5 680.1,1574.9 681.7,1574.4 683.2,1573.8 684.8,1573.2 686.3,1572.7 687.9,1572.1 689.5,1571.5 691.0,1570.9 692.6,1570.3 694.2,1569.7 695.7,1569.1 697.3,1568.5 698.9,1567.9 700.4,1567.3 702.0,1566.7 703.5,1566.1 705.1,1565.4 706.7,1564.8 708.2,1564.2 709.8,1563.5 711.4,1562.9 712.9,1562.2 714.5,1561.5 716.1,1560.9 717.6,1560.2 719.2,1559.5 720.7,1558.8 722.3,1558.1 723.9,1557.4 725.4,1556.7 727.0,1556.0 728.6,1555.3 730.1,1554.5 731.7,1553.8 733.3,1553.1 734.8,1552.3 736.4,1551.5 737.9,1550.7 739.5,1550.0 741.1,1549.2 742.6,1548.4 744.2,1547.5 745.8,1546.7 747.3,1545.9 748.9,1545.0 750.5,1544.2 752.0,1543.3 753.6,1542.4 755.1,1541.5 756.7,1540.6 758.3,1539.7 759.8,1538.7 761.4,1537.8 763.0,1536.8 764.5,1535.9 766.1,1534.9 767.7,1533.9 769.2,1532.8 770.8,1531.8 772.3,1530.8 773.9,1529.7 775.5,1528.6 777.0,1527.5 778.6,1526.4 780.2,1525.3 781.7,1524.1 783.3,1522.9 784.9,1521.7 786.4,1520.5 788.0,1519.3 789.5,1518.1 791.1,1516.8 792.7,1515.5 794.2,1514.2 795.8,1512.9 797.4,1511.5 798.9,1510.1 800.5,1508.7 802.1,1507.3 803.6,1505.9 805.2,1504.4 806.7,1502.9 808.3,1501.4 809.9,1499.9 811.4,1498.3 813.0,1496.7 814.6,1495.1 816.1,1493.4 817.7,1491.7 819.3,1490.0 820.8,1488.3 822.4,1486.5 823.9,1484.7 825.5,1482.9 827.1,1481.0 828.6,1479.2 830.2,1477.2 831.8,1475.3 833.3,1473.3 834.9,1471.2 836.5,1469.2 838.0,1467.1 839.6,1465.0 841.1,1462.8 842.7,1460.6 844.3,1458.3 845.8,1456.0 847.4,1453.7 849.0,1451.3 850.5,1448.9 852.1,1446.5 853.7,1444.0 855.2,1441.5 856.8,1438.9 858.3,1436.3 859.9,1433.6 861.5,1430.9 863.0,1428.1 864.6,1425.3 866.2,1422.5 867.7,1419.6 869.3,1416.6 870.9,1413.6 872.4,1410.5 874.0,1407.4 875.5,1404.3 877.1,1401.1 878.7,1397.8 880.2,1394.5 881.8,1391.1 883.4,1387.7 884.9,1384.2 886.5,1380.6 888.1,1377.0 889.6,1373.4 891.2,1369.7 892.7,1365.9 894.3,1362.0 895.9,1358.1 897.4,1354.2 899.0,1350.1 900.6,1346.0 902.1,1341.9 903.7,1337.7 905.2,1333.4 906.8,1329.0 908.4,1324.6 909.9,1320.1 911.5,1315.6 913.1,1311.0 914.6,1306.3 916.2,1301.5 917.8,1296.7" fill="none" stroke="#ff1010" stroke-width="1.3" stroke-linejoin="round" />
<g fill="none" stroke="#ff1010" stroke-width="1.8"><circle cx="607.7" cy="1599.9" r="4.2"/><circle cx="609.8" cy="1597.4" r="4.2"/><circle cx="612.4" cy="1600.4" r="4.2"/><circle cx="614.8" cy="1597.4" r="4.2"/><circle cx="616.8" cy="1598.5" r="4.2"/><circle cx="618.5" cy="1595.4" r="4.2"/><circle cx="622.2" cy="1595.6" r="4.2"/><circle cx="624.0" cy="1594.2" r="4.2"/><circle cx="626.6" cy="1593.2" r="4.2"/><circle cx="629.3" cy="1590.9" r="4.2"/><circle cx="631.9" cy="1592.5" r="4.2"/><circle cx="633.7" cy="1590.3" r="4.2"/><circle cx="637.5" cy="1588.5" r="4.2"/><circle cx="639.6" cy="1587.6" r="4.2"/><circle cx="642.9" cy="1590.8" r="4.2"/><circle cx="646.2" cy="1587.0" r="4.2"/><circle cx="647.7" cy="1586.5" r="4.2"/><circle cx="649.7" cy="1587.4" r="4.2"/><circle cx="651.1" cy="1586.0" r="4.2"/><circle cx="654.6" cy="1585.5" r="4.2"/><circle cx="657.4" cy="1582.2" r="4.2"/><circle cx="660.0" cy="1583.0" r="4.2"/><circle cx="662.3" cy="1581.8" r="4.2"/><circle cx="664.4" cy="1577.8" r="4.2"/><circle cx="668.0" cy="1580.3" r="4.2"/><circle cx="670.0" cy="1578.7" r="4.2"/><circle cx="673.2" cy="1577.2" r="4.2"/><circle cx="674.3" cy="1576.6" r="4.2"/><circle cx="678.4" cy="1574.2" r="4.2"/><circle cx="680.9" cy="1574.2" r="4.2"/><circle cx="681.6" cy="1575.6" r="4.2"/><circle cx="685.0" cy="1571.6" r="4.2"/><circle cx="687.3" cy="1573.3" r="4.2"/><circle cx="691.0" cy="1570.8" r="4.2"/><circle cx="692.9" cy="1571.2" r="4.2"/><circle cx="694.6" cy="1569.8" r="4.2"/><circle cx="697.7" cy="1567.7" r="4.2"/><circle cx="699.8" cy="1567.5" r="4.2"/><circle cx="702.8" cy="1565.7" r="4.2"/><circle cx="704.9" cy="1566.7" r="4.2"/><circle cx="708.0" cy="1565.4" r="4.2"/><circle cx="711.3" cy="1564.0" r="4.2"/><circle cx="714.7" cy="1561.2" r="4.2"/><circle cx="716.0" cy="1560.8" r="4.2"/><circle cx="719.4" cy="1562.1" r="4.2"/><circle cx="718.9" cy="1557.8" r="4.2"/><circle cx="723.5" cy="1558.8" r="4.2"/><circle cx="726.1" cy="1556.6" r="4.2"/><circle cx="728.4" cy="1556.3" r="4.2"/><circle cx="730.5" cy="1555.6" r="4.2"/><circle cx="731.3" cy="1553.9" r="4.2"/><circle cx="734.8" cy="1553.1" r="4.2"/><circle cx="738.0" cy="1549.6" r="4.2"/><circle cx="741.0" cy="1548.3" r="4.2"/><circle cx="742.5" cy="1546.2" r="4.2"/><circle cx="745.7" cy="1547.3" r="4.2"/><circle cx="749.1" cy="1545.2" r="4.2"/><circle cx="751.6" cy="1544.0" r="4.2"/><circle cx="753.3" cy="1543.2" r="4.2"/><circle cx="756.7" cy="1540.7" r="4.2"/><circle cx="758.2" cy="1539.4" r="4.2"/><circle cx="761.0" cy="1537.0" r="4.2"/><circle cx="764.3" cy="1536.1" r="4.2"/><circle cx="766.3" cy="1533.9" r="4.2"/><circle cx="768.8" cy="1533.8" r="4.2"/><circle cx="770.7" cy="1534.1" r="4.2"/><circle cx="773.9" cy="1532.1" r="4.2"/><circle cx="776.9" cy="1527.4" r="4.2"/><circle cx="778.3" cy="1526.9" r="4.2"/><circle cx="781.2" cy="1524.6" r="4.2"/><circle cx="783.5" cy="1520.5" r="4.2"/><circle cx="786.0" cy="1518.0" r="4.2"/><circle cx="789.0" cy="1517.8" r="4.2"/><circle cx="790.7" cy="1516.4" r="4.2"/><circle cx="794.0" cy="1512.8" r="4.2"/><circle cx="794.9" cy="1511.1" r="4.2"/><circle cx="797.2" cy="1509.0" r="4.2"/><circle cx="802.7" cy="1506.7" r="4.2"/><circle cx="804.4" cy="1504.0" r="4.2"/><circle cx="806.7" cy="1502.8" r="4.2"/><circle cx="808.9" cy="1501.4" r="4.2"/><circle cx="812.9" cy="1498.4" r="4.2"/><circle cx="814.1" cy="1494.4" r="4.2"/><circle cx="817.0" cy="1492.7" r="4.2"/><circle cx="819.8" cy="1490.1" r="4.2"/><circle cx="823.0" cy="1485.0" r="4.2"/><circle cx="823.9" cy="1485.5" r="4.2"/><circle cx="826.4" cy="1480.5" r="4.2"/><circle cx="829.0" cy="1476.8" r="4.2"/><circle cx="831.8" cy="1478.2" r="4.2"/><circle cx="835.2" cy="1470.7" r="4.2"/><circle cx="836.1" cy="1468.2" r="4.2"/><circle cx="840.1" cy="1464.3" r="4.2"/><circle cx="841.3" cy="1462.8" r="4.2"/><circle cx="845.1" cy="1457.7" r="4.2"/><circle cx="846.0" cy="1452.6" r="4.2"/><circle cx="848.9" cy="1447.9" r="4.2"/><circle cx="852.6" cy="1445.9" r="4.2"/><circle cx="854.9" cy="1444.8" r="4.2"/><circle cx="858.0" cy="1437.1" r="4.2"/><circle cx="860.3" cy="1435.6" r="4.2"/><circle cx="861.5" cy="1428.6" r="4.2"/><circle cx="864.5" cy="1423.3" r="4.2"/><circle cx="868.3" cy="1417.7" r="4.2"/><circle cx="868.8" cy="1415.5" r="4.2"/><circle cx="872.0" cy="1411.1" r="4.2"/><circle cx="875.0" cy="1405.6" r="4.2"/><circle cx="878.2" cy="1398.1" r="4.2"/><circle cx="879.8" cy="1394.5" r="4.2"/><circle cx="882.4" cy="1390.2" r="4.2"/><circle cx="884.1" cy="1383.5" r="4.2"/><circle cx="888.0" cy="1379.0" r="4.2"/><circle cx="889.4" cy="1375.1" r="4.2"/><circle cx="894.3" cy="1364.8" r="4.2"/><circle cx="895.2" cy="1363.3" r="4.2"/><circle cx="898.1" cy="1354.2" r="4.2"/><circle cx="899.9" cy="1346.7" r="4.2"/><circle cx="902.4" cy="1340.0" r="4.2"/><circle cx="905.7" cy="1333.3" r="4.2"/><circle cx="907.3" cy="1325.3" r="4.2"/><circle cx="910.1" cy="1318.4" r="4.2"/><circle cx="912.6" cy="1313.3" r="4.2"/><circle cx="915.5" cy="1305.1" r="4.2"/><circle cx="918.0" cy="1296.8" r="4.2"/></g>
<polyline points="606.6,1522.4 608.2,1521.8 609.7,1521.2 611.3,1520.6 612.9,1520.0 614.4,1519.4 616.0,1518.8 617.6,1518.2 619.1,1517.6 620.7,1517.0 622.2,1516.4 623.8,1515.8 625.4,1515.2 626.9,1514.6 628.5,1514.0 630.1,1513.4 631.6,1512.8 633.2,1512.2 634.8,1511.6 636.3,1511.0 637.9,1510.4 639.4,1509.8 641.0,1509.2 642.6,1508.6 644.1,1508.0 645.7,1507.4 647.3,1506.8 648.8,1506.2 650.4,1505.6 652.0,1505.0 653.5,1504.4 655.1,1503.8 656.6,1503.2 658.2,1502.6 659.8,1502.0 661.3,1501.4 662.9,1500.8 664.5,1500.2 666.0,1499.6 667.6,1499.0 669.2,1498.4 670.7,1497.8 672.3,1497.2 673.8,1496.6 675.4,1496.0 677.0,1495.4 678.5,1494.8 680.1,1494.2 681.7,1493.5 683.2,1492.9 684.8,1492.3 686.3,1491.7 687.9,1491.1 689.5,1490.5 691.0,1489.9 692.6,1489.3 694.2,1488.7 695.7,1488.1 697.3,1487.5 698.9,1486.9 700.4,1486.3 702.0,1485.7 703.5,1485.0 705.1,1484.4 706.7,1483.8 708.2,1483.2 709.8,1482.6 711.4,1482.0 712.9,1481.4 714.5,1480.7 716.1,1480.1 717.6,1479.5 719.2,1478.9 720.7,1478.3 722.3,1477.7 723.9,1477.0 725.4,1476.4 727.0,1475.8 728.6,1475.2 730.1,1474.5 731.7,1473.9 733.3,1473.3 734.8,1472.6 736.4,1472.0 737.9,1471.4 739.5,1470.7 741.1,1470.1 742.6,1469.5 744.2,1468.8 745.8,1468.2 747.3,1467.6 748.9,1466.9 750.5,1466.3 752.0,1465.6 753.6,1465.0 755.1,1464.3 756.7,1463.7 758.3,1463.0 759.8,1462.4 761.4,1461.7 763.0,1461.0 764.5,1460.4 766.1,1459.7 767.7,1459.0 769.2,1458.4 770.8,1457.7 772.3,1457.0 773.9,1456.3 775.5,1455.7 777.0,1455.0 778.6,1454.3 780.2,1453.6 781.7,1452.9 783.3,1452.2 784.9,1451.5 786.4,1450.8 788.0,1450.1 789.5,1449.4 791.1,1448.7 792.7,1448.0 794.2,1447.3 795.8,1446.5 797.4,1445.8 798.9,1445.1 800.5,1444.4 802.1,1443.6 803.6,1442.9 805.2,1442.1 806.7,1441.4 808.3,1440.6 809.9,1439.9 811.4,1439.1 813.0,1438.4 814.6,1437.6 816.1,1436.8 817.7,1436.0 819.3,1435.3 820.8,1434.5 822.4,1433.7 823.9,1432.9 825.5,1432.1 827.1,1431.3 828.6,1430.5 830.2,1429.7 831.8,1428.8 833.3,1428.0 834.9,1427.2 836.5,1426.3 838.0,1425.5 839.6,1424.6 841.1,1423.8 842.7,1422.9 844.3,1422.1 845.8,1421.2 847.4,1420.3 849.0,1419.4 850.5,1418.5 852.1,1417.6 853.7,1416.7 855.2,1415.8 856.8,1414.9 858.3,1414.0 859.9,1413.0 861.5,1412.1 863.0,1411.1 864.6,1410.2 866.2,1409.2 867.7,1408.2 869.3,1407.2 870.9,1406.3 872.4,1405.3 874.0,1404.2 875.5,1403.2 877.1,1402.2 878.7,1401.2 880.2,1400.1 881.8,1399.1 883.4,1398.0 884.9,1397.0 886.5,1395.9 888.1,1394.8 889.6,1393.7 891.2,1392.6 892.7,1391.5 894.3,1390.3 895.9,1389.2 897.4,1388.0 899.0,1386.9 900.6,1385.7 902.1,1384.5 903.7,1383.3 905.2,1382.1 906.8,1380.9 908.4,1379.7 909.9,1378.4 911.5,1377.2 913.1,1375.9 914.6,1374.6 916.2,1373.3 917.8,1372.0" fill="none" stroke="#1010ff" stroke-width="1.3" stroke-linejoin="round" />
<g fill="none" stroke="#1010ff" stroke-width="1.8"><circle cx="606.5" cy="1522.0" r="4.2"/><circle cx="609.7" cy="1520.1" r="4.2"/><circle cx="612.7" cy="1520.5" r="4.2"/><circle cx="613.6" cy="1518.9" r="4.2"/><circle cx="616.2" cy="1518.7" r="4.2"/><circle cx="618.7" cy="1518.9" r="4.2"/><circle cx="621.2" cy="1513.8" r="4.2"/><circle cx="623.7" cy="1513.2" r="4.2"/><circle cx="626.8" cy="1515.9" r="4.2"/><circle cx="629.9" cy="1512.1" r="4.2"/><circle cx="631.3" cy="1514.8" r="4.2"/><circle cx="634.7" cy="1511.7" r="4.2"/><circle cx="637.8" cy="1513.7" r="4.2"/><circle cx="640.5" cy="1509.9" r="4.2"/><circle cx="642.3" cy="1509.5" r="4.2"/><circle cx="644.1" cy="1506.6" r="4.2"/><circle cx="647.1" cy="1505.7" r="4.2"/><circle cx="649.6" cy="1506.0" r="4.2"/><circle cx="654.0" cy="1503.9" r="4.2"/><circle cx="654.6" cy="1503.7" r="4.2"/><circle cx="657.6" cy="1504.2" r="4.2"/><circle cx="659.3" cy="1501.0" r="4.2"/><circle cx="660.9" cy="1499.9" r="4.2"/><circle cx="665.2" cy="1500.1" r="4.2"/><circle cx="666.5" cy="1498.6" r="4.2"/><circle cx="669.9" cy="1498.7" r="4.2"/><circle cx="671.9" cy="1496.8" r="4.2"/><circle cx="673.5" cy="1494.8" r="4.2"/><circle cx="678.7" cy="1492.6" r="4.2"/><circle cx="679.7" cy="1494.5" r="4.2"/><circle cx="682.2" cy="1492.3" r="4.2"/><circle cx="685.0" cy="1492.2" r="4.2"/><circle cx="687.5" cy="1489.0" r="4.2"/><circle cx="690.0" cy="1489.3" r="4.2"/><circle cx="692.2" cy="1489.6" r="4.2"/><circle cx="695.7" cy="1489.4" r="4.2"/><circle cx="697.3" cy="1488.4" r="4.2"/><circle cx="701.1" cy="1487.7" r="4.2"/><circle cx="703.8" cy="1485.2" r="4.2"/><circle cx="705.1" cy="1485.4" r="4.2"/><circle cx="706.7" cy="1483.6" r="4.2"/><circle cx="709.9" cy="1481.9" r="4.2"/><circle cx="711.5" cy="1480.3" r="4.2"/><circle cx="715.4" cy="1481.5" r="4.2"/><circle cx="718.7" cy="1479.3" r="4.2"/><circle cx="720.3" cy="1477.4" r="4.2"/><circle cx="723.3" cy="1477.1" r="4.2"/><circle cx="726.0" cy="1478.5" r="4.2"/><circle cx="728.0" cy="1473.6" r="4.2"/><circle cx="729.9" cy="1472.6" r="4.2"/><circle cx="732.1" cy="1474.9" r="4.2"/><circle cx="735.8" cy="1470.5" r="4.2"/><circle cx="738.7" cy="1472.8" r="4.2"/><circle cx="740.4" cy="1469.5" r="4.2"/><circle cx="742.9" cy="1469.6" r="4.2"/><circle cx="746.3" cy="1469.6" r="4.2"/><circle cx="749.2" cy="1468.6" r="4.2"/><circle cx="751.9" cy="1466.9" r="4.2"/><circle cx="752.1" cy="1464.9" r="4.2"/><circle cx="756.1" cy="1463.6" r="4.2"/><circle cx="759.1" cy="1462.5" r="4.2"/><circle cx="760.2" cy="1463.6" r="4.2"/><circle cx="764.0" cy="1461.1" r="4.2"/><circle cx="766.7" cy="1461.0" r="4.2"/><circle cx="768.8" cy="1455.7" r="4.2"/><circle cx="770.5" cy="1457.0" r="4.2"/><circle cx="772.8" cy="1456.7" r="4.2"/><circle cx="777.0" cy="1454.8" r="4.2"/><circle cx="777.7" cy="1456.7" r="4.2"/><circle cx="780.8" cy="1451.7" r="4.2"/><circle cx="783.9" cy="1452.5" r="4.2"/><circle cx="785.7" cy="1451.8" r="4.2"/><circle cx="788.4" cy="1448.7" r="4.2"/><circle cx="791.4" cy="1449.5" r="4.2"/><circle cx="793.3" cy="1447.9" r="4.2"/><circle cx="796.3" cy="1449.7" r="4.2"/><circle cx="798.3" cy="1446.8" r="4.2"/><circle cx="801.4" cy="1443.8" r="4.2"/><circle cx="804.5" cy="1443.8" r="4.2"/><circle cx="807.5" cy="1441.9" r="4.2"/><circle cx="808.5" cy="1439.7" r="4.2"/><circle cx="811.9" cy="1439.8" r="4.2"/><circle cx="815.2" cy="1438.4" r="4.2"/><circle cx="817.4" cy="1438.4" r="4.2"/><circle cx="819.2" cy="1433.6" r="4.2"/><circle cx="820.7" cy="1432.3" r="4.2"/><circle cx="825.4" cy="1431.8" r="4.2"/><circle cx="827.7" cy="1432.2" r="4.2"/><circle cx="830.6" cy="1431.4" r="4.2"/><circle cx="831.7" cy="1428.6" r="4.2"/><circle cx="834.3" cy="1427.7" r="4.2"/><circle cx="836.4" cy="1426.1" r="4.2"/><circle cx="840.6" cy="1422.7" r="4.2"/><circle cx="842.1" cy="1422.3" r="4.2"/><circle cx="844.5" cy="1423.0" r="4.2"/><circle cx="846.9" cy="1421.5" r="4.2"/><circle cx="848.2" cy="1420.5" r="4.2"/><circle cx="851.5" cy="1418.4" r="4.2"/><circle cx="854.7" cy="1413.1" r="4.2"/><circle cx="856.4" cy="1415.0" r="4.2"/><circle cx="860.8" cy="1413.6" r="4.2"/><circle cx="862.3" cy="1410.0" r="4.2"/><circle cx="865.8" cy="1412.3" r="4.2"/><circle cx="867.2" cy="1408.3" r="4.2"/><circle cx="868.4" cy="1408.0" r="4.2"/><circle cx="874.4" cy="1406.2" r="4.2"/><circle cx="875.8" cy="1404.4" r="4.2"/><circle cx="876.5" cy="1403.7" r="4.2"/><circle cx="878.8" cy="1400.2" r="4.2"/><circle cx="882.6" cy="1399.8" r="4.2"/><circle cx="885.2" cy="1397.5" r="4.2"/><circle cx="886.8" cy="1393.7" r="4.2"/><circle cx="890.0" cy="1392.6" r="4.2"/><circle cx="891.4" cy="1390.1" r="4.2"/><circle cx="894.6" cy="1387.6" r="4.2"/><circle cx="896.4" cy="1386.0" r="4.2"/><circle cx="900.2" cy="1386.6" r="4.2"/><circle cx="904.2" cy="1382.4" r="4.2"/><circle cx="904.6" cy="1383.3" r="4.2"/><circle cx="907.5" cy="1379.8" r="4.2"/><circle cx="911.5" cy="1377.8" r="4.2"/><circle cx="911.8" cy="1374.6" r="4.2"/><circle cx="915.5" cy="1374.5" r="4.2"/><circle cx="916.7" cy="1370.8" r="4.2"/></g>
<rect x="586.80" y="1254.30" width="374.20" height="374.50" fill="none" stroke="#2a2a2a" stroke-width="2.0" />
<text x="577.30" y="1633.20" font-size="19" text-anchor="end" fill="#4a4a4a">0.0</text>
<line x1="586.80" y1="1527.10" x2="595.30" y2="1527.10" stroke="#2a2a2a" stroke-width="1.8" />
<line x1="961.00" y1="1527.10" x2="952.50" y2="1527.10" stroke="#2a2a2a" stroke-width="1.8" />
<text x="577.30" y="1533.70" font-size="19" text-anchor="end" fill="#4a4a4a">0.2</text>
<line x1="586.80" y1="1427.60" x2="595.30" y2="1427.60" stroke="#2a2a2a" stroke-width="1.8" />
<line x1="961.00" y1="1427.60" x2="952.50" y2="1427.60" stroke="#2a2a2a" stroke-width="1.8" />
<text x="577.30" y="1434.20" font-size="19" text-anchor="end" fill="#4a4a4a">0.4</text>
<line x1="586.80" y1="1328.10" x2="595.30" y2="1328.10" stroke="#2a2a2a" stroke-width="1.8" />
<line x1="961.00" y1="1328.10" x2="952.50" y2="1328.10" stroke="#2a2a2a" stroke-width="1.8" />
<text x="577.30" y="1334.70" font-size="19" text-anchor="end" fill="#4a4a4a">0.6</text>
<line x1="631.50" y1="1254.30" x2="631.50" y2="1262.80" stroke="#2a2a2a" stroke-width="1.8" />
<line x1="631.50" y1="1628.80" x2="631.50" y2="1620.30" stroke="#2a2a2a" stroke-width="1.8" />
<text x="631.50" y="1654.30" font-size="18.5" text-anchor="middle" fill="#4a4a4a">6.8</text>
<line x1="720.40" y1="1254.30" x2="720.40" y2="1262.80" stroke="#2a2a2a" stroke-width="1.8" />
<line x1="720.40" y1="1628.80" x2="720.40" y2="1620.30" stroke="#2a2a2a" stroke-width="1.8" />
<text x="720.40" y="1654.30" font-size="18.5" text-anchor="middle" fill="#4a4a4a">6.9</text>
<line x1="809.30" y1="1254.30" x2="809.30" y2="1262.80" stroke="#2a2a2a" stroke-width="1.8" />
<line x1="809.30" y1="1628.80" x2="809.30" y2="1620.30" stroke="#2a2a2a" stroke-width="1.8" />
<text x="809.30" y="1654.30" font-size="18.5" text-anchor="middle" fill="#4a4a4a">7.0</text>
<line x1="898.20" y1="1254.30" x2="898.20" y2="1262.80" stroke="#2a2a2a" stroke-width="1.8" />
<line x1="898.20" y1="1628.80" x2="898.20" y2="1620.30" stroke="#2a2a2a" stroke-width="1.8" />
<text x="898.20" y="1654.30" font-size="18.5" text-anchor="middle" fill="#4a4a4a">7.1</text>
<text x="629.00" y="1300.50" font-size="23" fill="#111">25 µM</text>
<rect x="586.80" y="1125.90" width="374.20" height="107.00" fill="none" stroke="#2a2a2a" stroke-width="2.0" />
<line x1="586.80" y1="1206.00" x2="595.80" y2="1206.00" stroke="#2a2a2a" stroke-width="1.8" />
<line x1="961.00" y1="1206.00" x2="952.00" y2="1206.00" stroke="#2a2a2a" stroke-width="1.8" />
<line x1="586.80" y1="1179.30" x2="595.80" y2="1179.30" stroke="#2a2a2a" stroke-width="1.8" />
<line x1="961.00" y1="1179.30" x2="952.00" y2="1179.30" stroke="#2a2a2a" stroke-width="1.8" />
<line x1="586.80" y1="1152.60" x2="595.80" y2="1152.60" stroke="#2a2a2a" stroke-width="1.8" />
<line x1="961.00" y1="1152.60" x2="952.00" y2="1152.60" stroke="#2a2a2a" stroke-width="1.8" />
<line x1="631.50" y1="1125.90" x2="631.50" y2="1133.90" stroke="#2a2a2a" stroke-width="1.8" />
<line x1="631.50" y1="1232.90" x2="631.50" y2="1224.90" stroke="#2a2a2a" stroke-width="1.8" />
<line x1="720.40" y1="1125.90" x2="720.40" y2="1133.90" stroke="#2a2a2a" stroke-width="1.8" />
<line x1="720.40" y1="1232.90" x2="720.40" y2="1224.90" stroke="#2a2a2a" stroke-width="1.8" />
<line x1="809.30" y1="1125.90" x2="809.30" y2="1133.90" stroke="#2a2a2a" stroke-width="1.8" />
<line x1="809.30" y1="1232.90" x2="809.30" y2="1224.90" stroke="#2a2a2a" stroke-width="1.8" />
<line x1="898.20" y1="1125.90" x2="898.20" y2="1133.90" stroke="#2a2a2a" stroke-width="1.8" />
<line x1="898.20" y1="1232.90" x2="898.20" y2="1224.90" stroke="#2a2a2a" stroke-width="1.8" />
<polyline points="1052.7,1624.0 1054.2,1624.0 1055.8,1624.0 1057.3,1624.0 1058.9,1624.0 1060.5,1624.0 1062.0,1624.0 1063.6,1624.0 1065.2,1623.9 1066.7,1623.9 1068.3,1623.9 1069.8,1623.9 1071.4,1623.9 1073.0,1623.9 1074.5,1623.9 1076.1,1623.8 1077.7,1623.8 1079.2,1623.8 1080.8,1623.8 1082.3,1623.8 1083.9,1623.8 1085.5,1623.7 1087.0,1623.7 1088.6,1623.7 1090.2,1623.7 1091.7,1623.6 1093.3,1623.6 1094.8,1623.6 1096.4,1623.5 1098.0,1623.5 1099.5,1623.5 1101.1,1623.4 1102.7,1623.4 1104.2,1623.4 1105.8,1623.3 1107.3,1623.3 1108.9,1623.3 1110.5,1623.2 1112.0,1623.2 1113.6,1623.1 1115.2,1623.1 1116.7,1623.1 1118.3,1623.0 1119.8,1623.0 1121.4,1622.9 1123.0,1622.9 1124.5,1622.8 1126.1,1622.8 1127.7,1622.7 1129.2,1622.6 1130.8,1622.6 1132.3,1622.5 1133.9,1622.5 1135.5,1622.4 1137.0,1622.3 1138.6,1622.3 1140.2,1622.2 1141.7,1622.1 1143.3,1622.1 1144.8,1622.0 1146.4,1621.9 1148.0,1621.8 1149.5,1621.8 1151.1,1621.7 1152.7,1621.6 1154.2,1621.5 1155.8,1621.4 1157.3,1621.3 1158.9,1621.3 1160.5,1621.2 1162.0,1621.1 1163.6,1621.0 1165.2,1620.9 1166.7,1620.8 1168.3,1620.7 1169.8,1620.5 1171.4,1620.4 1173.0,1620.3 1174.5,1620.2 1176.1,1620.1 1177.7,1620.0 1179.2,1619.8 1180.8,1619.7 1182.4,1619.6 1183.9,1619.4 1185.5,1619.3 1187.0,1619.2 1188.6,1619.0 1190.2,1618.9 1191.7,1618.7 1193.3,1618.6 1194.9,1618.4 1196.4,1618.3 1198.0,1618.1 1199.5,1617.9 1201.1,1617.7 1202.7,1617.6 1204.2,1617.4 1205.8,1617.2 1207.4,1617.0 1208.9,1616.8 1210.5,1616.6 1212.0,1616.4 1213.6,1616.2 1215.2,1616.0 1216.7,1615.8 1218.3,1615.5 1219.9,1615.3 1221.4,1615.1 1223.0,1614.8 1224.5,1614.6 1226.1,1614.3 1227.7,1614.1 1229.2,1613.8 1230.8,1613.5 1232.4,1613.2 1233.9,1612.9 1235.5,1612.7 1237.0,1612.4 1238.6,1612.0 1240.2,1611.7 1241.7,1611.4 1243.3,1611.1 1244.9,1610.7 1246.4,1610.4 1248.0,1610.0 1249.5,1609.7 1251.1,1609.3 1252.7,1608.9 1254.2,1608.5 1255.8,1608.1 1257.4,1607.7 1258.9,1607.3 1260.5,1606.9 1262.0,1606.4 1263.6,1606.0 1265.2,1605.5 1266.7,1605.0 1268.3,1604.5 1269.9,1604.0 1271.4,1603.5 1273.0,1603.0 1274.5,1602.5 1276.1,1601.9 1277.7,1601.3 1279.2,1600.8 1280.8,1600.2 1282.4,1599.5 1283.9,1598.9 1285.5,1598.3 1287.0,1597.6 1288.6,1596.9 1290.2,1596.2 1291.7,1595.5 1293.3,1594.7 1294.9,1594.0 1296.4,1593.2 1298.0,1592.4 1299.5,1591.6 1301.1,1590.7 1302.7,1589.8 1304.2,1588.9 1305.8,1588.0 1307.4,1587.1 1308.9,1586.1 1310.5,1585.1 1312.0,1584.0 1313.6,1583.0 1315.2,1581.9 1316.7,1580.7 1318.3,1579.6 1319.9,1578.4 1321.4,1577.1 1323.0,1575.8 1324.5,1574.5 1326.1,1573.1 1327.7,1571.7 1329.2,1570.3 1330.8,1568.8 1332.4,1567.3 1333.9,1565.7 1335.5,1564.0 1337.0,1562.3 1338.6,1560.6 1340.2,1558.7 1341.7,1556.9 1343.3,1554.9 1344.9,1552.9 1346.4,1550.8 1348.0,1548.7 1349.5,1546.4 1351.1,1544.1 1352.7,1541.7 1354.2,1539.3 1355.8,1536.7 1357.4,1534.0 1358.9,1531.3 1360.5,1528.4 1362.1,1525.4 1363.6,1522.4 1363.6,1522.4 1364.3,1521.0 1364.9,1519.6 1365.6,1518.2 1366.3,1516.8" fill="none" stroke="#138a13" stroke-width="1.3" stroke-linejoin="round" />
<g fill="none" stroke="#138a13" stroke-width="1.5"><circle cx="1053.1" cy="1624.5" r="3.8"/><circle cx="1054.1" cy="1624.5" r="3.8"/><circle cx="1057.1" cy="1622.6" r="3.8"/><circle cx="1058.3" cy="1624.3" r="3.8"/><circle cx="1060.1" cy="1622.3" r="3.8"/><circle cx="1062.3" cy="1624.6" r="3.8"/><circle cx="1065.8" cy="1622.2" r="3.8"/><circle cx="1068.6" cy="1623.0" r="3.8"/><circle cx="1069.3" cy="1624.9" r="3.8"/><circle cx="1071.3" cy="1624.0" r="3.8"/><circle cx="1071.5" cy="1624.4" r="3.8"/><circle cx="1073.9" cy="1621.8" r="3.8"/><circle cx="1078.7" cy="1624.4" r="3.8"/><circle cx="1079.9" cy="1623.1" r="3.8"/><circle cx="1081.6" cy="1625.1" r="3.8"/><circle cx="1083.6" cy="1623.8" r="3.8"/><circle cx="1083.4" cy="1623.6" r="3.8"/><circle cx="1084.6" cy="1622.4" r="3.8"/><circle cx="1088.4" cy="1622.9" r="3.8"/><circle cx="1090.2" cy="1623.6" r="3.8"/><circle cx="1093.8" cy="1624.7" r="3.8"/><circle cx="1094.2" cy="1624.6" r="3.8"/><circle cx="1095.6" cy="1623.3" r="3.8"/><circle cx="1098.9" cy="1622.5" r="3.8"/><circle cx="1100.0" cy="1622.4" r="3.8"/><circle cx="1102.3" cy="1624.7" r="3.8"/><circle cx="1103.5" cy="1623.6" r="3.8"/><circle cx="1105.4" cy="1622.4" r="3.8"/><circle cx="1107.1" cy="1624.5" r="3.8"/><circle cx="1112.0" cy="1623.6" r="3.8"/><circle cx="1111.5" cy="1623.7" r="3.8"/><circle cx="1113.8" cy="1623.8" r="3.8"/><circle cx="1116.3" cy="1623.3" r="3.8"/><circle cx="1118.5" cy="1622.6" r="3.8"/><circle cx="1119.7" cy="1621.6" r="3.8"/><circle cx="1121.6" cy="1621.8" r="3.8"/><circle cx="1123.8" cy="1622.1" r="3.8"/><circle cx="1126.0" cy="1623.1" r="3.8"/><circle cx="1126.8" cy="1622.0" r="3.8"/><circle cx="1129.1" cy="1623.2" r="3.8"/><circle cx="1133.2" cy="1623.2" r="3.8"/><circle cx="1133.6" cy="1623.6" r="3.8"/><circle cx="1134.6" cy="1623.6" r="3.8"/><circle cx="1137.3" cy="1620.1" r="3.8"/><circle cx="1141.9" cy="1623.5" r="3.8"/><circle cx="1141.0" cy="1622.3" r="3.8"/><circle cx="1143.6" cy="1622.1" r="3.8"/><circle cx="1144.6" cy="1621.4" r="3.8"/><circle cx="1148.1" cy="1622.0" r="3.8"/><circle cx="1150.7" cy="1621.8" r="3.8"/><circle cx="1153.6" cy="1621.1" r="3.8"/><circle cx="1153.9" cy="1620.0" r="3.8"/><circle cx="1154.6" cy="1622.5" r="3.8"/><circle cx="1156.9" cy="1621.8" r="3.8"/><circle cx="1159.6" cy="1620.4" r="3.8"/><circle cx="1161.3" cy="1620.7" r="3.8"/><circle cx="1163.2" cy="1621.6" r="3.8"/><circle cx="1166.1" cy="1620.4" r="3.8"/><circle cx="1166.8" cy="1620.9" r="3.8"/><circle cx="1169.4" cy="1621.4" r="3.8"/><circle cx="1173.6" cy="1621.1" r="3.8"/><circle cx="1173.4" cy="1620.2" r="3.8"/><circle cx="1174.8" cy="1619.4" r="3.8"/><circle cx="1176.6" cy="1619.7" r="3.8"/><circle cx="1179.1" cy="1620.4" r="3.8"/><circle cx="1181.1" cy="1619.5" r="3.8"/><circle cx="1182.4" cy="1620.8" r="3.8"/><circle cx="1185.8" cy="1620.8" r="3.8"/><circle cx="1188.0" cy="1620.3" r="3.8"/><circle cx="1189.1" cy="1619.5" r="3.8"/><circle cx="1193.5" cy="1617.8" r="3.8"/><circle cx="1194.2" cy="1619.9" r="3.8"/><circle cx="1195.6" cy="1619.0" r="3.8"/><circle cx="1198.3" cy="1617.6" r="3.8"/><circle cx="1199.6" cy="1617.2" r="3.8"/><circle cx="1200.6" cy="1617.2" r="3.8"/><circle cx="1203.1" cy="1617.6" r="3.8"/><circle cx="1205.5" cy="1616.1" r="3.8"/><circle cx="1208.8" cy="1618.0" r="3.8"/><circle cx="1209.7" cy="1616.5" r="3.8"/><circle cx="1211.0" cy="1617.0" r="3.8"/><circle cx="1213.4" cy="1614.9" r="3.8"/><circle cx="1215.7" cy="1618.4" r="3.8"/><circle cx="1215.5" cy="1616.5" r="3.8"/><circle cx="1219.3" cy="1615.3" r="3.8"/><circle cx="1222.1" cy="1614.1" r="3.8"/><circle cx="1223.1" cy="1616.0" r="3.8"/><circle cx="1224.8" cy="1614.2" r="3.8"/><circle cx="1227.0" cy="1613.8" r="3.8"/><circle cx="1230.2" cy="1613.1" r="3.8"/><circle cx="1231.6" cy="1612.5" r="3.8"/><circle cx="1233.4" cy="1613.1" r="3.8"/><circle cx="1232.7" cy="1612.8" r="3.8"/><circle cx="1236.0" cy="1612.0" r="3.8"/><circle cx="1240.1" cy="1611.1" r="3.8"/><circle cx="1239.9" cy="1612.8" r="3.8"/><circle cx="1242.9" cy="1612.5" r="3.8"/><circle cx="1245.0" cy="1610.0" r="3.8"/><circle cx="1246.7" cy="1611.3" r="3.8"/><circle cx="1249.5" cy="1609.9" r="3.8"/><circle cx="1250.8" cy="1609.3" r="3.8"/><circle cx="1252.2" cy="1610.5" r="3.8"/><circle cx="1254.7" cy="1607.5" r="3.8"/><circle cx="1256.3" cy="1608.5" r="3.8"/><circle cx="1259.2" cy="1607.3" r="3.8"/><circle cx="1260.1" cy="1606.9" r="3.8"/><circle cx="1261.2" cy="1605.2" r="3.8"/><circle cx="1265.2" cy="1605.3" r="3.8"/><circle cx="1266.9" cy="1606.1" r="3.8"/><circle cx="1269.1" cy="1604.5" r="3.8"/><circle cx="1272.3" cy="1604.4" r="3.8"/><circle cx="1272.2" cy="1603.8" r="3.8"/><circle cx="1274.8" cy="1601.8" r="3.8"/><circle cx="1276.5" cy="1601.6" r="3.8"/><circle cx="1276.8" cy="1600.9" r="3.8"/><circle cx="1280.2" cy="1599.9" r="3.8"/><circle cx="1281.1" cy="1599.2" r="3.8"/><circle cx="1284.4" cy="1598.8" r="3.8"/><circle cx="1285.4" cy="1598.4" r="3.8"/><circle cx="1287.3" cy="1596.8" r="3.8"/><circle cx="1291.4" cy="1595.6" r="3.8"/><circle cx="1291.9" cy="1596.1" r="3.8"/><circle cx="1294.0" cy="1594.0" r="3.8"/><circle cx="1296.5" cy="1594.1" r="3.8"/><circle cx="1296.4" cy="1591.6" r="3.8"/><circle cx="1299.4" cy="1590.3" r="3.8"/><circle cx="1301.5" cy="1589.4" r="3.8"/><circle cx="1304.4" cy="1588.2" r="3.8"/><circle cx="1306.3" cy="1588.1" r="3.8"/><circle cx="1307.6" cy="1586.7" r="3.8"/><circle cx="1311.5" cy="1585.6" r="3.8"/><circle cx="1311.6" cy="1583.9" r="3.8"/><circle cx="1313.3" cy="1582.8" r="3.8"/><circle cx="1316.8" cy="1580.5" r="3.8"/><circle cx="1317.9" cy="1580.6" r="3.8"/><circle cx="1319.6" cy="1578.4" r="3.8"/><circle cx="1321.2" cy="1576.0" r="3.8"/><circle cx="1323.6" cy="1576.7" r="3.8"/><circle cx="1325.7" cy="1572.8" r="3.8"/><circle cx="1327.5" cy="1571.3" r="3.8"/><circle cx="1330.5" cy="1569.8" r="3.8"/><circle cx="1333.6" cy="1567.9" r="3.8"/><circle cx="1335.1" cy="1565.9" r="3.8"/><circle cx="1336.4" cy="1562.4" r="3.8"/><circle cx="1337.8" cy="1561.3" r="3.8"/><circle cx="1339.7" cy="1557.4" r="3.8"/><circle cx="1342.5" cy="1556.4" r="3.8"/><circle cx="1343.5" cy="1554.1" r="3.8"/><circle cx="1345.6" cy="1552.0" r="3.8"/><circle cx="1346.8" cy="1548.2" r="3.8"/><circle cx="1350.0" cy="1546.3" r="3.8"/><circle cx="1351.4" cy="1542.7" r="3.8"/><circle cx="1353.0" cy="1540.1" r="3.8"/><circle cx="1356.6" cy="1536.0" r="3.8"/><circle cx="1358.9" cy="1534.2" r="3.8"/><circle cx="1359.3" cy="1530.6" r="3.8"/><circle cx="1360.5" cy="1524.9" r="3.8"/><circle cx="1362.6" cy="1522.0" r="3.8"/></g>
<polyline points="1052.7,1602.4 1054.2,1601.9 1055.8,1601.5 1057.3,1601.0 1058.9,1600.6 1060.5,1600.1 1062.0,1599.7 1063.6,1599.2 1065.2,1598.8 1066.7,1598.3 1068.3,1597.9 1069.8,1597.5 1071.4,1597.0 1073.0,1596.6 1074.5,1596.1 1076.1,1595.7 1077.7,1595.3 1079.2,1594.8 1080.8,1594.4 1082.3,1594.0 1083.9,1593.5 1085.5,1593.1 1087.0,1592.7 1088.6,1592.2 1090.2,1591.8 1091.7,1591.4 1093.3,1591.0 1094.8,1590.6 1096.4,1590.1 1098.0,1589.7 1099.5,1589.3 1101.1,1588.9 1102.7,1588.5 1104.2,1588.1 1105.8,1587.7 1107.3,1587.3 1108.9,1586.8 1110.5,1586.4 1112.0,1586.0 1113.6,1585.6 1115.2,1585.2 1116.7,1584.8 1118.3,1584.4 1119.8,1584.0 1121.4,1583.6 1123.0,1583.2 1124.5,1582.8 1126.1,1582.4 1127.7,1582.0 1129.2,1581.6 1130.8,1581.2 1132.3,1580.8 1133.9,1580.4 1135.5,1580.0 1137.0,1579.6 1138.6,1579.2 1140.2,1578.8 1141.7,1578.4 1143.3,1577.9 1144.8,1577.5 1146.4,1577.1 1148.0,1576.7 1149.5,1576.3 1151.1,1575.8 1152.7,1575.4 1154.2,1575.0 1155.8,1574.6 1157.3,1574.1 1158.9,1573.7 1160.5,1573.2 1162.0,1572.8 1163.6,1572.3 1165.2,1571.9 1166.7,1571.4 1168.3,1570.9 1169.8,1570.4 1171.4,1570.0 1173.0,1569.5 1174.5,1569.0 1176.1,1568.5 1177.7,1568.0 1179.2,1567.4 1180.8,1566.9 1182.4,1566.4 1183.9,1565.8 1185.5,1565.3 1187.0,1564.7 1188.6,1564.2 1190.2,1563.6 1191.7,1563.0 1193.3,1562.4 1194.9,1561.8 1196.4,1561.2 1198.0,1560.6 1199.5,1559.9 1201.1,1559.3 1202.7,1558.6 1204.2,1558.0 1205.8,1557.3 1207.4,1556.6 1208.9,1555.9 1210.5,1555.1 1212.0,1554.4 1213.6,1553.6 1215.2,1552.9 1216.7,1552.1 1218.3,1551.3 1219.9,1550.5 1221.4,1549.6 1223.0,1548.8 1224.5,1547.9 1226.1,1547.0 1227.7,1546.1 1229.2,1545.2 1230.8,1544.2 1232.4,1543.3 1233.9,1542.3 1235.5,1541.3 1237.0,1540.2 1238.6,1539.2 1240.2,1538.1 1241.7,1537.0 1243.3,1535.9 1244.9,1534.7 1246.4,1533.5 1248.0,1532.3 1249.5,1531.1 1251.1,1529.8 1252.7,1528.5 1254.2,1527.2 1255.8,1525.9 1257.4,1524.5 1258.9,1523.1 1260.5,1521.6 1262.0,1520.1 1263.6,1518.6 1265.2,1517.1 1266.7,1515.5 1268.3,1513.9 1269.9,1512.2 1271.4,1510.5 1273.0,1508.8 1274.5,1507.0 1276.1,1505.2 1277.7,1503.3 1279.2,1501.4 1280.8,1499.4 1282.4,1497.4 1283.9,1495.4 1285.5,1493.3 1287.0,1491.1 1288.6,1488.9 1290.2,1486.7 1291.7,1484.4 1293.3,1482.0 1294.9,1479.6 1296.4,1477.2 1298.0,1474.6 1299.5,1472.0 1301.1,1469.4 1302.7,1466.7 1304.2,1463.9 1305.8,1461.0 1307.4,1458.1 1308.9,1455.2 1310.5,1452.1 1312.0,1449.0 1313.6,1445.8 1315.2,1442.5 1316.7,1439.2 1318.3,1435.7 1319.9,1432.2 1321.4,1428.6 1323.0,1424.9 1324.5,1421.2 1326.1,1417.3 1327.7,1413.4 1329.2,1409.4 1330.8,1405.2 1332.4,1401.0 1333.9,1396.7 1335.5,1392.3 1337.0,1387.8 1338.6,1383.1 1340.2,1378.4 1341.7,1373.6 1343.3,1368.6 1344.9,1363.6 1346.4,1358.4 1348.0,1353.1 1349.5,1347.7 1351.1,1342.2 1352.7,1336.6 1354.2,1330.8 1355.8,1324.9 1357.4,1318.9 1358.9,1312.8 1360.5,1306.5 1362.1,1300.1 1363.6,1293.6" fill="none" stroke="#ff1010" stroke-width="1.3" stroke-linejoin="round" />
<g fill="none" stroke="#ff1010" stroke-width="1.5"><circle cx="1052.4" cy="1602.0" r="3.8"/><circle cx="1054.7" cy="1600.1" r="3.8"/><circle cx="1057.0" cy="1600.1" r="3.8"/><circle cx="1058.1" cy="1600.3" r="3.8"/><circle cx="1059.7" cy="1599.0" r="3.8"/><circle cx="1061.8" cy="1599.5" r="3.8"/><circle cx="1065.0" cy="1599.4" r="3.8"/><circle cx="1065.7" cy="1597.8" r="3.8"/><circle cx="1067.8" cy="1598.2" r="3.8"/><circle cx="1068.8" cy="1598.3" r="3.8"/><circle cx="1072.1" cy="1596.1" r="3.8"/><circle cx="1074.7" cy="1597.0" r="3.8"/><circle cx="1076.7" cy="1596.4" r="3.8"/><circle cx="1078.5" cy="1596.0" r="3.8"/><circle cx="1081.4" cy="1594.4" r="3.8"/><circle cx="1083.5" cy="1594.1" r="3.8"/><circle cx="1084.4" cy="1592.7" r="3.8"/><circle cx="1086.1" cy="1593.5" r="3.8"/><circle cx="1087.3" cy="1592.8" r="3.8"/><circle cx="1090.6" cy="1592.0" r="3.8"/><circle cx="1090.5" cy="1591.2" r="3.8"/><circle cx="1094.8" cy="1590.1" r="3.8"/><circle cx="1096.3" cy="1588.3" r="3.8"/><circle cx="1098.7" cy="1589.1" r="3.8"/><circle cx="1100.9" cy="1587.7" r="3.8"/><circle cx="1102.7" cy="1588.4" r="3.8"/><circle cx="1104.8" cy="1587.3" r="3.8"/><circle cx="1105.6" cy="1589.4" r="3.8"/><circle cx="1107.4" cy="1586.5" r="3.8"/><circle cx="1109.9" cy="1585.7" r="3.8"/><circle cx="1113.0" cy="1587.4" r="3.8"/><circle cx="1113.5" cy="1584.1" r="3.8"/><circle cx="1117.0" cy="1585.9" r="3.8"/><circle cx="1118.7" cy="1585.4" r="3.8"/><circle cx="1119.3" cy="1583.8" r="3.8"/><circle cx="1120.9" cy="1582.3" r="3.8"/><circle cx="1124.7" cy="1582.4" r="3.8"/><circle cx="1127.8" cy="1582.5" r="3.8"/><circle cx="1127.4" cy="1582.6" r="3.8"/><circle cx="1131.3" cy="1581.8" r="3.8"/><circle cx="1130.9" cy="1581.2" r="3.8"/><circle cx="1135.0" cy="1580.0" r="3.8"/><circle cx="1135.2" cy="1580.7" r="3.8"/><circle cx="1137.9" cy="1578.5" r="3.8"/><circle cx="1139.5" cy="1578.3" r="3.8"/><circle cx="1142.0" cy="1578.4" r="3.8"/><circle cx="1144.7" cy="1578.4" r="3.8"/><circle cx="1144.5" cy="1577.6" r="3.8"/><circle cx="1148.4" cy="1577.1" r="3.8"/><circle cx="1150.5" cy="1575.8" r="3.8"/><circle cx="1150.9" cy="1576.4" r="3.8"/><circle cx="1152.8" cy="1573.4" r="3.8"/><circle cx="1156.5" cy="1574.0" r="3.8"/><circle cx="1157.4" cy="1572.9" r="3.8"/><circle cx="1158.5" cy="1572.5" r="3.8"/><circle cx="1161.3" cy="1573.2" r="3.8"/><circle cx="1161.7" cy="1572.9" r="3.8"/><circle cx="1164.6" cy="1570.9" r="3.8"/><circle cx="1168.1" cy="1571.1" r="3.8"/><circle cx="1168.3" cy="1572.0" r="3.8"/><circle cx="1170.8" cy="1570.1" r="3.8"/><circle cx="1173.6" cy="1570.4" r="3.8"/><circle cx="1175.1" cy="1569.5" r="3.8"/><circle cx="1176.8" cy="1568.9" r="3.8"/><circle cx="1178.8" cy="1567.1" r="3.8"/><circle cx="1182.9" cy="1567.0" r="3.8"/><circle cx="1183.5" cy="1567.8" r="3.8"/><circle cx="1185.6" cy="1564.7" r="3.8"/><circle cx="1187.9" cy="1563.7" r="3.8"/><circle cx="1190.2" cy="1564.9" r="3.8"/><circle cx="1190.8" cy="1562.7" r="3.8"/><circle cx="1193.4" cy="1562.4" r="3.8"/><circle cx="1194.5" cy="1562.1" r="3.8"/><circle cx="1195.6" cy="1560.5" r="3.8"/><circle cx="1198.9" cy="1559.9" r="3.8"/><circle cx="1201.4" cy="1558.3" r="3.8"/><circle cx="1203.7" cy="1558.3" r="3.8"/><circle cx="1204.6" cy="1556.5" r="3.8"/><circle cx="1206.2" cy="1557.0" r="3.8"/><circle cx="1208.4" cy="1555.8" r="3.8"/><circle cx="1212.0" cy="1555.7" r="3.8"/><circle cx="1214.3" cy="1553.7" r="3.8"/><circle cx="1214.2" cy="1553.7" r="3.8"/><circle cx="1217.3" cy="1552.8" r="3.8"/><circle cx="1219.0" cy="1551.9" r="3.8"/><circle cx="1221.7" cy="1550.4" r="3.8"/><circle cx="1223.4" cy="1549.1" r="3.8"/><circle cx="1225.2" cy="1547.8" r="3.8"/><circle cx="1227.7" cy="1546.1" r="3.8"/><circle cx="1230.3" cy="1545.3" r="3.8"/><circle cx="1231.7" cy="1544.1" r="3.8"/><circle cx="1232.7" cy="1544.5" r="3.8"/><circle cx="1234.6" cy="1540.6" r="3.8"/><circle cx="1236.3" cy="1540.1" r="3.8"/><circle cx="1240.6" cy="1539.2" r="3.8"/><circle cx="1241.6" cy="1536.8" r="3.8"/><circle cx="1243.1" cy="1536.8" r="3.8"/><circle cx="1246.2" cy="1534.2" r="3.8"/><circle cx="1247.2" cy="1533.5" r="3.8"/><circle cx="1247.9" cy="1531.7" r="3.8"/><circle cx="1250.5" cy="1528.3" r="3.8"/><circle cx="1253.2" cy="1528.9" r="3.8"/><circle cx="1254.3" cy="1525.8" r="3.8"/><circle cx="1257.8" cy="1525.3" r="3.8"/><circle cx="1259.5" cy="1524.4" r="3.8"/><circle cx="1260.2" cy="1522.1" r="3.8"/><circle cx="1262.4" cy="1519.5" r="3.8"/><circle cx="1264.5" cy="1517.7" r="3.8"/><circle cx="1267.5" cy="1515.8" r="3.8"/><circle cx="1268.4" cy="1513.4" r="3.8"/><circle cx="1270.8" cy="1510.8" r="3.8"/><circle cx="1272.1" cy="1509.3" r="3.8"/><circle cx="1274.0" cy="1507.0" r="3.8"/><circle cx="1276.0" cy="1506.3" r="3.8"/><circle cx="1279.5" cy="1502.7" r="3.8"/><circle cx="1280.4" cy="1501.7" r="3.8"/><circle cx="1282.7" cy="1497.3" r="3.8"/><circle cx="1284.6" cy="1495.0" r="3.8"/><circle cx="1287.5" cy="1492.1" r="3.8"/><circle cx="1290.0" cy="1488.6" r="3.8"/><circle cx="1290.9" cy="1485.7" r="3.8"/><circle cx="1293.8" cy="1483.3" r="3.8"/><circle cx="1294.2" cy="1481.2" r="3.8"/><circle cx="1297.3" cy="1476.5" r="3.8"/><circle cx="1298.0" cy="1473.1" r="3.8"/><circle cx="1300.3" cy="1470.8" r="3.8"/><circle cx="1301.9" cy="1466.9" r="3.8"/><circle cx="1303.9" cy="1463.4" r="3.8"/><circle cx="1306.6" cy="1461.6" r="3.8"/><circle cx="1306.6" cy="1456.5" r="3.8"/><circle cx="1309.8" cy="1453.2" r="3.8"/><circle cx="1311.4" cy="1448.7" r="3.8"/><circle cx="1313.3" cy="1445.3" r="3.8"/><circle cx="1316.2" cy="1440.4" r="3.8"/><circle cx="1318.4" cy="1436.1" r="3.8"/><circle cx="1318.8" cy="1432.3" r="3.8"/><circle cx="1322.3" cy="1427.1" r="3.8"/><circle cx="1324.8" cy="1423.5" r="3.8"/><circle cx="1325.1" cy="1417.0" r="3.8"/><circle cx="1329.2" cy="1413.8" r="3.8"/><circle cx="1329.4" cy="1406.6" r="3.8"/><circle cx="1331.4" cy="1401.8" r="3.8"/><circle cx="1332.6" cy="1396.8" r="3.8"/><circle cx="1334.9" cy="1390.2" r="3.8"/><circle cx="1338.6" cy="1384.8" r="3.8"/><circle cx="1339.8" cy="1379.9" r="3.8"/><circle cx="1342.5" cy="1373.0" r="3.8"/><circle cx="1343.8" cy="1366.4" r="3.8"/><circle cx="1347.2" cy="1361.1" r="3.8"/><circle cx="1346.9" cy="1353.9" r="3.8"/><circle cx="1350.3" cy="1347.4" r="3.8"/><circle cx="1353.2" cy="1341.1" r="3.8"/><circle cx="1353.3" cy="1332.7" r="3.8"/><circle cx="1354.7" cy="1325.6" r="3.8"/><circle cx="1357.8" cy="1319.9" r="3.8"/><circle cx="1359.7" cy="1308.2" r="3.8"/><circle cx="1361.1" cy="1301.9" r="3.8"/><circle cx="1362.6" cy="1292.9" r="3.8"/></g>
<polyline points="1052.7,1521.5 1054.2,1520.8 1055.8,1520.1 1057.3,1519.5 1058.9,1518.8 1060.5,1518.1 1062.0,1517.5 1063.6,1516.8 1065.2,1516.1 1066.7,1515.5 1068.3,1514.8 1069.8,1514.2 1071.4,1513.5 1073.0,1512.9 1074.5,1512.2 1076.1,1511.6 1077.7,1511.0 1079.2,1510.3 1080.8,1509.7 1082.3,1509.1 1083.9,1508.4 1085.5,1507.8 1087.0,1507.2 1088.6,1506.5 1090.2,1505.9 1091.7,1505.3 1093.3,1504.6 1094.8,1504.0 1096.4,1503.4 1098.0,1502.8 1099.5,1502.1 1101.1,1501.5 1102.7,1500.9 1104.2,1500.3 1105.8,1499.6 1107.3,1499.0 1108.9,1498.4 1110.5,1497.7 1112.0,1497.1 1113.6,1496.5 1115.2,1495.8 1116.7,1495.2 1118.3,1494.5 1119.8,1493.9 1121.4,1493.3 1123.0,1492.6 1124.5,1492.0 1126.1,1491.3 1127.7,1490.6 1129.2,1490.0 1130.8,1489.3 1132.3,1488.6 1133.9,1488.0 1135.5,1487.3 1137.0,1486.6 1138.6,1485.9 1140.2,1485.2 1141.7,1484.6 1143.3,1483.9 1144.8,1483.2 1146.4,1482.4 1148.0,1481.7 1149.5,1481.0 1151.1,1480.3 1152.7,1479.6 1154.2,1478.8 1155.8,1478.1 1157.3,1477.3 1158.9,1476.6 1160.5,1475.8 1162.0,1475.0 1163.6,1474.3 1165.2,1473.5 1166.7,1472.7 1168.3,1471.9 1169.8,1471.1 1171.4,1470.3 1173.0,1469.5 1174.5,1468.6 1176.1,1467.8 1177.7,1466.9 1179.2,1466.1 1180.8,1465.2 1182.4,1464.3 1183.9,1463.5 1185.5,1462.6 1187.0,1461.7 1188.6,1460.8 1190.2,1459.8 1191.7,1458.9 1193.3,1458.0 1194.9,1457.0 1196.4,1456.0 1198.0,1455.1 1199.5,1454.1 1201.1,1453.1 1202.7,1452.1 1204.2,1451.1 1205.8,1450.0 1207.4,1449.0 1208.9,1447.9 1210.5,1446.9 1212.0,1445.8 1213.6,1444.7 1215.2,1443.6 1216.7,1442.5 1218.3,1441.4 1219.9,1440.2 1221.4,1439.1 1223.0,1437.9 1224.5,1436.7 1226.1,1435.5 1227.7,1434.3 1229.2,1433.1 1230.8,1431.8 1232.4,1430.6 1233.9,1429.3 1235.5,1428.0 1237.0,1426.7 1238.6,1425.4 1240.2,1424.1 1241.7,1422.8 1243.3,1421.4 1244.9,1420.1 1246.4,1418.7 1248.0,1417.3 1249.5,1415.9 1251.1,1414.4 1252.7,1413.0 1254.2,1411.5 1255.8,1410.0 1257.4,1408.6 1258.9,1407.0 1260.5,1405.5 1262.0,1404.0 1263.6,1402.4 1265.2,1400.9 1266.7,1399.3 1268.3,1397.7 1269.9,1396.0 1271.4,1394.4 1273.0,1392.7 1274.5,1391.1 1276.1,1389.4 1277.7,1387.7 1279.2,1386.0 1280.8,1384.2 1282.4,1382.5 1283.9,1380.7 1285.5,1378.9 1287.0,1377.1 1288.6,1375.3 1290.2,1373.5 1291.7,1371.6 1293.3,1369.8 1294.9,1367.9 1296.4,1366.0 1298.0,1364.1 1299.5,1362.2 1301.1,1360.2 1302.7,1358.3 1304.2,1356.3 1305.8,1354.3 1307.4,1352.3 1308.9,1350.3 1310.5,1348.3 1312.0,1346.2 1313.6,1344.2 1315.2,1342.1 1316.7,1340.0 1318.3,1337.9 1319.9,1335.8 1321.4,1333.7 1323.0,1331.6 1324.5,1329.4 1326.1,1327.3 1327.7,1325.1 1329.2,1322.9 1330.8,1320.8 1332.4,1318.6 1333.9,1316.4 1335.5,1314.2 1337.0,1311.9 1338.6,1309.7 1340.2,1307.5 1341.7,1305.3 1343.3,1303.0 1344.9,1300.8 1346.4,1298.5 1348.0,1296.3 1349.5,1294.0 1351.1,1291.8 1352.7,1289.5 1354.2,1287.3 1355.8,1285.0 1357.4,1282.7 1358.9,1280.5 1360.5,1278.2 1362.1,1276.0 1363.6,1273.8" fill="none" stroke="#1010ff" stroke-width="1.3" stroke-linejoin="round" />
<g fill="none" stroke="#1010ff" stroke-width="1.5"><circle cx="1052.4" cy="1521.8" r="3.8"/><circle cx="1054.5" cy="1519.9" r="3.8"/><circle cx="1057.2" cy="1519.3" r="3.8"/><circle cx="1058.2" cy="1517.8" r="3.8"/><circle cx="1059.9" cy="1518.6" r="3.8"/><circle cx="1061.3" cy="1517.2" r="3.8"/><circle cx="1065.1" cy="1516.1" r="3.8"/><circle cx="1066.7" cy="1514.7" r="3.8"/><circle cx="1069.5" cy="1515.6" r="3.8"/><circle cx="1070.7" cy="1512.5" r="3.8"/><circle cx="1071.6" cy="1513.9" r="3.8"/><circle cx="1075.8" cy="1512.5" r="3.8"/><circle cx="1077.4" cy="1511.0" r="3.8"/><circle cx="1078.3" cy="1510.7" r="3.8"/><circle cx="1080.7" cy="1508.6" r="3.8"/><circle cx="1083.1" cy="1510.1" r="3.8"/><circle cx="1083.4" cy="1507.2" r="3.8"/><circle cx="1086.6" cy="1506.9" r="3.8"/><circle cx="1086.4" cy="1507.3" r="3.8"/><circle cx="1090.4" cy="1505.5" r="3.8"/><circle cx="1094.0" cy="1505.2" r="3.8"/><circle cx="1093.6" cy="1504.3" r="3.8"/><circle cx="1095.4" cy="1502.9" r="3.8"/><circle cx="1098.5" cy="1502.2" r="3.8"/><circle cx="1099.8" cy="1503.2" r="3.8"/><circle cx="1102.9" cy="1501.7" r="3.8"/><circle cx="1104.6" cy="1500.7" r="3.8"/><circle cx="1107.3" cy="1499.5" r="3.8"/><circle cx="1109.6" cy="1497.9" r="3.8"/><circle cx="1109.9" cy="1496.8" r="3.8"/><circle cx="1111.8" cy="1497.5" r="3.8"/><circle cx="1115.2" cy="1495.7" r="3.8"/><circle cx="1116.0" cy="1495.2" r="3.8"/><circle cx="1117.4" cy="1493.7" r="3.8"/><circle cx="1120.0" cy="1492.4" r="3.8"/><circle cx="1122.1" cy="1493.0" r="3.8"/><circle cx="1123.4" cy="1491.4" r="3.8"/><circle cx="1124.8" cy="1492.9" r="3.8"/><circle cx="1126.8" cy="1491.8" r="3.8"/><circle cx="1130.4" cy="1489.4" r="3.8"/><circle cx="1131.0" cy="1489.7" r="3.8"/><circle cx="1135.2" cy="1487.2" r="3.8"/><circle cx="1135.6" cy="1488.0" r="3.8"/><circle cx="1138.1" cy="1487.9" r="3.8"/><circle cx="1139.3" cy="1485.8" r="3.8"/><circle cx="1140.8" cy="1486.2" r="3.8"/><circle cx="1143.2" cy="1481.9" r="3.8"/><circle cx="1145.6" cy="1482.6" r="3.8"/><circle cx="1149.3" cy="1481.6" r="3.8"/><circle cx="1149.7" cy="1481.4" r="3.8"/><circle cx="1153.0" cy="1480.0" r="3.8"/><circle cx="1154.5" cy="1479.5" r="3.8"/><circle cx="1155.4" cy="1478.2" r="3.8"/><circle cx="1157.7" cy="1476.5" r="3.8"/><circle cx="1160.6" cy="1475.1" r="3.8"/><circle cx="1162.5" cy="1476.0" r="3.8"/><circle cx="1163.5" cy="1473.7" r="3.8"/><circle cx="1165.4" cy="1473.7" r="3.8"/><circle cx="1168.1" cy="1472.5" r="3.8"/><circle cx="1170.3" cy="1470.8" r="3.8"/><circle cx="1171.7" cy="1469.0" r="3.8"/><circle cx="1174.1" cy="1469.3" r="3.8"/><circle cx="1175.1" cy="1469.1" r="3.8"/><circle cx="1178.0" cy="1464.8" r="3.8"/><circle cx="1179.4" cy="1464.8" r="3.8"/><circle cx="1182.2" cy="1466.9" r="3.8"/><circle cx="1183.0" cy="1463.8" r="3.8"/><circle cx="1185.2" cy="1462.9" r="3.8"/><circle cx="1187.9" cy="1462.5" r="3.8"/><circle cx="1188.5" cy="1461.6" r="3.8"/><circle cx="1190.6" cy="1459.4" r="3.8"/><circle cx="1194.2" cy="1458.5" r="3.8"/><circle cx="1194.5" cy="1456.2" r="3.8"/><circle cx="1196.9" cy="1455.5" r="3.8"/><circle cx="1200.1" cy="1453.3" r="3.8"/><circle cx="1201.6" cy="1453.5" r="3.8"/><circle cx="1203.6" cy="1452.1" r="3.8"/><circle cx="1206.4" cy="1450.8" r="3.8"/><circle cx="1207.8" cy="1449.6" r="3.8"/><circle cx="1210.6" cy="1446.3" r="3.8"/><circle cx="1212.1" cy="1446.2" r="3.8"/><circle cx="1212.9" cy="1444.3" r="3.8"/><circle cx="1213.6" cy="1443.4" r="3.8"/><circle cx="1216.5" cy="1442.6" r="3.8"/><circle cx="1217.8" cy="1442.0" r="3.8"/><circle cx="1221.2" cy="1439.2" r="3.8"/><circle cx="1222.4" cy="1437.2" r="3.8"/><circle cx="1224.1" cy="1435.9" r="3.8"/><circle cx="1227.0" cy="1434.7" r="3.8"/><circle cx="1227.8" cy="1433.1" r="3.8"/><circle cx="1230.2" cy="1431.9" r="3.8"/><circle cx="1234.4" cy="1430.7" r="3.8"/><circle cx="1234.6" cy="1427.2" r="3.8"/><circle cx="1235.7" cy="1425.6" r="3.8"/><circle cx="1239.4" cy="1424.6" r="3.8"/><circle cx="1240.9" cy="1423.1" r="3.8"/><circle cx="1242.9" cy="1423.0" r="3.8"/><circle cx="1244.2" cy="1419.9" r="3.8"/><circle cx="1246.1" cy="1419.1" r="3.8"/><circle cx="1247.9" cy="1415.7" r="3.8"/><circle cx="1249.6" cy="1413.7" r="3.8"/><circle cx="1253.1" cy="1415.0" r="3.8"/><circle cx="1253.9" cy="1411.9" r="3.8"/><circle cx="1256.9" cy="1408.3" r="3.8"/><circle cx="1258.4" cy="1407.1" r="3.8"/><circle cx="1260.1" cy="1406.9" r="3.8"/><circle cx="1261.1" cy="1403.7" r="3.8"/><circle cx="1264.8" cy="1401.0" r="3.8"/><circle cx="1266.7" cy="1400.1" r="3.8"/><circle cx="1268.7" cy="1397.7" r="3.8"/><circle cx="1271.1" cy="1393.7" r="3.8"/><circle cx="1273.7" cy="1395.1" r="3.8"/><circle cx="1275.3" cy="1391.9" r="3.8"/><circle cx="1275.3" cy="1388.9" r="3.8"/><circle cx="1277.8" cy="1386.4" r="3.8"/><circle cx="1281.2" cy="1384.0" r="3.8"/><circle cx="1282.3" cy="1380.9" r="3.8"/><circle cx="1284.3" cy="1380.3" r="3.8"/><circle cx="1285.8" cy="1377.3" r="3.8"/><circle cx="1289.9" cy="1374.6" r="3.8"/><circle cx="1289.5" cy="1372.6" r="3.8"/><circle cx="1293.3" cy="1372.6" r="3.8"/><circle cx="1294.6" cy="1368.0" r="3.8"/><circle cx="1295.9" cy="1367.0" r="3.8"/><circle cx="1297.5" cy="1364.9" r="3.8"/><circle cx="1301.4" cy="1361.4" r="3.8"/><circle cx="1302.7" cy="1359.4" r="3.8"/><circle cx="1305.4" cy="1355.5" r="3.8"/><circle cx="1307.1" cy="1353.5" r="3.8"/><circle cx="1307.5" cy="1351.4" r="3.8"/><circle cx="1310.0" cy="1347.9" r="3.8"/><circle cx="1310.8" cy="1345.4" r="3.8"/><circle cx="1315.3" cy="1345.1" r="3.8"/><circle cx="1316.6" cy="1341.8" r="3.8"/><circle cx="1317.6" cy="1338.2" r="3.8"/><circle cx="1320.3" cy="1334.7" r="3.8"/><circle cx="1321.2" cy="1333.0" r="3.8"/><circle cx="1323.7" cy="1329.3" r="3.8"/><circle cx="1326.3" cy="1327.2" r="3.8"/><circle cx="1328.8" cy="1324.7" r="3.8"/><circle cx="1329.7" cy="1322.1" r="3.8"/><circle cx="1331.8" cy="1318.6" r="3.8"/><circle cx="1333.6" cy="1317.0" r="3.8"/><circle cx="1336.4" cy="1314.6" r="3.8"/><circle cx="1336.5" cy="1310.5" r="3.8"/><circle cx="1339.5" cy="1308.1" r="3.8"/><circle cx="1341.5" cy="1304.7" r="3.8"/><circle cx="1344.4" cy="1302.4" r="3.8"/><circle cx="1344.9" cy="1300.5" r="3.8"/><circle cx="1348.6" cy="1296.1" r="3.8"/><circle cx="1350.4" cy="1293.1" r="3.8"/><circle cx="1352.6" cy="1290.7" r="3.8"/><circle cx="1353.1" cy="1287.7" r="3.8"/><circle cx="1355.1" cy="1285.3" r="3.8"/><circle cx="1357.8" cy="1282.3" r="3.8"/><circle cx="1359.2" cy="1276.5" r="3.8"/><circle cx="1361.7" cy="1275.1" r="3.8"/><circle cx="1363.8" cy="1274.7" r="3.8"/></g>
<rect x="1014.40" y="1254.30" width="374.90" height="371.90" fill="none" stroke="#2a2a2a" stroke-width="2.0" />
<text x="1004.90" y="1630.60" font-size="19" text-anchor="end" fill="#4a4a4a">0.0</text>
<line x1="1014.40" y1="1510.10" x2="1022.90" y2="1510.10" stroke="#2a2a2a" stroke-width="1.8" />
<line x1="1389.30" y1="1510.10" x2="1380.80" y2="1510.10" stroke="#2a2a2a" stroke-width="1.8" />
<text x="1004.90" y="1516.70" font-size="19" text-anchor="end" fill="#4a4a4a">0.4</text>
<line x1="1014.40" y1="1396.20" x2="1022.90" y2="1396.20" stroke="#2a2a2a" stroke-width="1.8" />
<line x1="1389.30" y1="1396.20" x2="1380.80" y2="1396.20" stroke="#2a2a2a" stroke-width="1.8" />
<text x="1004.90" y="1402.80" font-size="19" text-anchor="end" fill="#4a4a4a">0.8</text>
<line x1="1014.40" y1="1282.30" x2="1022.90" y2="1282.30" stroke="#2a2a2a" stroke-width="1.8" />
<line x1="1389.30" y1="1282.30" x2="1380.80" y2="1282.30" stroke="#2a2a2a" stroke-width="1.8" />
<text x="1004.90" y="1288.90" font-size="19" text-anchor="end" fill="#4a4a4a">1.2</text>
<line x1="1058.00" y1="1254.30" x2="1058.00" y2="1262.80" stroke="#2a2a2a" stroke-width="1.8" />
<line x1="1058.00" y1="1626.20" x2="1058.00" y2="1617.70" stroke="#2a2a2a" stroke-width="1.8" />
<text x="1058.00" y="1654.30" font-size="18.5" text-anchor="middle" fill="#4a4a4a">6.8</text>
<line x1="1147.10" y1="1254.30" x2="1147.10" y2="1262.80" stroke="#2a2a2a" stroke-width="1.8" />
<line x1="1147.10" y1="1626.20" x2="1147.10" y2="1617.70" stroke="#2a2a2a" stroke-width="1.8" />
<text x="1147.10" y="1654.30" font-size="18.5" text-anchor="middle" fill="#4a4a4a">6.9</text>
<line x1="1236.20" y1="1254.30" x2="1236.20" y2="1262.80" stroke="#2a2a2a" stroke-width="1.8" />
<line x1="1236.20" y1="1626.20" x2="1236.20" y2="1617.70" stroke="#2a2a2a" stroke-width="1.8" />
<text x="1236.20" y="1654.30" font-size="18.5" text-anchor="middle" fill="#4a4a4a">7.0</text>
<line x1="1325.30" y1="1254.30" x2="1325.30" y2="1262.80" stroke="#2a2a2a" stroke-width="1.8" />
<line x1="1325.30" y1="1626.20" x2="1325.30" y2="1617.70" stroke="#2a2a2a" stroke-width="1.8" />
<text x="1325.30" y="1654.30" font-size="18.5" text-anchor="middle" fill="#4a4a4a">7.1</text>
<text x="1056.00" y="1300.50" font-size="23" fill="#111">55 µM</text>
<rect x="1014.40" y="1125.90" width="374.90" height="107.00" fill="none" stroke="#2a2a2a" stroke-width="2.0" />
<line x1="1014.40" y1="1206.00" x2="1023.40" y2="1206.00" stroke="#2a2a2a" stroke-width="1.8" />
<line x1="1389.30" y1="1206.00" x2="1380.30" y2="1206.00" stroke="#2a2a2a" stroke-width="1.8" />
<line x1="1014.40" y1="1179.30" x2="1023.40" y2="1179.30" stroke="#2a2a2a" stroke-width="1.8" />
<line x1="1389.30" y1="1179.30" x2="1380.30" y2="1179.30" stroke="#2a2a2a" stroke-width="1.8" />
<line x1="1014.40" y1="1152.60" x2="1023.40" y2="1152.60" stroke="#2a2a2a" stroke-width="1.8" />
<line x1="1389.30" y1="1152.60" x2="1380.30" y2="1152.60" stroke="#2a2a2a" stroke-width="1.8" />
<line x1="1058.00" y1="1125.90" x2="1058.00" y2="1133.90" stroke="#2a2a2a" stroke-width="1.8" />
<line x1="1058.00" y1="1232.90" x2="1058.00" y2="1224.90" stroke="#2a2a2a" stroke-width="1.8" />
<line x1="1147.10" y1="1125.90" x2="1147.10" y2="1133.90" stroke="#2a2a2a" stroke-width="1.8" />
<line x1="1147.10" y1="1232.90" x2="1147.10" y2="1224.90" stroke="#2a2a2a" stroke-width="1.8" />
<line x1="1236.20" y1="1125.90" x2="1236.20" y2="1133.90" stroke="#2a2a2a" stroke-width="1.8" />
<line x1="1236.20" y1="1232.90" x2="1236.20" y2="1224.90" stroke="#2a2a2a" stroke-width="1.8" />
<line x1="1325.30" y1="1125.90" x2="1325.30" y2="1133.90" stroke="#2a2a2a" stroke-width="1.8" />
<line x1="1325.30" y1="1232.90" x2="1325.30" y2="1224.90" stroke="#2a2a2a" stroke-width="1.8" />
<text x="151.20" y="1131.90" font-size="17" text-anchor="end" fill="#3a3a3a">0.02</text>
<text x="151.20" y="1158.60" font-size="17" text-anchor="end" fill="#3a3a3a">0.01</text>
<text x="151.20" y="1185.30" font-size="17" text-anchor="end" fill="#3a3a3a">0.00</text>
<text x="151.20" y="1212.00" font-size="17" text-anchor="end" fill="#3a3a3a">-0.01</text>
<text x="151.20" y="1238.70" font-size="17" text-anchor="end" fill="#3a3a3a">-0.02</text>
<text x="577.80" y="1131.90" font-size="17" text-anchor="end" fill="#3a3a3a">0.02</text>
<text x="577.80" y="1158.60" font-size="17" text-anchor="end" fill="#3a3a3a">0.01</text>
<text x="577.80" y="1185.30" font-size="17" text-anchor="end" fill="#3a3a3a">0.00</text>
<text x="577.80" y="1212.00" font-size="17" text-anchor="end" fill="#3a3a3a">0.01</text>
<text x="577.80" y="1238.70" font-size="17" text-anchor="end" fill="#3a3a3a">0.02</text>
<text x="1005.40" y="1131.90" font-size="17" text-anchor="end" fill="#3a3a3a">0.02</text>
<text x="1005.40" y="1158.60" font-size="17" text-anchor="end" fill="#3a3a3a">0.01</text>
<text x="1005.40" y="1185.30" font-size="17" text-anchor="end" fill="#3a3a3a">0.00</text>
<text x="1005.40" y="1212.00" font-size="17" text-anchor="end" fill="#3a3a3a">-0.01</text>
<text x="1005.40" y="1238.70" font-size="17" text-anchor="end" fill="#3a3a3a">-0.02</text>
<polyline points="186.1,1182.8 189.7,1180.2 193.2,1182.8 196.8,1191.4 200.3,1179.6 203.9,1182.0 207.4,1187.2 211.0,1181.1 214.5,1182.2 218.0,1182.5 221.6,1183.9 225.1,1181.1 228.7,1187.9 232.2,1184.7 235.8,1186.4 239.3,1180.5 242.9,1183.5 246.4,1185.2 250.0,1187.7 253.5,1184.9 257.1,1183.4 260.6,1184.8 264.1,1176.4 267.7,1177.9 271.2,1197.7 274.8,1193.2 278.3,1184.0 281.9,1185.3 285.4,1181.8 289.0,1181.7 292.5,1171.5 296.1,1188.7 299.6,1184.7 303.1,1171.7 306.7,1179.1 310.2,1179.0 313.8,1185.2 317.3,1191.2 320.9,1181.4 324.4,1181.7 328.0,1188.8 331.5,1185.8 335.1,1182.5 338.6,1187.1 342.2,1182.5 345.7,1181.4 349.2,1181.7 352.8,1184.5 356.3,1178.6 359.9,1176.9 363.4,1179.9 367.0,1185.9 370.5,1177.6 374.1,1184.1 377.6,1176.7 381.2,1187.0 384.7,1176.4 388.3,1181.3 391.8,1187.8 395.3,1182.7 398.9,1180.7 402.4,1179.5 406.0,1186.1 409.5,1186.7 413.1,1179.7 416.6,1183.2 420.2,1179.4 423.7,1176.5 427.3,1189.3 430.8,1179.1 434.4,1173.9 437.9,1181.9 441.4,1184.6 445.0,1176.2 448.5,1178.8 452.1,1175.3 455.6,1181.9 459.2,1187.9 462.7,1180.5 466.3,1182.2 469.8,1175.6 473.4,1178.7 476.9,1188.4 480.4,1186.0 484.0,1174.8 487.5,1175.9 491.1,1182.8 494.6,1179.4 498.2,1176.9 501.7,1176.8" fill="none" stroke="#1010ff" stroke-width="1.8" stroke-linejoin="round" />
<polyline points="186.1,1175.4 189.7,1180.1 193.2,1179.4 196.8,1193.0 200.3,1164.7 203.9,1169.1 207.4,1179.0 211.0,1171.7 214.5,1175.0 218.0,1180.6 221.6,1170.4 225.1,1179.0 228.7,1179.2 232.2,1182.3 235.8,1174.0 239.3,1177.7 242.9,1173.5 246.4,1181.2 250.0,1176.3 253.5,1183.2 257.1,1171.6 260.6,1176.0 264.1,1175.1 267.7,1174.6 271.2,1184.1 274.8,1172.2 278.3,1163.7 281.9,1188.4 285.4,1189.0 289.0,1187.5 292.5,1171.9 296.1,1176.7 299.6,1170.4 303.1,1172.8 306.7,1176.3 310.2,1175.8 313.8,1178.9 317.3,1172.0 320.9,1185.3 324.4,1180.6 328.0,1176.2 331.5,1165.8 335.1,1183.0 338.6,1185.1 342.2,1181.7 345.7,1171.5 349.2,1179.6 352.8,1169.2 356.3,1190.6 359.9,1170.6 363.4,1171.2 367.0,1187.6 370.5,1177.2 374.1,1170.1 377.6,1177.7 381.2,1171.6 384.7,1162.5 388.3,1176.5 391.8,1180.3 395.3,1183.6 398.9,1174.1 402.4,1179.8 406.0,1179.7 409.5,1179.2 413.1,1174.2 416.6,1185.7 420.2,1188.8 423.7,1194.9 427.3,1170.7 430.8,1178.2 434.4,1168.7 437.9,1178.8 441.4,1183.8 445.0,1175.7 448.5,1179.4 452.1,1187.3 455.6,1184.8 459.2,1167.2 462.7,1176.6 466.3,1176.2 469.8,1180.9 473.4,1183.7 476.9,1173.2 480.4,1179.8 484.0,1184.2 487.5,1180.1 491.1,1185.3 494.6,1178.0 498.2,1171.8 501.7,1184.9" fill="none" stroke="#ff1010" stroke-width="1.8" stroke-linejoin="round" />
<polyline points="186.1,1167.3 189.7,1194.3 193.2,1176.8 196.8,1182.6 200.3,1182.0 203.9,1180.6 207.4,1191.3 211.0,1180.7 214.5,1184.4 218.0,1159.5 221.6,1178.0 225.1,1181.4 228.7,1181.0 232.2,1183.3 235.8,1185.6 239.3,1181.6 242.9,1176.4 246.4,1180.7 250.0,1173.5 253.5,1180.5 257.1,1179.2 260.6,1169.9 264.1,1176.0 267.7,1182.4 271.2,1180.4 274.8,1176.0 278.3,1167.5 281.9,1180.9 285.4,1180.8 289.0,1173.1 292.5,1184.7 296.1,1181.1 299.6,1173.9 303.1,1175.7 306.7,1178.7 310.2,1175.2 313.8,1196.8 317.3,1173.0 320.9,1185.3 324.4,1189.7 328.0,1177.6 331.5,1174.9 335.1,1182.1 338.6,1186.0 342.2,1179.1 345.7,1179.6 349.2,1170.5 352.8,1174.6 356.3,1178.1 359.9,1172.3 363.4,1180.6 367.0,1185.2 370.5,1175.6 374.1,1175.6 377.6,1180.7 381.2,1184.3 384.7,1177.8 388.3,1195.2 391.8,1174.9 395.3,1176.2 398.9,1189.8 402.4,1178.9 406.0,1185.5 409.5,1174.4 413.1,1192.4 416.6,1185.2 420.2,1174.7 423.7,1171.8 427.3,1193.3 430.8,1182.5 434.4,1177.2 437.9,1183.3 441.4,1168.9 445.0,1187.1 448.5,1177.0 452.1,1186.2 455.6,1170.1 459.2,1179.4 462.7,1181.8 466.3,1190.6 469.8,1168.2 473.4,1174.3 476.9,1174.3 480.4,1171.8 484.0,1177.0 487.5,1183.5 491.1,1184.6 494.6,1184.6 498.2,1170.2 501.7,1189.0" fill="none" stroke="#138a13" stroke-width="1.8" stroke-linejoin="round" />
<polyline points="606.6,1179.2 611.1,1177.2 615.6,1169.8 620.1,1173.7 624.6,1182.9 629.2,1176.2 633.7,1178.6 638.2,1175.5 642.7,1182.4 647.2,1175.0 651.7,1174.9 656.2,1169.5 660.7,1174.4 665.2,1173.6 669.7,1181.5 674.2,1166.4 678.8,1183.1 683.3,1170.9 687.8,1176.6 692.3,1178.7 696.8,1177.7 701.3,1177.7 705.8,1173.4 710.3,1175.3 714.8,1168.9 719.3,1182.0 723.9,1174.7 728.4,1178.1 732.9,1171.4 737.4,1182.9 741.9,1175.7 746.4,1173.4 750.9,1180.1 755.4,1170.2 759.9,1173.3 764.4,1169.9 768.9,1170.3 773.5,1178.5 778.0,1178.1 782.5,1175.9 787.0,1172.0 791.5,1171.8 796.0,1179.0 800.5,1178.9 805.0,1180.0 809.5,1179.4 814.0,1178.0 818.6,1177.8 823.1,1167.4 827.6,1180.2 832.1,1179.4 836.6,1175.9 841.1,1183.4 845.6,1180.7 850.1,1179.0 854.6,1175.5 859.1,1188.3 863.6,1176.1 868.2,1186.6 872.7,1185.8 877.2,1184.2 881.7,1187.0 886.2,1186.9 890.7,1192.8 895.2,1195.4 899.7,1195.7 904.2,1203.0 908.7,1195.5 913.2,1205.4 917.8,1208.4" fill="none" stroke="#1010ff" stroke-width="1.8" stroke-linejoin="round" />
<polyline points="606.6,1194.2 611.1,1196.7 615.6,1190.8 620.1,1187.2 624.6,1183.3 629.2,1188.4 633.7,1191.6 638.2,1192.6 642.7,1184.7 647.2,1180.2 651.7,1186.8 656.2,1193.9 660.7,1192.3 665.2,1180.0 669.7,1186.4 674.2,1195.2 678.8,1187.4 683.3,1192.1 687.8,1189.5 692.3,1188.7 696.8,1189.4 701.3,1183.7 705.8,1186.2 710.3,1188.3 714.8,1183.8 719.3,1181.9 723.9,1192.0 728.4,1186.1 732.9,1188.8 737.4,1185.4 741.9,1189.1 746.4,1182.7 750.9,1181.9 755.4,1182.1 759.9,1184.4 764.4,1180.5 768.9,1182.7 773.5,1183.0 778.0,1174.6 782.5,1180.0 787.0,1167.9 791.5,1169.0 796.0,1181.8 800.5,1169.2 805.0,1175.4 809.5,1168.4 814.0,1168.1 818.6,1178.6 823.1,1168.9 827.6,1168.8 832.1,1162.0 836.6,1173.1 841.1,1162.6 845.6,1172.1 850.1,1167.7 854.6,1170.1 859.1,1157.6 863.6,1162.0 868.2,1151.7 872.7,1161.0 877.2,1159.6 881.7,1159.3 886.2,1166.7 890.7,1165.6 895.2,1165.1 899.7,1179.6 904.2,1183.5 908.7,1190.6 913.2,1195.0 917.8,1201.6" fill="none" stroke="#ff1010" stroke-width="1.8" stroke-linejoin="round" />
<polyline points="606.6,1170.9 611.1,1165.2 615.6,1199.1 620.1,1180.1 624.6,1171.2 629.2,1168.6 633.7,1173.9 638.2,1167.6 642.7,1176.5 647.2,1174.6 651.7,1177.2 656.2,1186.1 660.7,1184.4 665.2,1175.6 669.7,1182.2 674.2,1169.4 678.8,1169.3 683.3,1165.9 687.8,1178.1 692.3,1168.8 696.8,1183.6 701.3,1182.9 705.8,1177.1 710.3,1175.8 714.8,1187.3 719.3,1187.9 723.9,1175.2 728.4,1182.4 732.9,1170.1 737.4,1174.8 741.9,1175.3 746.4,1175.8 750.9,1171.9 755.4,1177.6 759.9,1170.8 764.4,1179.4 768.9,1178.2 773.5,1181.0 778.0,1174.6 782.5,1178.0 787.0,1183.2 791.5,1168.3 796.0,1181.4 800.5,1180.5 805.0,1178.1 809.5,1171.3 814.0,1181.9 818.6,1177.7 823.1,1181.3 827.6,1190.1 832.1,1178.5 836.6,1177.6 841.1,1184.8 845.6,1184.0 850.1,1192.3 854.6,1193.0 859.1,1188.1 863.6,1183.8 868.2,1190.9 872.7,1187.9 877.2,1185.5 881.7,1191.3 886.2,1189.9 890.7,1186.4 895.2,1202.0 899.7,1192.5 904.2,1207.7 908.7,1196.5 913.2,1198.9 917.8,1203.6" fill="none" stroke="#138a13" stroke-width="1.8" stroke-linejoin="round" />
<polyline points="1052.7,1171.3 1056.6,1170.7 1060.5,1172.5 1064.5,1174.4 1068.4,1173.4 1072.3,1175.1 1076.3,1172.5 1080.2,1169.2 1084.1,1174.5 1088.1,1175.1 1092.0,1172.2 1096.0,1172.8 1099.9,1173.7 1103.8,1176.9 1107.8,1174.5 1111.7,1172.7 1115.6,1178.8 1119.6,1176.5 1123.5,1181.0 1127.4,1179.4 1131.4,1181.3 1135.3,1176.8 1139.3,1180.1 1143.2,1175.7 1147.1,1176.3 1151.1,1177.5 1155.0,1184.9 1158.9,1179.1 1162.9,1177.8 1166.8,1177.5 1170.7,1182.9 1174.7,1179.8 1178.6,1181.6 1182.5,1181.3 1186.5,1175.6 1190.4,1181.8 1194.4,1179.6 1198.3,1177.1 1202.2,1182.1 1206.2,1181.0 1210.1,1180.6 1214.0,1181.1 1218.0,1185.6 1221.9,1181.8 1225.8,1178.0 1229.8,1187.7 1233.7,1180.3 1237.7,1183.1 1241.6,1185.8 1245.5,1177.7 1249.5,1182.1 1253.4,1188.7 1257.3,1185.0 1261.3,1183.7 1265.2,1186.5 1269.1,1184.1 1273.1,1186.8 1277.0,1184.8 1281.0,1182.7 1284.9,1188.5 1288.8,1184.8 1292.8,1186.0 1296.7,1183.2 1300.6,1186.3 1304.6,1183.5 1308.5,1181.4 1312.4,1177.2 1316.4,1175.6 1320.3,1182.0 1324.3,1179.5 1328.2,1174.4 1332.1,1181.0 1336.1,1175.7 1340.0,1173.8 1343.9,1169.1 1347.9,1169.8 1351.8,1171.6 1355.7,1170.8 1359.7,1169.6 1363.6,1164.6" fill="none" stroke="#1010ff" stroke-width="1.8" stroke-linejoin="round" />
<polyline points="1052.7,1180.9 1056.6,1179.5 1060.5,1179.7 1064.5,1175.8 1068.4,1183.8 1072.3,1175.5 1076.3,1178.7 1080.2,1171.4 1084.1,1171.3 1088.1,1169.7 1092.0,1172.4 1096.0,1175.8 1099.9,1172.3 1103.8,1169.9 1107.8,1178.7 1111.7,1173.8 1115.6,1176.6 1119.6,1170.8 1123.5,1180.0 1127.4,1178.0 1131.4,1175.5 1135.3,1176.1 1139.3,1183.9 1143.2,1176.0 1147.1,1178.1 1151.1,1178.7 1155.0,1178.5 1158.9,1177.2 1162.9,1185.5 1166.8,1172.1 1170.7,1181.9 1174.7,1187.6 1178.6,1179.1 1182.5,1173.1 1186.5,1181.2 1190.4,1173.0 1194.4,1173.2 1198.3,1183.2 1202.2,1189.8 1206.2,1185.1 1210.1,1175.7 1214.0,1183.9 1218.0,1186.9 1221.9,1186.5 1225.8,1181.3 1229.8,1181.7 1233.7,1178.3 1237.7,1178.1 1241.6,1186.0 1245.5,1183.2 1249.5,1187.3 1253.4,1182.7 1257.3,1187.8 1261.3,1188.3 1265.2,1175.2 1269.1,1183.8 1273.1,1181.6 1277.0,1174.3 1281.0,1181.4 1284.9,1184.1 1288.8,1182.3 1292.8,1185.1 1296.7,1175.0 1300.6,1181.3 1304.6,1168.8 1308.5,1179.5 1312.4,1178.6 1316.4,1178.1 1320.3,1170.4 1324.3,1172.2 1328.2,1162.8 1332.1,1175.5 1336.1,1168.2 1340.0,1154.3 1343.9,1168.8 1347.9,1155.9 1351.8,1144.1 1355.7,1141.8 1359.7,1149.1 1363.6,1158.1" fill="none" stroke="#ff1010" stroke-width="1.8" stroke-linejoin="round" />
<polyline points="1052.7,1202.3 1056.6,1196.4 1060.5,1206.2 1064.5,1193.5 1068.4,1190.5 1072.3,1198.7 1076.3,1193.7 1080.2,1194.3 1084.1,1197.4 1088.1,1199.6 1092.0,1205.5 1096.0,1186.8 1099.9,1194.2 1103.8,1180.2 1107.8,1188.9 1111.7,1191.5 1115.6,1196.2 1119.6,1184.9 1123.5,1194.7 1127.4,1183.3 1131.4,1193.4 1135.3,1190.0 1139.3,1198.8 1143.2,1177.8 1147.1,1190.5 1151.1,1191.4 1155.0,1184.6 1158.9,1192.8 1162.9,1183.7 1166.8,1192.8 1170.7,1183.8 1174.7,1190.9 1178.6,1194.0 1182.5,1187.4 1186.5,1190.8 1190.4,1181.0 1194.4,1182.8 1198.3,1180.1 1202.2,1181.3 1206.2,1182.6 1210.1,1180.4 1214.0,1175.6 1218.0,1180.1 1221.9,1181.8 1225.8,1182.1 1229.8,1178.5 1233.7,1180.0 1237.7,1168.9 1241.6,1180.5 1245.5,1179.6 1249.5,1175.9 1253.4,1171.4 1257.3,1174.5 1261.3,1176.7 1265.2,1175.5 1269.1,1173.1 1273.1,1167.2 1277.0,1174.4 1281.0,1170.3 1284.9,1171.8 1288.8,1167.4 1292.8,1168.2 1296.7,1177.6 1300.6,1162.8 1304.6,1173.7 1308.5,1178.4 1312.4,1181.8 1316.4,1180.5 1320.3,1180.7 1324.3,1179.5 1328.2,1184.0 1332.1,1183.1 1336.1,1195.5 1340.0,1192.7 1343.9,1196.4 1347.9,1196.0 1351.8,1200.5 1355.7,1213.7 1359.7,1214.4 1363.6,1217.4" fill="none" stroke="#138a13" stroke-width="1.8" stroke-linejoin="round" />
<text x="94.90" y="1237.00" font-size="28" fill="#111" transform="rotate(-90 94.90 1237.00)"  textLength="116.5" lengthAdjust="spacingAndGlyphs">Residuals</text>
<text x="106.20" y="1571.70" font-size="28.5" fill="#111" transform="rotate(-90 106.20 1571.70)"  textLength="258.5" lengthAdjust="spacingAndGlyphs">Absorbance (280 nm)</text>
<text x="702.60" y="1695.00" font-size="24.8" fill="#111"  textLength="145.0" lengthAdjust="spacingAndGlyphs">Radius (cm)</text>
<line x1="68.50" y1="1720.80" x2="1389.50" y2="1720.80" stroke="#111" stroke-width="2.0" />
<line x1="68.50" y1="1783.00" x2="1389.50" y2="1783.00" stroke="#222" stroke-width="1.2" />
<line x1="68.50" y1="1967.60" x2="1389.50" y2="1967.60" stroke="#111" stroke-width="2.0" />
<line x1="399.30" y1="1720.80" x2="399.30" y2="1967.60" stroke="#222" stroke-width="1.1" />
<text x="235.50" y="1764.90" font-size="27.8" text-anchor="middle" fill="#111"  textLength="58.3" lengthAdjust="spacingAndGlyphs">Total</text>
<text x="565.00" y="1764.90" font-size="27.8" text-anchor="middle" fill="#111"  textLength="108.9" lengthAdjust="spacingAndGlyphs">Tetramer</text>
<text x="896.00" y="1764.90" font-size="27.8" text-anchor="middle" fill="#111"  textLength="105.8" lengthAdjust="spacingAndGlyphs">Octamer</text>
<text x="1226.20" y="1764.90" font-size="27.8" text-anchor="middle" fill="#111"  textLength="171.8" lengthAdjust="spacingAndGlyphs">Hexadecamer</text>
<text x="235.50" y="1825.50" font-size="27.8" text-anchor="middle" fill="#111"  textLength="196.9" lengthAdjust="spacingAndGlyphs">12.5 µM (100%)</text>
<text x="565.00" y="1825.50" font-size="27.8" text-anchor="middle" fill="#111"  textLength="202.5" lengthAdjust="spacingAndGlyphs">11.6 µM (92.5%)</text>
<text x="896.00" y="1825.50" font-size="27.8" text-anchor="middle" fill="#111"  textLength="173.9" lengthAdjust="spacingAndGlyphs">0.7 µM (5.6%)</text>
<text x="1226.20" y="1825.50" font-size="27.8" text-anchor="middle" fill="#111"  textLength="173.9" lengthAdjust="spacingAndGlyphs">0.1 µM (1.9%)</text>
<text x="235.50" y="1886.40" font-size="27.8" text-anchor="middle" fill="#111"  textLength="181.6" lengthAdjust="spacingAndGlyphs">25 µM (98.8%)</text>
<text x="565.00" y="1886.40" font-size="27.8" text-anchor="middle" fill="#111"  textLength="204.6" lengthAdjust="spacingAndGlyphs">20.4 µM (81.6%)</text>
<text x="896.00" y="1886.40" font-size="27.8" text-anchor="middle" fill="#111"  textLength="173.9" lengthAdjust="spacingAndGlyphs">2.2 µM (9.0%)</text>
<text x="1226.20" y="1886.40" font-size="27.8" text-anchor="middle" fill="#111"  textLength="173.9" lengthAdjust="spacingAndGlyphs">2.3 µM (9.3%)</text>
<text x="235.50" y="1947.30" font-size="27.8" text-anchor="middle" fill="#111"  textLength="181.6" lengthAdjust="spacingAndGlyphs">55 µM (99.8%)</text>
<text x="565.00" y="1947.30" font-size="27.8" text-anchor="middle" fill="#111"  textLength="181.6" lengthAdjust="spacingAndGlyphs">33.1 µM (60%)</text>
<text x="896.00" y="1947.30" font-size="27.8" text-anchor="middle" fill="#111"  textLength="189.2" lengthAdjust="spacingAndGlyphs">5.9 µM (10.8%)</text>
<text x="1226.20" y="1947.30" font-size="27.8" text-anchor="middle" fill="#111"  textLength="181.6" lengthAdjust="spacingAndGlyphs">16.0 µM (29%)</text>
<text x="1.20" y="2066.00" font-size="47" font-weight="bold"  textLength="27.0" lengthAdjust="spacingAndGlyphs">e</text>
<text x="411.00" y="2061.00" font-size="27.2" textLength="263" lengthAdjust="spacingAndGlyphs">His-Cep63 (424–541)</text>
<circle cx="679.30" cy="2053.20" r="4.7" fill="#000" stroke="none" stroke-width="1" />
<text x="685.80" y="2061.00" font-size="27.2" textLength="358.5" lengthAdjust="spacingAndGlyphs">Cep152 (1205–1295), pH 5.5</text>
<g fill="#e1e1e1" stroke="#6a6a6a" stroke-width="1"><rect x="146.66" y="2467.79" width="7.74" height="16.81"/><rect x="154.41" y="2467.79" width="7.74" height="16.81"/><rect x="162.15" y="2400.55" width="7.74" height="84.05"/><rect x="169.90" y="2326.59" width="7.74" height="158.01"/><rect x="177.64" y="2182.02" width="7.74" height="302.58"/><rect x="185.38" y="2195.47" width="7.74" height="289.13"/><rect x="193.13" y="2121.50" width="7.74" height="363.10"/><rect x="200.87" y="2087.88" width="7.74" height="396.72"/><rect x="208.62" y="2108.06" width="7.74" height="376.54"/><rect x="216.36" y="2219.00" width="7.74" height="265.60"/><rect x="224.10" y="2255.98" width="7.74" height="228.62"/><rect x="231.85" y="2249.26" width="7.74" height="235.34"/><rect x="239.59" y="2323.22" width="7.74" height="161.38"/><rect x="247.34" y="2350.12" width="7.74" height="134.48"/><rect x="255.08" y="2390.46" width="7.74" height="94.14"/><rect x="262.82" y="2380.38" width="7.74" height="104.22"/><rect x="270.57" y="2400.55" width="7.74" height="84.05"/><rect x="278.31" y="2450.98" width="7.74" height="33.62"/><rect x="286.06" y="2450.98" width="7.74" height="33.62"/><rect x="293.80" y="2450.98" width="7.74" height="33.62"/><rect x="301.54" y="2447.62" width="7.74" height="36.98"/><rect x="309.29" y="2450.98" width="7.74" height="33.62"/><rect x="317.03" y="2461.07" width="7.74" height="23.53"/><rect x="324.78" y="2471.15" width="7.74" height="13.45"/><rect x="332.52" y="2474.51" width="7.74" height="10.09"/><rect x="340.26" y="2457.70" width="7.74" height="26.90"/><rect x="348.01" y="2467.79" width="7.74" height="16.81"/><rect x="355.75" y="2471.15" width="7.74" height="13.45"/><rect x="363.50" y="2481.24" width="7.74" height="3.36"/><rect x="371.24" y="2457.70" width="7.74" height="26.90"/><rect x="378.98" y="2467.79" width="7.74" height="16.81"/><rect x="386.73" y="2467.79" width="7.74" height="16.81"/><rect x="394.47" y="2467.79" width="7.74" height="16.81"/><rect x="402.22" y="2427.45" width="7.74" height="57.15"/><rect x="409.96" y="2467.79" width="7.74" height="16.81"/><rect x="417.70" y="2430.81" width="7.74" height="53.79"/><rect x="425.45" y="2444.26" width="7.74" height="40.34"/><rect x="433.19" y="2444.26" width="7.74" height="40.34"/><rect x="440.94" y="2447.62" width="7.74" height="36.98"/><rect x="448.68" y="2434.17" width="7.74" height="50.43"/><rect x="456.42" y="2450.98" width="7.74" height="33.62"/><rect x="464.17" y="2430.81" width="7.74" height="53.79"/><rect x="471.91" y="2447.62" width="7.74" height="36.98"/><rect x="479.66" y="2430.81" width="7.74" height="53.79"/><rect x="487.40" y="2434.17" width="7.74" height="50.43"/><rect x="495.14" y="2427.45" width="7.74" height="57.15"/><rect x="502.89" y="2447.62" width="7.74" height="36.98"/><rect x="510.63" y="2437.53" width="7.74" height="47.07"/><rect x="518.38" y="2434.17" width="7.74" height="50.43"/><rect x="526.12" y="2420.72" width="7.74" height="63.88"/><rect x="533.86" y="2450.98" width="7.74" height="33.62"/><rect x="541.61" y="2430.81" width="7.74" height="53.79"/><rect x="549.35" y="2444.26" width="7.74" height="40.34"/><rect x="557.10" y="2450.98" width="7.74" height="33.62"/><rect x="564.84" y="2437.53" width="7.74" height="47.07"/><rect x="572.58" y="2474.51" width="7.74" height="10.09"/><rect x="580.33" y="2464.43" width="7.74" height="20.17"/><rect x="588.07" y="2467.79" width="7.74" height="16.81"/><rect x="595.82" y="2481.24" width="7.74" height="3.36"/><rect x="603.56" y="2464.43" width="7.74" height="20.17"/><rect x="611.30" y="2477.88" width="7.74" height="6.72"/><rect x="619.05" y="2471.15" width="7.74" height="13.45"/><rect x="626.79" y="2481.24" width="7.74" height="3.36"/><rect x="642.28" y="2474.51" width="7.74" height="10.09"/><rect x="650.02" y="2474.51" width="7.74" height="10.09"/><rect x="657.77" y="2481.24" width="7.74" height="3.36"/><rect x="665.51" y="2481.24" width="7.74" height="3.36"/><rect x="673.26" y="2481.24" width="7.74" height="3.36"/><rect x="681.00" y="2477.88" width="7.74" height="6.72"/><rect x="696.49" y="2481.24" width="7.74" height="3.36"/></g>
<g fill="#f4f45a" stroke="#7a7a50" stroke-width="1"><rect x="162.15" y="2477.88" width="7.74" height="6.72"/><rect x="169.90" y="2471.15" width="7.74" height="13.45"/><rect x="177.64" y="2457.70" width="7.74" height="26.90"/><rect x="185.38" y="2400.55" width="7.74" height="84.05"/><rect x="193.13" y="2360.21" width="7.74" height="124.39"/><rect x="200.87" y="2363.57" width="7.74" height="121.03"/><rect x="208.62" y="2360.21" width="7.74" height="124.39"/><rect x="216.36" y="2410.64" width="7.74" height="73.96"/><rect x="224.10" y="2397.19" width="7.74" height="87.41"/><rect x="231.85" y="2417.36" width="7.74" height="67.24"/><rect x="239.59" y="2427.45" width="7.74" height="57.15"/><rect x="247.34" y="2444.26" width="7.74" height="40.34"/><rect x="255.08" y="2474.51" width="7.74" height="10.09"/><rect x="262.82" y="2474.51" width="7.74" height="10.09"/><rect x="270.57" y="2474.51" width="7.74" height="10.09"/><rect x="278.31" y="2464.43" width="7.74" height="20.17"/><rect x="286.06" y="2471.15" width="7.74" height="13.45"/><rect x="293.80" y="2467.79" width="7.74" height="16.81"/><rect x="301.54" y="2477.88" width="7.74" height="6.72"/><rect x="309.29" y="2481.24" width="7.74" height="3.36"/><rect x="317.03" y="2481.24" width="7.74" height="3.36"/><rect x="324.78" y="2477.88" width="7.74" height="6.72"/><rect x="332.52" y="2481.24" width="7.74" height="3.36"/><rect x="340.26" y="2477.88" width="7.74" height="6.72"/><rect x="348.01" y="2467.79" width="7.74" height="16.81"/><rect x="355.75" y="2481.24" width="7.74" height="3.36"/><rect x="363.50" y="2481.24" width="7.74" height="3.36"/><rect x="371.24" y="2467.79" width="7.74" height="16.81"/><rect x="378.98" y="2467.79" width="7.74" height="16.81"/><rect x="386.73" y="2474.51" width="7.74" height="10.09"/><rect x="394.47" y="2471.15" width="7.74" height="13.45"/><rect x="402.22" y="2467.79" width="7.74" height="16.81"/><rect x="409.96" y="2471.15" width="7.74" height="13.45"/><rect x="417.70" y="2474.51" width="7.74" height="10.09"/><rect x="425.45" y="2474.51" width="7.74" height="10.09"/><rect x="433.19" y="2454.34" width="7.74" height="30.26"/><rect x="440.94" y="2471.15" width="7.74" height="13.45"/><rect x="448.68" y="2474.51" width="7.74" height="10.09"/><rect x="456.42" y="2471.15" width="7.74" height="13.45"/><rect x="464.17" y="2474.51" width="7.74" height="10.09"/><rect x="471.91" y="2457.70" width="7.74" height="26.90"/><rect x="479.66" y="2471.15" width="7.74" height="13.45"/><rect x="487.40" y="2477.88" width="7.74" height="6.72"/><rect x="495.14" y="2477.88" width="7.74" height="6.72"/><rect x="502.89" y="2467.79" width="7.74" height="16.81"/><rect x="510.63" y="2467.79" width="7.74" height="16.81"/><rect x="518.38" y="2477.88" width="7.74" height="6.72"/><rect x="526.12" y="2481.24" width="7.74" height="3.36"/><rect x="541.61" y="2471.15" width="7.74" height="13.45"/><rect x="549.35" y="2477.88" width="7.74" height="6.72"/><rect x="564.84" y="2481.24" width="7.74" height="3.36"/><rect x="572.58" y="2481.24" width="7.74" height="3.36"/><rect x="580.33" y="2481.24" width="7.74" height="3.36"/><rect x="588.07" y="2482.92" width="7.74" height="1.68"/><rect x="603.56" y="2482.92" width="7.74" height="1.68"/></g>
<polyline points="109.9,2484.6 111.4,2484.6 112.9,2484.6 114.5,2484.6 116.0,2484.6 117.5,2484.6 119.1,2484.6 120.6,2484.6 122.1,2484.6 123.6,2484.6 125.2,2484.6 126.7,2484.6 128.2,2484.5 129.7,2484.5 131.3,2484.5 132.8,2484.5 134.3,2484.4 135.9,2484.4 137.4,2484.3 138.9,2484.3 140.4,2484.2 142.0,2484.1 143.5,2483.9 145.0,2483.7 146.6,2483.5 148.1,2483.3 149.6,2482.9 151.1,2482.6 152.7,2482.1 154.2,2481.5 155.7,2480.9 157.3,2480.1 158.8,2479.2 160.3,2478.2 161.8,2477.0 163.4,2475.6 164.9,2474.0 166.4,2472.2 168.0,2470.2 169.5,2467.9 171.0,2465.4 172.5,2462.5 174.1,2459.5 175.6,2456.1 177.1,2452.4 178.7,2448.5 180.2,2444.3 181.7,2439.9 183.2,2435.2 184.8,2430.3 186.3,2425.2 187.8,2420.0 189.4,2414.7 190.9,2409.4 192.4,2404.1 193.9,2398.9 195.5,2393.8 197.0,2388.9 198.5,2384.3 200.1,2380.0 201.6,2376.0 203.1,2372.6 204.6,2369.6 206.2,2367.1 207.7,2365.3 209.2,2364.0 210.8,2363.3 212.3,2363.3 213.8,2363.9 215.3,2365.2 216.9,2367.0 218.4,2369.4 219.9,2372.4 221.5,2375.8 223.0,2379.7 224.5,2384.0 226.0,2388.6 227.6,2393.4 229.1,2398.5 230.6,2403.7 232.2,2408.9 233.7,2414.2 235.2,2419.4 236.7,2424.6 238.3,2429.6 239.8,2434.5 241.3,2439.1 242.9,2443.5 244.4,2447.7 245.9,2451.5 247.4,2455.1 249.0,2458.4 250.5,2461.5 252.0,2464.2 253.6,2466.7 255.1,2468.9 256.6,2470.8 258.1,2472.5 259.7,2473.9 261.2,2475.0 262.7,2475.9 264.3,2476.5 265.8,2476.8 267.3,2476.7 268.8,2476.4 270.4,2475.7 271.9,2474.7 273.4,2473.4 274.9,2471.9 276.5,2470.3 278.0,2468.7 279.5,2467.1 281.1,2465.7 282.6,2464.7 284.1,2464.2 285.6,2464.1 287.2,2464.5 288.7,2465.3 290.2,2466.5 291.8,2468.1 293.3,2469.7 294.8,2471.4 296.3,2473.1 297.9,2474.6 299.4,2475.9 300.9,2477.0 302.5,2477.9 304.0,2478.5 305.5,2479.0 307.0,2479.3 308.6,2479.4 310.1,2479.5 311.6,2479.5 313.2,2479.4 314.7,2479.3 316.2,2479.2 317.7,2479.1 319.3,2478.9 320.8,2478.8 322.3,2478.6 323.9,2478.5 325.4,2478.3 326.9,2478.2 328.4,2478.0 330.0,2477.8 331.5,2477.7 333.0,2477.5 334.6,2477.3 336.1,2477.2 337.6,2477.0 339.1,2476.8 340.7,2476.7 342.2,2476.5 343.7,2476.3 345.3,2476.1 346.8,2476.0 348.3,2475.8 349.8,2475.6 351.4,2475.5 352.9,2475.3 354.4,2475.1 356.0,2474.9 357.5,2474.8 359.0,2474.6 360.5,2474.4 362.1,2474.3 363.6,2474.1 365.1,2473.9 366.7,2473.8 368.2,2473.6 369.7,2473.4 371.2,2473.3 372.8,2473.1 374.3,2473.0 375.8,2472.8 377.4,2472.7 378.9,2472.5 380.4,2472.4 381.9,2472.3 383.5,2472.1 385.0,2472.0 386.5,2471.9 388.1,2471.7 389.6,2471.6 391.1,2471.5 392.6,2471.4 394.2,2471.3 395.7,2471.2 397.2,2471.1 398.8,2471.0 400.3,2470.9 401.8,2470.8 403.3,2470.7 404.9,2470.6 406.4,2470.6 407.9,2470.5 409.5,2470.4 411.0,2470.4 412.5,2470.3 414.0,2470.3 415.6,2470.3 417.1,2470.2 418.6,2470.2 420.1,2470.2 421.7,2470.2 423.2,2470.1 424.7,2470.1 426.3,2470.1 427.8,2470.2 429.3,2470.2 430.8,2470.2 432.4,2470.2 433.9,2470.2 435.4,2470.3 437.0,2470.3 438.5,2470.3 440.0,2470.4 441.5,2470.5 443.1,2470.5 444.6,2470.6 446.1,2470.7 447.7,2470.7 449.2,2470.8 450.7,2470.9 452.2,2471.0 453.8,2471.1 455.3,2471.2 456.8,2471.3 458.4,2471.4 459.9,2471.5 461.4,2471.6 462.9,2471.7 464.5,2471.9 466.0,2472.0 467.5,2472.1 469.1,2472.3 470.6,2472.4 472.1,2472.5 473.6,2472.7 475.2,2472.8 476.7,2473.0 478.2,2473.1 479.8,2473.3 481.3,2473.5 482.8,2473.6 484.3,2473.8 485.9,2473.9 487.4,2474.1 488.9,2474.3 490.5,2474.4 492.0,2474.6 493.5,2474.8 495.0,2474.9 496.6,2475.1 498.1,2475.3 499.6,2475.5 501.2,2475.6 502.7,2475.8 504.2,2476.0 505.7,2476.2 507.3,2476.3 508.8,2476.5 510.3,2476.7 511.9,2476.8 513.4,2477.0 514.9,2477.2 516.4,2477.4 518.0,2477.5 519.5,2477.7 521.0,2477.9 522.6,2478.0 524.1,2478.2 525.6,2478.3 527.1,2478.5 528.7,2478.7 530.2,2478.8 531.7,2479.0 533.3,2479.1 534.8,2479.3 536.3,2479.4 537.8,2479.6 539.4,2479.7 540.9,2479.8 542.4,2480.0 544.0,2480.1 545.5,2480.3 547.0,2480.4 548.5,2480.5 550.1,2480.6 551.6,2480.8 553.1,2480.9 554.7,2481.0 556.2,2481.1 557.7,2481.2 559.2,2481.3 560.8,2481.5 562.3,2481.6 563.8,2481.7 565.3,2481.8 566.9,2481.9 568.4,2482.0 569.9,2482.1 571.5,2482.2 573.0,2482.2 574.5,2482.3 576.0,2482.4 577.6,2482.5 579.1,2482.6 580.6,2482.7 582.2,2482.7 583.7,2482.8 585.2,2482.9 586.7,2482.9 588.3,2483.0 589.8,2483.1 591.3,2483.1 592.9,2483.2 594.4,2483.3 595.9,2483.3 597.4,2483.4 599.0,2483.4 600.5,2483.5 602.0,2483.5 603.6,2483.6 605.1,2483.6 606.6,2483.7 608.1,2483.7 609.7,2483.7 611.2,2483.8 612.7,2483.8 614.3,2483.9 615.8,2483.9 617.3,2483.9 618.8,2484.0 620.4,2484.0 621.9,2484.0 623.4,2484.0 625.0,2484.1 626.5,2484.1 628.0,2484.1 629.5,2484.2 631.1,2484.2 632.6,2484.2 634.1,2484.2 635.7,2484.2 637.2,2484.3 638.7,2484.3 640.2,2484.3 641.8,2484.3 643.3,2484.3 644.8,2484.3 646.4,2484.4 647.9,2484.4 649.4,2484.4 650.9,2484.4 652.5,2484.4 654.0,2484.4 655.5,2484.4 657.1,2484.4 658.6,2484.4 660.1,2484.5 661.6,2484.5 663.2,2484.5 664.7,2484.5 666.2,2484.5 667.8,2484.5 669.3,2484.5 670.8,2484.5 672.3,2484.5 673.9,2484.5 675.4,2484.5 676.9,2484.5 678.5,2484.5 680.0,2484.5 681.5,2484.5 683.0,2484.5 684.6,2484.5 686.1,2484.5 687.6,2484.6 689.2,2484.6 690.7,2484.6 692.2,2484.6 693.7,2484.6 695.3,2484.6 696.8,2484.6 698.3,2484.6 699.9,2484.6 701.4,2484.6 702.9,2484.6 704.4,2484.6 706.0,2484.6 707.5,2484.6 709.0,2484.6 710.5,2484.6 712.1,2484.6 713.6,2484.6 715.1,2484.6 716.7,2484.6 718.2,2484.6 719.7,2484.6" fill="none" stroke="#ff2020" stroke-width="2.4" stroke-linejoin="round" stroke-dasharray="7,5"/>
<rect x="100.20" y="2081.40" width="618.30" height="403.20" fill="none" stroke="#8a8a8a" stroke-width="1.3" />
<line x1="100.20" y1="2417.36" x2="106.70" y2="2417.36" stroke="#8a8a8a" stroke-width="1.2" />
<line x1="718.50" y1="2417.36" x2="712.00" y2="2417.36" stroke="#8a8a8a" stroke-width="1.2" />
<line x1="100.20" y1="2350.12" x2="106.70" y2="2350.12" stroke="#8a8a8a" stroke-width="1.2" />
<line x1="718.50" y1="2350.12" x2="712.00" y2="2350.12" stroke="#8a8a8a" stroke-width="1.2" />
<line x1="100.20" y1="2282.88" x2="106.70" y2="2282.88" stroke="#8a8a8a" stroke-width="1.2" />
<line x1="718.50" y1="2282.88" x2="712.00" y2="2282.88" stroke="#8a8a8a" stroke-width="1.2" />
<line x1="100.20" y1="2215.64" x2="106.70" y2="2215.64" stroke="#8a8a8a" stroke-width="1.2" />
<line x1="718.50" y1="2215.64" x2="712.00" y2="2215.64" stroke="#8a8a8a" stroke-width="1.2" />
<line x1="100.20" y1="2148.40" x2="106.70" y2="2148.40" stroke="#8a8a8a" stroke-width="1.2" />
<line x1="718.50" y1="2148.40" x2="712.00" y2="2148.40" stroke="#8a8a8a" stroke-width="1.2" />
<line x1="197.00" y1="2081.40" x2="197.00" y2="2087.90" stroke="#8a8a8a" stroke-width="1.2" />
<line x1="293.80" y1="2081.40" x2="293.80" y2="2087.90" stroke="#8a8a8a" stroke-width="1.2" />
<line x1="390.60" y1="2081.40" x2="390.60" y2="2087.90" stroke="#8a8a8a" stroke-width="1.2" />
<line x1="487.40" y1="2081.40" x2="487.40" y2="2087.90" stroke="#8a8a8a" stroke-width="1.2" />
<line x1="584.20" y1="2081.40" x2="584.20" y2="2087.90" stroke="#8a8a8a" stroke-width="1.2" />
<line x1="681.00" y1="2081.40" x2="681.00" y2="2087.90" stroke="#8a8a8a" stroke-width="1.2" />
<text x="85.60" y="2499.10" font-size="18.4" text-anchor="end" fill="#111">0</text>
<text x="85.60" y="2429.36" font-size="18.4" text-anchor="end" fill="#111">20</text>
<text x="85.60" y="2362.12" font-size="18.4" text-anchor="end" fill="#111">40</text>
<text x="85.60" y="2294.88" font-size="18.4" text-anchor="end" fill="#111">60</text>
<text x="85.60" y="2227.64" font-size="18.4" text-anchor="end" fill="#111">80</text>
<text x="85.60" y="2160.40" font-size="18.4" text-anchor="end" fill="#111">100</text>
<text x="85.60" y="2093.16" font-size="18.4" text-anchor="end" fill="#111">120</text>
<text x="192.50" y="2510.20" font-size="18.4" text-anchor="middle" fill="#111">50</text>
<text x="288.50" y="2510.20" font-size="18.4" text-anchor="middle" fill="#111">100</text>
<text x="381.90" y="2510.20" font-size="18.4" text-anchor="middle" fill="#111">150</text>
<text x="480.80" y="2510.20" font-size="18.4" text-anchor="middle" fill="#111">200</text>
<text x="579.20" y="2510.20" font-size="18.4" text-anchor="middle" fill="#111">250</text>
<text x="675.50" y="2510.20" font-size="18.4" text-anchor="middle" fill="#111">300</text>
<polygon points="210.4,2306.9 211.8,2306.9 211.8,2333.8 218.9,2333.8 211.1,2348.8 203.2,2333.8 210.4,2333.8" fill="#000" stroke="none" stroke-width="1" />
<polygon points="285.2,2410.9 286.5,2410.9 286.5,2437.4 293.5,2437.4 285.9,2453.0 278.2,2437.4 285.2,2437.4" fill="#c00000" stroke="none" stroke-width="1" />
<polygon points="498.9,2369.6 500.1,2369.6 500.1,2394.6 507.4,2394.6 499.5,2410.1 491.6,2394.6 498.9,2394.6" fill="#22a022" stroke="none" stroke-width="1" />
<text x="487.00" y="2127.80" font-size="30.5" fill="#111"  textLength="203.4" lengthAdjust="spacingAndGlyphs">Unequilibrated</text>
<text x="247.60" y="2535.60" font-size="26.3" fill="#111"  textLength="280.4" lengthAdjust="spacingAndGlyphs">Molecular weight (kDa)</text>
<text x="42.00" y="2418.70" font-size="31.5" fill="#111" transform="rotate(-90 42.00 2418.70)"  textLength="271.0" lengthAdjust="spacingAndGlyphs">Incidences (counts)</text>
<polyline points="783.5,2484.9 785.0,2484.9 786.6,2484.8 788.1,2484.7 789.6,2484.6 791.2,2484.5 792.7,2484.4 794.3,2484.2 795.8,2483.9 797.3,2483.7 798.9,2483.3 800.4,2482.9 801.9,2482.4 803.5,2481.8 805.0,2481.1 806.5,2480.3 808.1,2479.3 809.6,2478.1 811.1,2476.8 812.7,2475.2 814.2,2473.3 815.8,2471.2 817.3,2468.8 818.8,2465.9 820.4,2462.7 821.9,2459.1 823.4,2455.0 825.0,2450.4 826.5,2445.3 828.0,2439.6 829.6,2433.3 831.1,2426.3 832.6,2418.7 834.2,2410.4 835.7,2401.4 837.3,2391.7 838.8,2381.3 840.3,2370.2 841.9,2358.4 843.4,2346.0 844.9,2333.0 846.5,2319.4 848.0,2305.4 849.5,2291.0 851.1,2276.3 852.6,2261.4 854.1,2246.3 855.7,2231.3 857.2,2216.5 858.8,2202.0 860.3,2187.8 861.8,2174.3 863.4,2161.4 864.9,2149.3 866.4,2138.3 868.0,2128.3 869.5,2119.5 871.0,2112.0 872.6,2105.9 874.1,2101.3 875.6,2098.2 877.2,2096.7 878.7,2096.7 880.3,2098.3 881.8,2101.5 883.3,2106.1 884.9,2112.3 886.4,2119.8 887.9,2128.6 889.5,2138.7 891.0,2149.8 892.5,2161.8 894.1,2174.8 895.6,2188.3 897.1,2202.5 898.7,2217.1 900.2,2231.9 901.8,2246.9 903.3,2261.9 904.8,2276.8 906.4,2291.6 907.9,2306.0 909.4,2320.0 911.0,2333.5 912.5,2346.5 914.0,2358.8 915.6,2370.6 917.1,2381.7 918.7,2392.0 920.2,2401.7 921.7,2410.7 923.3,2419.0 924.8,2426.6 926.3,2433.5 927.9,2439.8 929.4,2445.5 930.9,2450.6 932.5,2455.2 934.0,2459.3 935.5,2462.9 937.1,2466.1 938.6,2468.8 940.2,2471.3 941.7,2473.4 943.2,2475.2 944.8,2476.8 946.3,2478.2 947.8,2479.3 949.4,2480.3 950.9,2481.2 952.4,2481.9 954.0,2482.4 955.5,2482.9 957.0,2483.3 958.6,2483.7 960.1,2483.9 961.7,2484.2 963.2,2484.4 964.7,2484.5 966.3,2484.6 967.8,2484.7 969.3,2484.8 970.9,2484.9 972.4,2484.9 973.9,2485.0 975.5,2485.0 977.0,2485.0 978.5,2485.0 980.1,2485.1 981.6,2485.1 983.2,2485.1 984.7,2485.1 986.2,2485.1 987.8,2485.1 989.3,2485.1 990.8,2485.1 992.4,2485.1 993.9,2485.1 995.4,2485.1 997.0,2485.1 998.5,2485.1 1000.0,2485.1 1001.6,2485.1 1003.1,2485.1 1004.7,2485.1 1006.2,2485.1 1007.7,2485.1 1009.3,2485.1 1010.8,2485.1 1012.3,2485.1 1013.9,2485.1 1015.4,2485.1 1016.9,2485.1 1018.5,2485.1 1020.0,2485.1 1021.5,2485.1 1023.1,2485.1 1024.6,2485.1 1026.2,2485.1 1027.7,2485.1 1029.2,2485.1 1030.8,2485.1 1032.3,2485.1 1033.8,2485.1 1035.4,2485.1 1036.9,2485.1 1038.4,2485.1 1040.0,2485.1 1041.5,2485.1 1043.1,2485.1 1044.6,2485.1 1046.1,2485.1 1047.7,2485.1 1049.2,2485.1 1050.7,2485.1 1052.3,2485.1 1053.8,2485.1 1055.3,2485.1 1056.9,2485.1 1058.4,2485.1 1059.9,2485.1 1061.5,2485.1 1063.0,2485.1 1064.6,2485.1 1066.1,2485.1 1067.6,2485.1 1069.2,2485.1 1070.7,2485.1 1072.2,2485.1 1073.8,2485.1 1075.3,2485.1 1076.8,2485.1 1078.4,2485.1 1079.9,2485.1 1081.4,2485.1 1083.0,2485.1 1084.5,2485.1 1086.1,2485.1 1087.6,2485.1 1089.1,2485.1 1090.7,2485.1 1092.2,2485.1 1093.7,2485.1 1095.3,2485.1 1096.8,2485.1 1098.3,2485.1 1099.9,2485.1 1101.4,2485.1 1102.9,2485.1 1104.5,2485.1 1106.0,2485.1 1107.6,2485.1 1109.1,2485.1 1110.6,2485.1 1112.2,2485.1 1113.7,2485.1 1115.2,2485.1 1116.8,2485.1 1118.3,2485.1 1119.8,2485.1 1121.4,2485.1 1122.9,2485.1 1124.4,2485.1 1126.0,2485.1 1127.5,2485.1 1129.1,2485.1 1130.6,2485.1 1132.1,2485.1 1133.7,2485.1 1135.2,2485.1 1136.7,2485.1 1138.3,2485.1 1139.8,2485.1 1141.3,2485.1 1142.9,2485.1 1144.4,2485.1 1145.9,2485.1 1147.5,2485.1 1149.0,2485.1 1150.6,2485.1 1152.1,2485.1 1153.6,2485.1 1155.2,2485.1 1156.7,2485.1 1158.2,2485.1 1159.8,2485.1 1161.3,2485.1 1162.8,2485.1 1164.4,2485.1 1165.9,2485.1 1167.5,2485.1 1169.0,2485.1 1170.5,2485.1 1172.1,2485.1 1173.6,2485.1 1175.1,2485.1 1176.7,2485.1 1178.2,2485.1 1179.7,2485.1 1181.3,2485.1 1182.8,2485.1 1184.3,2485.1 1185.9,2485.1 1187.4,2485.1 1189.0,2485.1 1190.5,2485.1 1192.0,2485.1 1193.6,2485.1 1195.1,2485.1 1196.6,2485.1 1198.2,2485.1 1199.7,2485.1 1201.2,2485.1 1202.8,2485.1 1204.3,2485.1 1205.8,2485.1 1207.4,2485.1 1208.9,2485.1 1210.5,2485.1 1212.0,2485.1 1213.5,2485.1 1215.1,2485.1 1216.6,2485.1 1218.1,2485.1 1219.7,2485.1 1221.2,2485.1 1222.7,2485.1 1224.3,2485.1 1225.8,2485.1 1227.3,2485.1 1228.9,2485.1 1230.4,2485.1 1232.0,2485.1 1233.5,2485.1 1235.0,2485.1 1236.6,2485.1 1238.1,2485.1 1239.6,2485.1 1241.2,2485.1 1242.7,2485.1 1244.2,2485.1 1245.8,2485.1 1247.3,2485.1 1248.8,2485.1 1250.4,2485.1 1251.9,2485.1 1253.5,2485.1 1255.0,2485.1 1256.5,2485.1 1258.1,2485.1 1259.6,2485.1 1261.1,2485.1 1262.7,2485.1 1264.2,2485.1 1265.7,2485.1 1267.3,2485.1 1268.8,2485.1 1270.4,2485.1 1271.9,2485.1 1273.4,2485.1 1275.0,2485.1 1276.5,2485.1 1278.0,2485.1 1279.6,2485.1 1281.1,2485.1 1282.6,2485.1 1284.2,2485.1 1285.7,2485.1 1287.2,2485.1 1288.8,2485.1 1290.3,2485.1 1291.9,2485.1 1293.4,2485.1 1294.9,2485.1 1296.5,2485.1 1298.0,2485.1 1299.5,2485.1 1301.1,2485.1 1302.6,2485.1 1304.1,2485.1 1305.7,2485.1 1307.2,2485.1 1308.7,2485.1 1310.3,2485.1 1311.8,2485.1 1313.4,2485.1 1314.9,2485.1 1316.4,2485.1 1318.0,2485.1 1319.5,2485.1 1321.0,2485.1 1322.6,2485.1 1324.1,2485.1 1325.6,2485.1 1327.2,2485.1 1328.7,2485.1 1330.2,2485.1 1331.8,2485.1 1333.3,2485.1 1334.9,2485.1 1336.4,2485.1 1337.9,2485.1 1339.5,2485.1 1341.0,2485.1 1342.5,2485.1 1344.1,2485.1 1345.6,2485.1 1347.1,2485.1 1348.7,2485.1 1350.2,2485.1 1351.7,2485.1 1353.3,2485.1 1354.8,2485.1 1356.4,2485.1 1357.9,2485.1 1359.4,2485.1 1361.0,2485.1 1362.5,2485.1 1364.0,2485.1 1365.6,2485.1 1367.1,2485.1 1368.6,2485.1 1370.2,2485.1 1371.7,2485.1 1373.2,2485.1 1374.8,2485.1 1376.3,2485.1 1377.9,2485.1 1379.4,2485.1 1380.9,2485.1 1382.5,2485.1 1384.0,2485.1 1385.5,2485.1 1387.1,2485.1 1388.6,2485.1 1390.1,2485.1 1391.7,2485.1 1393.2,2485.1 1394.8,2485.1 1396.3,2485.1" fill="none" stroke="#ff2020" stroke-width="2.4" stroke-linejoin="round" stroke-dasharray="7,5"/>
<g fill-opacity="0.72">
<g fill="#d6d6d6" stroke="#6a6a6a" stroke-width="1"><rect x="822.04" y="2481.29" width="9.63" height="3.81"/><rect x="831.67" y="2455.57" width="9.63" height="29.53"/><rect x="841.31" y="2342.22" width="9.64" height="142.88"/><rect x="850.95" y="2201.26" width="9.63" height="283.85"/><rect x="860.58" y="2106.01" width="9.63" height="379.10"/><rect x="870.22" y="2085.05" width="9.63" height="400.05"/><rect x="879.85" y="2115.53" width="9.63" height="369.57"/><rect x="889.49" y="2241.26" width="9.63" height="243.84"/><rect x="899.12" y="2254.59" width="9.63" height="230.50"/><rect x="908.75" y="2353.65" width="9.63" height="131.44"/><rect x="918.39" y="2378.42" width="9.63" height="106.68"/><rect x="928.02" y="2391.76" width="9.63" height="93.34"/><rect x="937.66" y="2420.33" width="9.64" height="64.77"/><rect x="947.30" y="2452.71" width="9.63" height="32.38"/><rect x="956.93" y="2452.71" width="9.63" height="32.38"/><rect x="966.57" y="2450.81" width="9.63" height="34.29"/><rect x="976.20" y="2469.86" width="9.63" height="15.24"/><rect x="985.84" y="2473.67" width="9.63" height="11.43"/><rect x="995.47" y="2477.10" width="9.63" height="8.00"/><rect x="1005.11" y="2479.38" width="9.63" height="5.71"/><rect x="1014.74" y="2481.29" width="9.63" height="3.81"/><rect x="1024.38" y="2481.29" width="9.63" height="3.81"/><rect x="1034.01" y="2481.29" width="9.63" height="3.81"/><rect x="1043.64" y="2481.29" width="9.63" height="3.81"/><rect x="1053.28" y="2482.24" width="9.63" height="2.86"/><rect x="1062.91" y="2477.48" width="9.63" height="7.62"/><rect x="1072.55" y="2481.29" width="9.63" height="3.81"/><rect x="1082.18" y="2483.19" width="9.63" height="1.91"/><rect x="1091.82" y="2479.38" width="9.63" height="5.71"/><rect x="1101.45" y="2483.19" width="9.64" height="1.91"/><rect x="1111.09" y="2483.19" width="9.63" height="1.91"/><rect x="1139.99" y="2483.96" width="9.64" height="1.14"/><rect x="1159.26" y="2483.19" width="9.64" height="1.91"/><rect x="1168.90" y="2483.19" width="9.63" height="1.91"/><rect x="1207.44" y="2483.19" width="9.63" height="1.91"/><rect x="1226.71" y="2481.29" width="9.63" height="3.81"/><rect x="1274.88" y="2483.19" width="9.63" height="1.91"/><rect x="1361.60" y="2483.19" width="9.64" height="1.91"/><rect x="1380.87" y="2483.19" width="9.64" height="1.91"/></g>
</g>
<rect x="783.50" y="2081.40" width="617.80" height="403.70" fill="none" stroke="#8a8a8a" stroke-width="1.3" />
<line x1="783.50" y1="2447.00" x2="790.00" y2="2447.00" stroke="#8a8a8a" stroke-width="1.2" />
<line x1="1401.30" y1="2447.00" x2="1394.80" y2="2447.00" stroke="#8a8a8a" stroke-width="1.2" />
<line x1="783.50" y1="2408.90" x2="790.00" y2="2408.90" stroke="#8a8a8a" stroke-width="1.2" />
<line x1="1401.30" y1="2408.90" x2="1394.80" y2="2408.90" stroke="#8a8a8a" stroke-width="1.2" />
<line x1="783.50" y1="2370.80" x2="790.00" y2="2370.80" stroke="#8a8a8a" stroke-width="1.2" />
<line x1="1401.30" y1="2370.80" x2="1394.80" y2="2370.80" stroke="#8a8a8a" stroke-width="1.2" />
<line x1="783.50" y1="2332.70" x2="790.00" y2="2332.70" stroke="#8a8a8a" stroke-width="1.2" />
<line x1="1401.30" y1="2332.70" x2="1394.80" y2="2332.70" stroke="#8a8a8a" stroke-width="1.2" />
<line x1="783.50" y1="2294.60" x2="790.00" y2="2294.60" stroke="#8a8a8a" stroke-width="1.2" />
<line x1="1401.30" y1="2294.60" x2="1394.80" y2="2294.60" stroke="#8a8a8a" stroke-width="1.2" />
<line x1="783.50" y1="2256.50" x2="790.00" y2="2256.50" stroke="#8a8a8a" stroke-width="1.2" />
<line x1="1401.30" y1="2256.50" x2="1394.80" y2="2256.50" stroke="#8a8a8a" stroke-width="1.2" />
<line x1="783.50" y1="2218.40" x2="790.00" y2="2218.40" stroke="#8a8a8a" stroke-width="1.2" />
<line x1="1401.30" y1="2218.40" x2="1394.80" y2="2218.40" stroke="#8a8a8a" stroke-width="1.2" />
<line x1="783.50" y1="2180.30" x2="790.00" y2="2180.30" stroke="#8a8a8a" stroke-width="1.2" />
<line x1="1401.30" y1="2180.30" x2="1394.80" y2="2180.30" stroke="#8a8a8a" stroke-width="1.2" />
<line x1="783.50" y1="2142.20" x2="790.00" y2="2142.20" stroke="#8a8a8a" stroke-width="1.2" />
<line x1="1401.30" y1="2142.20" x2="1394.80" y2="2142.20" stroke="#8a8a8a" stroke-width="1.2" />
<line x1="783.50" y1="2104.10" x2="790.00" y2="2104.10" stroke="#8a8a8a" stroke-width="1.2" />
<line x1="1401.30" y1="2104.10" x2="1394.80" y2="2104.10" stroke="#8a8a8a" stroke-width="1.2" />
<line x1="879.85" y1="2081.40" x2="879.85" y2="2087.90" stroke="#8a8a8a" stroke-width="1.2" />
<line x1="976.20" y1="2081.40" x2="976.20" y2="2087.90" stroke="#8a8a8a" stroke-width="1.2" />
<line x1="1072.55" y1="2081.40" x2="1072.55" y2="2087.90" stroke="#8a8a8a" stroke-width="1.2" />
<line x1="1168.90" y1="2081.40" x2="1168.90" y2="2087.90" stroke="#8a8a8a" stroke-width="1.2" />
<line x1="1265.25" y1="2081.40" x2="1265.25" y2="2087.90" stroke="#8a8a8a" stroke-width="1.2" />
<line x1="1361.60" y1="2081.40" x2="1361.60" y2="2087.90" stroke="#8a8a8a" stroke-width="1.2" />
<text x="769.00" y="2499.60" font-size="18.4" text-anchor="end" fill="#111">0</text>
<text x="769.00" y="2459.00" font-size="18.4" text-anchor="end" fill="#111">20</text>
<text x="769.00" y="2420.90" font-size="18.4" text-anchor="end" fill="#111">40</text>
<text x="769.00" y="2382.80" font-size="18.4" text-anchor="end" fill="#111">60</text>
<text x="769.00" y="2344.70" font-size="18.4" text-anchor="end" fill="#111">80</text>
<text x="769.00" y="2306.60" font-size="18.4" text-anchor="end" fill="#111">100</text>
<text x="769.00" y="2268.50" font-size="18.4" text-anchor="end" fill="#111">120</text>
<text x="769.00" y="2230.40" font-size="18.4" text-anchor="end" fill="#111">140</text>
<text x="769.00" y="2192.30" font-size="18.4" text-anchor="end" fill="#111">160</text>
<text x="769.00" y="2154.20" font-size="18.4" text-anchor="end" fill="#111">180</text>
<text x="769.00" y="2116.10" font-size="18.4" text-anchor="end" fill="#111">200</text>
<text x="875.60" y="2511.00" font-size="18.4" text-anchor="middle" fill="#111">50</text>
<text x="971.00" y="2511.00" font-size="18.4" text-anchor="middle" fill="#111">100</text>
<text x="1066.30" y="2511.00" font-size="18.4" text-anchor="middle" fill="#111">150</text>
<text x="1164.10" y="2511.00" font-size="18.4" text-anchor="middle" fill="#111">200</text>
<text x="1263.50" y="2511.00" font-size="18.4" text-anchor="middle" fill="#111">250</text>
<text x="1362.30" y="2511.00" font-size="18.4" text-anchor="middle" fill="#111">300</text>
<text x="1205.80" y="2129.00" font-size="30.5" fill="#111"  textLength="166.5" lengthAdjust="spacingAndGlyphs">Equilibrated</text>
<text x="927.30" y="2538.00" font-size="26.3" fill="#111"  textLength="280.5" lengthAdjust="spacingAndGlyphs">Molecular weight (kDa)</text>
</svg>
</body></html>
